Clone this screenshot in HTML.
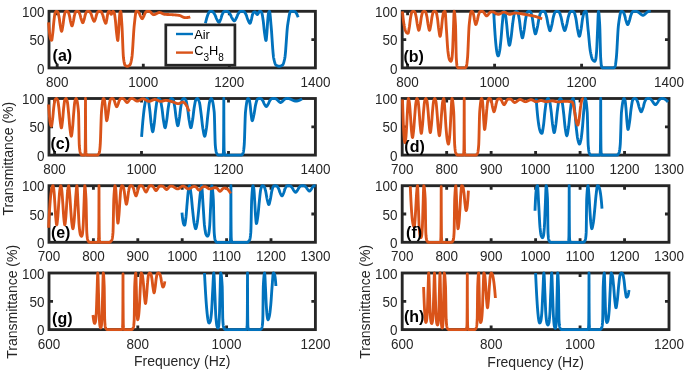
<!DOCTYPE html><html><head><meta charset="utf-8"><style>html,body{margin:0;padding:0;background:#fff}body{width:685px;height:372px;overflow:hidden;position:relative;font-family:"Liberation Sans",sans-serif}</style></head><body><svg width="685" height="372" viewBox="0 0 685 372" style="position:absolute;left:0;top:0;font-family:'Liberation Sans',sans-serif;will-change:transform;opacity:0.9999">
<rect width="685" height="372" fill="#fff"/>
<path d="M57.20 67.90 v-4.03 M57.20 11.30 v4.03" stroke="#262626" stroke-width="2.85" fill="none"/>
<text transform="translate(57.20 86.80) scale(0.930 1)" font-size="14.50" fill="#262626" text-anchor="middle">800</text>
<path d="M143.30 67.90 v-4.03 M143.30 11.30 v4.03" stroke="#262626" stroke-width="2.85" fill="none"/>
<text transform="translate(143.30 86.80) scale(0.930 1)" font-size="14.50" fill="#262626" text-anchor="middle">1000</text>
<path d="M229.30 67.90 v-4.03 M229.30 11.30 v4.03" stroke="#262626" stroke-width="2.85" fill="none"/>
<text transform="translate(229.30 86.80) scale(0.930 1)" font-size="14.50" fill="#262626" text-anchor="middle">1200</text>
<text transform="translate(315.40 86.80) scale(0.930 1)" font-size="14.50" fill="#262626" text-anchor="middle">1400</text>
<path d="M49.00 39.60 h4.03 M315.40 39.60 h-4.03" stroke="#262626" stroke-width="2.85" fill="none"/>
<text transform="translate(44.40 16.90) scale(0.930 1)" font-size="14.50" fill="#262626" text-anchor="end">100</text>
<text transform="translate(44.40 45.20) scale(0.930 1)" font-size="14.50" fill="#262626" text-anchor="end">50</text>
<text transform="translate(44.40 73.50) scale(0.930 1)" font-size="14.50" fill="#262626" text-anchor="end">0</text>
<rect x="49.00" y="11.30" width="266.40" height="56.60" fill="none" stroke="#262626" stroke-width="2.85"/>
<path d="M205.40 23.30 L205.52 22.77 L205.65 22.25 L205.77 21.74 L205.90 21.24 L206.02 20.75 L206.15 20.26 L206.27 19.78 L206.40 19.32 L206.52 18.86 L206.65 18.41 L206.77 17.98 L206.90 17.55 L207.02 17.14 L207.15 16.73 L207.27 16.34 L207.40 15.96 L207.52 15.60 L207.65 15.24 L207.77 14.90 L207.90 14.57 L208.02 14.26 L208.15 13.96 L208.27 13.67 L208.40 13.40 L208.52 13.15 L208.65 12.91 L208.77 12.68 L208.90 12.47 L209.02 12.28 L209.15 12.10 L209.27 11.94 L209.40 11.80 L209.52 11.67 L209.65 11.56 L209.77 11.47 L209.90 11.40 L210.02 11.35 L210.15 11.31 L210.27 11.30 L210.30 11.30 L210.40 11.30 L210.52 11.30 L210.65 11.31 L210.77 11.32 L210.90 11.33 L211.02 11.34 L211.15 11.35 L211.27 11.37 L211.40 11.39 L211.52 11.41 L211.64 11.43 L211.77 11.46 L211.89 11.48 L212.02 11.51 L212.14 11.54 L212.27 11.57 L212.39 11.60 L212.48 11.62 L212.52 11.63 L212.64 11.68 L212.77 11.75 L212.89 11.84 L213.02 11.95 L213.14 12.07 L213.27 12.21 L213.39 12.35 L213.52 12.51 L213.64 12.68 L213.77 12.86 L213.89 13.05 L214.02 13.24 L214.14 13.44 L214.27 13.64 L214.39 13.84 L214.52 14.04 L214.64 14.24 L214.65 14.25 L214.77 14.45 L214.89 14.68 L215.02 14.94 L215.14 15.22 L215.27 15.51 L215.39 15.82 L215.52 16.14 L215.64 16.46 L215.77 16.79 L215.89 17.12 L216.02 17.44 L216.14 17.76 L216.27 18.07 L216.39 18.37 L216.52 18.65 L216.64 18.92 L216.77 19.16 L216.82 19.26 L216.89 19.38 L217.02 19.61 L217.14 19.84 L217.27 20.07 L217.39 20.31 L217.52 20.55 L217.64 20.78 L217.77 21.00 L217.89 21.22 L218.01 21.42 L218.14 21.61 L218.26 21.78 L218.39 21.93 L218.51 22.06 L218.64 22.16 L218.76 22.24 L218.89 22.29 L219.00 22.30 L219.01 22.30 L219.14 22.26 L219.26 22.17 L219.39 22.03 L219.51 21.85 L219.64 21.64 L219.76 21.39 L219.89 21.11 L220.01 20.82 L220.14 20.52 L220.26 20.21 L220.39 19.89 L220.51 19.59 L220.64 19.29 L220.65 19.26 L220.76 18.99 L220.89 18.64 L221.01 18.27 L221.14 17.87 L221.26 17.45 L221.39 17.02 L221.51 16.59 L221.64 16.16 L221.76 15.74 L221.89 15.34 L222.01 14.97 L222.14 14.63 L222.26 14.33 L222.30 14.25 L222.39 14.07 L222.51 13.80 L222.64 13.54 L222.76 13.28 L222.89 13.03 L223.01 12.78 L223.14 12.55 L223.26 12.34 L223.39 12.15 L223.51 11.98 L223.64 11.84 L223.76 11.73 L223.89 11.65 L223.95 11.62 L224.01 11.60 L224.13 11.56 L224.26 11.52 L224.38 11.48 L224.51 11.45 L224.63 11.42 L224.76 11.39 L224.88 11.37 L225.01 11.35 L225.13 11.33 L225.26 11.32 L225.38 11.31 L225.51 11.30 L225.60 11.30 L225.63 11.30 L225.76 11.30 L225.88 11.31 L226.01 11.31 L226.13 11.32 L226.26 11.33 L226.38 11.34 L226.51 11.35 L226.63 11.37 L226.76 11.39 L226.88 11.41 L227.01 11.43 L227.13 11.45 L227.26 11.47 L227.38 11.49 L227.51 11.52 L227.63 11.55 L227.76 11.57 L227.78 11.58 L227.88 11.61 L228.01 11.66 L228.13 11.73 L228.26 11.82 L228.38 11.92 L228.51 12.03 L228.63 12.15 L228.76 12.29 L228.88 12.43 L229.01 12.59 L229.13 12.74 L229.26 12.91 L229.38 13.08 L229.51 13.25 L229.63 13.43 L229.76 13.60 L229.88 13.78 L229.95 13.87 L230.01 13.95 L230.13 14.15 L230.25 14.36 L230.38 14.60 L230.50 14.85 L230.63 15.11 L230.75 15.38 L230.88 15.66 L231.00 15.95 L231.13 16.24 L231.25 16.52 L231.38 16.80 L231.50 17.08 L231.63 17.34 L231.75 17.60 L231.88 17.83 L232.00 18.06 L232.12 18.25 L232.13 18.26 L232.25 18.45 L232.38 18.65 L232.50 18.85 L232.63 19.06 L232.75 19.27 L232.88 19.47 L233.00 19.67 L233.13 19.86 L233.25 20.05 L233.38 20.22 L233.50 20.37 L233.63 20.51 L233.75 20.64 L233.88 20.74 L234.00 20.82 L234.13 20.87 L234.25 20.90 L234.30 20.90 L234.38 20.89 L234.50 20.85 L234.63 20.78 L234.75 20.67 L234.88 20.54 L235.00 20.38 L235.13 20.20 L235.25 20.01 L235.38 19.80 L235.50 19.58 L235.63 19.35 L235.75 19.12 L235.88 18.88 L236.00 18.65 L236.13 18.42 L236.23 18.25 L236.25 18.21 L236.37 17.97 L236.50 17.71 L236.62 17.43 L236.75 17.14 L236.87 16.83 L237.00 16.51 L237.12 16.19 L237.25 15.87 L237.37 15.55 L237.50 15.23 L237.62 14.93 L237.75 14.64 L237.87 14.38 L238.00 14.13 L238.12 13.91 L238.15 13.87 L238.25 13.72 L238.37 13.52 L238.50 13.32 L238.62 13.13 L238.75 12.93 L238.87 12.75 L239.00 12.57 L239.12 12.40 L239.25 12.24 L239.37 12.09 L239.50 11.96 L239.62 11.84 L239.75 11.74 L239.87 11.66 L240.00 11.60 L240.07 11.58 L240.12 11.57 L240.25 11.54 L240.37 11.51 L240.50 11.48 L240.62 11.45 L240.75 11.43 L240.87 11.40 L241.00 11.38 L241.12 11.36 L241.25 11.35 L241.37 11.33 L241.50 11.32 L241.62 11.31 L241.75 11.31 L241.87 11.30 L242.00 11.30 L242.00 11.30 L242.12 11.30 L242.25 11.31 L242.37 11.31 L242.50 11.32 L242.62 11.34 L242.74 11.35 L242.87 11.37 L242.99 11.40 L243.12 11.42 L243.24 11.45 L243.37 11.47 L243.49 11.50 L243.62 11.54 L243.74 11.57 L243.87 11.61 L243.99 11.65 L244.00 11.65 L244.12 11.70 L244.24 11.77 L244.37 11.88 L244.49 12.00 L244.62 12.14 L244.74 12.31 L244.87 12.48 L244.99 12.68 L245.12 12.88 L245.24 13.10 L245.37 13.32 L245.49 13.55 L245.62 13.79 L245.74 14.03 L245.87 14.26 L245.99 14.50 L246.00 14.52 L246.12 14.75 L246.24 15.04 L246.37 15.35 L246.49 15.68 L246.62 16.04 L246.74 16.41 L246.87 16.79 L246.99 17.18 L247.12 17.57 L247.24 17.96 L247.37 18.34 L247.49 18.70 L247.62 19.05 L247.74 19.39 L247.87 19.69 L247.99 19.97 L248.00 19.99 L248.12 20.23 L248.24 20.50 L248.37 20.78 L248.49 21.06 L248.62 21.34 L248.74 21.62 L248.86 21.89 L248.99 22.14 L249.11 22.38 L249.24 22.60 L249.36 22.79 L249.49 22.96 L249.61 23.10 L249.74 23.21 L249.86 23.27 L249.99 23.30 L250.00 23.30 L250.11 23.25 L250.24 23.11 L250.36 22.88 L250.49 22.57 L250.61 22.21 L250.74 21.81 L250.86 21.39 L250.99 20.95 L251.11 20.52 L251.22 20.15 L251.24 20.11 L251.36 19.66 L251.49 19.15 L251.61 18.59 L251.74 17.99 L251.86 17.39 L251.99 16.79 L252.11 16.22 L252.24 15.70 L252.36 15.23 L252.45 14.96 L252.49 14.85 L252.61 14.48 L252.74 14.11 L252.86 13.75 L252.99 13.41 L253.11 13.10 L253.24 12.82 L253.36 12.58 L253.49 12.40 L253.61 12.27 L253.68 12.23 L253.74 12.20 L253.86 12.15 L253.99 12.09 L254.11 12.05 L254.24 12.01 L254.36 11.97 L254.49 11.94 L254.61 11.92 L254.74 11.91 L254.86 11.90 L254.90 11.90 L254.98 11.91 L255.11 11.96 L255.23 12.04 L255.36 12.15 L255.48 12.29 L255.61 12.45 L255.73 12.62 L255.86 12.81 L255.98 13.01 L256.11 13.21 L256.23 13.42 L256.36 13.61 L256.48 13.80 L256.61 13.98 L256.73 14.13 L256.86 14.27 L256.98 14.38 L257.11 14.45 L257.23 14.49 L257.30 14.50 L257.36 14.49 L257.48 14.42 L257.61 14.29 L257.73 14.11 L257.86 13.92 L257.98 13.72 L258.05 13.62 L258.11 13.53 L258.23 13.29 L258.36 13.03 L258.48 12.75 L258.61 12.49 L258.73 12.26 L258.80 12.16 L258.86 12.08 L258.98 11.91 L259.11 11.75 L259.23 11.61 L259.36 11.49 L259.48 11.42 L259.55 11.39 L259.61 11.38 L259.73 11.36 L259.86 11.34 L259.98 11.32 L260.11 11.31 L260.23 11.30 L260.30 11.30 L260.36 11.30 L260.48 11.33 L260.61 11.38 L260.73 11.45 L260.86 11.55 L260.98 11.66 L261.10 11.80 L261.23 11.95 L261.35 12.11 L261.48 12.29 L261.60 12.48 L261.73 12.67 L261.73 12.68 L261.85 12.95 L261.98 13.35 L262.10 13.85 L262.23 14.44 L262.35 15.11 L262.48 15.85 L262.60 16.63 L262.73 17.46 L262.85 18.31 L262.98 19.16 L263.10 20.02 L263.15 20.33 L263.23 20.89 L263.35 21.88 L263.48 22.98 L263.60 24.16 L263.73 25.40 L263.85 26.66 L263.98 27.92 L264.10 29.16 L264.23 30.34 L264.35 31.44 L264.48 32.44 L264.57 33.12 L264.60 33.30 L264.73 34.15 L264.85 35.03 L264.98 35.91 L265.10 36.78 L265.23 37.60 L265.35 38.36 L265.48 39.04 L265.60 39.62 L265.73 40.07 L265.85 40.37 L265.98 40.50 L266.00 40.50 L266.10 40.34 L266.23 39.74 L266.35 38.80 L266.48 37.59 L266.60 36.23 L266.73 34.80 L266.85 33.39 L266.88 33.12 L266.98 31.93 L267.10 30.16 L267.23 28.19 L267.35 26.14 L267.47 24.11 L267.60 22.24 L267.72 20.62 L267.75 20.33 L267.85 19.23 L267.97 17.83 L268.10 16.49 L268.22 15.24 L268.35 14.17 L268.47 13.32 L268.60 12.75 L268.62 12.67 L268.72 12.42 L268.85 12.12 L268.97 11.86 L269.10 11.64 L269.22 11.47 L269.35 11.35 L269.47 11.30 L269.50 11.30 L269.60 11.40 L269.72 11.82 L269.85 12.51 L269.97 13.43 L270.10 14.55 L270.22 15.83 L270.35 17.22 L270.47 18.69 L270.60 20.19 L270.72 21.69 L270.85 23.14 L270.97 24.51 L271.00 24.80 L271.10 25.83 L271.22 27.27 L271.35 28.82 L271.47 30.46 L271.60 32.18 L271.72 33.95 L271.85 35.78 L271.97 37.63 L272.10 39.50 L272.22 41.37 L272.35 43.23 L272.47 45.05 L272.60 46.83 L272.72 48.54 L272.85 50.18 L272.97 51.73 L273.10 53.17 L273.22 54.48 L273.35 55.65 L273.47 56.68 L273.59 57.53 L273.70 58.10 L273.72 58.19 L273.84 58.78 L273.97 59.36 L274.09 59.91 L274.22 60.44 L274.34 60.95 L274.47 61.44 L274.59 61.91 L274.72 62.35 L274.84 62.76 L274.97 63.15 L275.09 63.50 L275.22 63.83 L275.34 64.12 L275.47 64.39 L275.59 64.61 L275.72 64.80 L275.84 64.96 L275.97 65.08 L276.00 65.10 L276.09 65.16 L276.22 65.25 L276.34 65.33 L276.47 65.41 L276.59 65.48 L276.72 65.56 L276.84 65.62 L276.97 65.69 L277.09 65.75 L277.22 65.81 L277.34 65.87 L277.47 65.93 L277.59 65.98 L277.72 66.02 L277.84 66.07 L277.97 66.11 L278.09 66.14 L278.22 66.18 L278.34 66.20 L278.47 66.23 L278.59 66.25 L278.72 66.27 L278.84 66.28 L278.97 66.29 L279.09 66.30 L279.20 66.30 L279.22 66.30 L279.34 66.30 L279.47 66.29 L279.59 66.28 L279.71 66.27 L279.84 66.25 L279.96 66.23 L280.09 66.20 L280.21 66.18 L280.34 66.15 L280.46 66.11 L280.59 66.07 L280.71 66.03 L280.84 65.99 L280.96 65.94 L281.09 65.89 L281.21 65.83 L281.34 65.77 L281.46 65.71 L281.59 65.65 L281.71 65.58 L281.84 65.51 L281.96 65.44 L282.09 65.37 L282.21 65.29 L282.34 65.21 L282.46 65.13 L282.50 65.10 L282.59 65.03 L282.71 64.90 L282.84 64.72 L282.96 64.51 L283.09 64.27 L283.21 63.99 L283.34 63.67 L283.46 63.33 L283.59 62.96 L283.71 62.56 L283.84 62.13 L283.96 61.67 L284.09 61.20 L284.21 60.70 L284.34 60.18 L284.46 59.64 L284.59 59.09 L284.71 58.52 L284.80 58.10 L284.84 57.92 L284.96 57.18 L285.09 56.27 L285.21 55.19 L285.34 53.96 L285.46 52.61 L285.59 51.14 L285.71 49.57 L285.83 47.93 L285.96 46.22 L286.08 44.46 L286.21 42.67 L286.33 40.87 L286.46 39.07 L286.58 37.29 L286.71 35.54 L286.83 33.84 L286.96 32.21 L287.08 30.66 L287.21 29.21 L287.33 27.88 L287.46 26.68 L287.58 25.63 L287.70 24.80 L287.71 24.75 L287.83 23.93 L287.96 23.12 L288.08 22.31 L288.21 21.50 L288.33 20.70 L288.46 19.91 L288.58 19.13 L288.71 18.37 L288.83 17.64 L288.96 16.92 L289.08 16.24 L289.21 15.58 L289.33 14.96 L289.46 14.38 L289.58 13.83 L289.71 13.33 L289.83 12.88 L289.96 12.48 L290.08 12.13 L290.21 11.84 L290.33 11.60 L290.46 11.43 L290.58 11.33 L290.70 11.30 L290.71 11.30 L290.83 11.30 L290.96 11.30 L291.08 11.30 L291.21 11.30 L291.33 11.31 L291.46 11.31 L291.58 11.31 L291.71 11.32 L291.83 11.32 L291.96 11.33 L292.08 11.33 L292.20 11.34 L292.33 11.35 L292.45 11.36 L292.58 11.36 L292.70 11.37 L292.83 11.38 L292.95 11.39 L293.08 11.40 L293.20 11.41 L293.33 11.42 L293.45 11.44 L293.58 11.45 L293.70 11.46 L293.83 11.48 L293.95 11.49 L294.08 11.50 L294.20 11.52 L294.33 11.54 L294.45 11.55 L294.58 11.57 L294.70 11.59 L294.80 11.60 L294.83 11.60 L294.95 11.64 L295.08 11.69 L295.20 11.76 L295.33 11.86 L295.45 11.97 L295.58 12.09 L295.70 12.24 L295.83 12.40 L295.95 12.57 L296.08 12.76 L296.20 12.96 L296.33 13.17 L296.45 13.40 L296.58 13.64 L296.70 13.88 L296.83 14.14 L296.95 14.40 L297.08 14.67 L297.20 14.95 L297.33 15.23 L297.45 15.52 L297.58 15.81 L297.70 16.10 L297.83 16.40 L297.95 16.70 L298.08 17.00 L298.20 17.30" fill="none" stroke="#0072BD" stroke-width="2.85" stroke-linejoin="round" stroke-linecap="butt"/>
<path d="M48.60 22.30 L48.72 24.07 L48.85 25.73 L48.97 27.28 L49.10 28.73 L49.22 30.06 L49.35 31.30 L49.47 32.44 L49.60 33.48 L49.72 34.44 L49.85 35.31 L49.97 36.09 L50.10 36.80 L50.22 37.43 L50.35 37.98 L50.47 38.47 L50.60 38.89 L50.72 39.25 L50.85 39.55 L50.97 39.79 L51.10 39.98 L51.22 40.13 L51.35 40.23 L51.47 40.28 L51.60 40.30 L51.60 40.30 L51.72 40.17 L51.85 39.80 L51.97 39.22 L52.10 38.48 L52.22 37.61 L52.35 36.64 L52.47 35.61 L52.60 34.57 L52.72 33.54 L52.80 32.94 L52.85 32.54 L52.97 31.39 L53.10 30.09 L53.22 28.68 L53.35 27.20 L53.47 25.70 L53.60 24.23 L53.72 22.83 L53.85 21.54 L53.97 20.42 L54.00 20.21 L54.10 19.41 L54.22 18.41 L54.35 17.40 L54.47 16.44 L54.60 15.52 L54.72 14.69 L54.85 13.96 L54.97 13.35 L55.10 12.89 L55.20 12.63 L55.22 12.59 L55.35 12.36 L55.47 12.15 L55.60 11.95 L55.72 11.78 L55.85 11.63 L55.97 11.50 L56.10 11.40 L56.22 11.34 L56.35 11.30 L56.40 11.30 L56.47 11.30 L56.60 11.32 L56.72 11.34 L56.85 11.38 L56.97 11.43 L57.10 11.48 L57.22 11.55 L57.35 11.63 L57.47 11.71 L57.60 11.80 L57.70 11.88 L57.72 11.90 L57.85 12.07 L57.97 12.34 L58.10 12.70 L58.22 13.12 L58.35 13.61 L58.47 14.14 L58.60 14.72 L58.72 15.31 L58.85 15.92 L58.97 16.53 L59.00 16.66 L59.10 17.18 L59.22 17.94 L59.35 18.81 L59.47 19.75 L59.60 20.73 L59.72 21.73 L59.85 22.72 L59.97 23.67 L60.10 24.55 L60.22 25.35 L60.30 25.78 L60.35 26.04 L60.47 26.73 L60.60 27.45 L60.72 28.17 L60.85 28.86 L60.97 29.51 L61.10 30.09 L61.22 30.59 L61.35 30.97 L61.47 31.21 L61.60 31.30 L61.60 31.30 L61.72 31.21 L61.85 30.95 L61.97 30.55 L62.10 30.03 L62.22 29.41 L62.35 28.73 L62.47 28.00 L62.60 27.25 L62.72 26.51 L62.85 25.79 L62.85 25.78 L62.97 25.04 L63.10 24.17 L63.22 23.21 L63.35 22.20 L63.47 21.17 L63.60 20.13 L63.72 19.14 L63.85 18.21 L63.97 17.38 L64.10 16.67 L64.10 16.66 L64.22 16.04 L64.35 15.41 L64.47 14.78 L64.60 14.19 L64.72 13.63 L64.85 13.12 L64.97 12.68 L65.10 12.32 L65.22 12.05 L65.35 11.88 L65.35 11.88 L65.47 11.78 L65.60 11.69 L65.72 11.60 L65.85 11.53 L65.97 11.46 L66.10 11.41 L66.22 11.36 L66.35 11.33 L66.47 11.31 L66.60 11.30 L66.60 11.30 L66.72 11.30 L66.85 11.32 L66.97 11.34 L67.10 11.37 L67.22 11.40 L67.35 11.44 L67.47 11.49 L67.60 11.54 L67.72 11.60 L67.85 11.67 L67.95 11.72 L67.97 11.74 L68.10 11.85 L68.22 12.04 L68.35 12.28 L68.47 12.57 L68.60 12.91 L68.72 13.28 L68.85 13.67 L68.97 14.09 L69.10 14.52 L69.22 14.94 L69.30 15.21 L69.35 15.38 L69.47 15.88 L69.60 16.46 L69.72 17.09 L69.85 17.77 L69.97 18.47 L70.10 19.17 L70.22 19.85 L70.35 20.51 L70.47 21.12 L70.60 21.66 L70.65 21.87 L70.72 22.14 L70.85 22.63 L70.97 23.14 L71.10 23.64 L71.22 24.13 L71.35 24.59 L71.47 25.00 L71.60 25.35 L71.72 25.62 L71.85 25.81 L71.97 25.90 L72.00 25.90 L72.10 25.86 L72.22 25.70 L72.35 25.42 L72.47 25.06 L72.60 24.62 L72.72 24.13 L72.85 23.61 L72.97 23.06 L73.10 22.52 L73.22 21.99 L73.25 21.87 L73.35 21.46 L73.47 20.84 L73.60 20.15 L73.72 19.42 L73.85 18.67 L73.97 17.91 L74.10 17.18 L74.22 16.48 L74.35 15.86 L74.47 15.32 L74.50 15.21 L74.60 14.86 L74.72 14.40 L74.85 13.94 L74.97 13.50 L75.10 13.08 L75.22 12.70 L75.35 12.37 L75.47 12.09 L75.60 11.88 L75.72 11.74 L75.75 11.72 L75.85 11.67 L75.97 11.60 L76.10 11.54 L76.22 11.48 L76.35 11.43 L76.47 11.39 L76.60 11.35 L76.72 11.32 L76.85 11.31 L76.97 11.30 L77.00 11.30 L77.09 11.30 L77.22 11.31 L77.34 11.32 L77.47 11.34 L77.59 11.36 L77.72 11.39 L77.84 11.42 L77.97 11.46 L78.09 11.50 L78.22 11.54 L78.34 11.59 L78.45 11.63 L78.47 11.64 L78.59 11.72 L78.72 11.85 L78.84 12.02 L78.97 12.22 L79.09 12.46 L79.22 12.71 L79.34 12.99 L79.47 13.29 L79.59 13.59 L79.72 13.91 L79.84 14.22 L79.90 14.36 L79.97 14.54 L80.09 14.91 L80.22 15.33 L80.34 15.79 L80.47 16.28 L80.59 16.79 L80.72 17.30 L80.84 17.80 L80.97 18.29 L81.09 18.75 L81.22 19.17 L81.34 19.54 L81.35 19.55 L81.47 19.89 L81.59 20.25 L81.72 20.62 L81.84 20.98 L81.97 21.33 L82.09 21.67 L82.22 21.97 L82.34 22.23 L82.47 22.44 L82.59 22.60 L82.72 22.68 L82.80 22.70 L82.84 22.69 L82.97 22.61 L83.09 22.45 L83.22 22.21 L83.34 21.91 L83.47 21.56 L83.59 21.18 L83.72 20.78 L83.84 20.37 L83.97 19.96 L84.09 19.57 L84.10 19.55 L84.22 19.16 L84.34 18.69 L84.47 18.17 L84.59 17.62 L84.72 17.05 L84.84 16.49 L84.97 15.93 L85.09 15.41 L85.22 14.93 L85.34 14.52 L85.40 14.36 L85.47 14.17 L85.59 13.82 L85.72 13.47 L85.84 13.14 L85.97 12.82 L86.09 12.52 L86.22 12.25 L86.34 12.02 L86.47 11.84 L86.59 11.70 L86.70 11.63 L86.72 11.62 L86.84 11.57 L86.97 11.52 L87.09 11.47 L87.22 11.43 L87.34 11.39 L87.47 11.36 L87.59 11.34 L87.72 11.32 L87.84 11.31 L87.97 11.30 L88.00 11.30 L88.09 11.30 L88.22 11.31 L88.34 11.32 L88.47 11.33 L88.59 11.35 L88.72 11.37 L88.84 11.39 L88.97 11.42 L89.09 11.45 L89.22 11.49 L89.34 11.52 L89.47 11.56 L89.55 11.59 L89.59 11.61 L89.72 11.68 L89.84 11.79 L89.97 11.93 L90.09 12.09 L90.22 12.28 L90.34 12.49 L90.47 12.71 L90.59 12.95 L90.72 13.20 L90.84 13.45 L90.97 13.71 L91.09 13.96 L91.10 13.98 L91.22 14.24 L91.34 14.56 L91.47 14.91 L91.59 15.30 L91.72 15.70 L91.84 16.11 L91.97 16.53 L92.09 16.95 L92.22 17.35 L92.34 17.73 L92.47 18.09 L92.59 18.41 L92.65 18.54 L92.72 18.69 L92.84 18.98 L92.97 19.28 L93.09 19.59 L93.22 19.88 L93.34 20.17 L93.47 20.44 L93.59 20.68 L93.72 20.89 L93.84 21.07 L93.97 21.20 L94.09 21.28 L94.20 21.30 L94.22 21.30 L94.34 21.25 L94.47 21.11 L94.59 20.92 L94.72 20.67 L94.84 20.37 L94.97 20.04 L95.09 19.69 L95.22 19.33 L95.34 18.98 L95.47 18.63 L95.50 18.54 L95.59 18.28 L95.72 17.88 L95.84 17.43 L95.97 16.95 L96.09 16.46 L96.22 15.96 L96.34 15.47 L96.47 15.00 L96.59 14.57 L96.72 14.20 L96.80 13.98 L96.84 13.88 L96.97 13.57 L97.09 13.27 L97.22 12.97 L97.34 12.69 L97.47 12.42 L97.59 12.18 L97.72 11.97 L97.84 11.80 L97.97 11.67 L98.09 11.59 L98.10 11.59 L98.22 11.55 L98.34 11.50 L98.47 11.46 L98.59 11.42 L98.72 11.39 L98.84 11.36 L98.97 11.34 L99.09 11.32 L99.22 11.31 L99.34 11.30 L99.40 11.30 L99.47 11.30 L99.59 11.31 L99.72 11.32 L99.84 11.33 L99.97 11.35 L100.09 11.37 L100.22 11.40 L100.34 11.43 L100.47 11.47 L100.59 11.50 L100.72 11.54 L100.84 11.59 L100.97 11.63 L101.00 11.65 L101.09 11.69 L101.22 11.79 L101.34 11.93 L101.47 12.10 L101.59 12.30 L101.72 12.52 L101.84 12.77 L101.97 13.04 L102.09 13.32 L102.22 13.60 L102.34 13.90 L102.47 14.20 L102.59 14.49 L102.60 14.52 L102.72 14.81 L102.84 15.18 L102.97 15.59 L103.09 16.03 L103.22 16.49 L103.34 16.97 L103.47 17.46 L103.59 17.95 L103.72 18.42 L103.84 18.87 L103.97 19.30 L104.09 19.69 L104.20 19.99 L104.22 20.03 L104.34 20.36 L104.47 20.71 L104.59 21.06 L104.72 21.41 L104.84 21.75 L104.97 22.07 L105.09 22.37 L105.22 22.65 L105.34 22.88 L105.46 23.07 L105.59 23.21 L105.71 23.28 L105.80 23.30 L105.84 23.29 L105.96 23.12 L106.09 22.78 L106.21 22.31 L106.34 21.75 L106.46 21.14 L106.59 20.51 L106.70 19.99 L106.71 19.92 L106.84 19.25 L106.96 18.47 L107.09 17.62 L107.21 16.76 L107.34 15.93 L107.46 15.18 L107.59 14.56 L107.60 14.52 L107.71 14.03 L107.84 13.51 L107.96 13.01 L108.09 12.55 L108.21 12.16 L108.34 11.87 L108.46 11.68 L108.50 11.65 L108.59 11.59 L108.71 11.51 L108.84 11.45 L108.96 11.39 L109.09 11.35 L109.21 11.32 L109.34 11.30 L109.40 11.30 L109.46 11.31 L109.59 11.39 L109.71 11.54 L109.84 11.75 L109.96 12.00 L110.09 12.28 L110.21 12.59 L110.34 12.90 L110.46 13.21 L110.59 13.50 L110.71 13.76 L110.84 13.99 L110.96 14.16 L111.09 14.27 L111.20 14.30 L111.21 14.30 L111.34 14.25 L111.46 14.13 L111.59 13.94 L111.71 13.71 L111.84 13.43 L111.96 13.14 L112.09 12.83 L112.21 12.52 L112.34 12.22 L112.46 11.94 L112.59 11.70 L112.71 11.50 L112.84 11.37 L112.96 11.30 L113.00 11.30 L113.09 11.31 L113.21 11.35 L113.34 11.43 L113.46 11.54 L113.59 11.68 L113.71 11.84 L113.84 12.03 L113.96 12.24 L114.09 12.46 L114.20 12.67 L114.21 12.70 L114.34 13.05 L114.46 13.57 L114.59 14.23 L114.71 15.00 L114.84 15.87 L114.96 16.81 L115.09 17.80 L115.21 18.82 L115.34 19.84 L115.40 20.33 L115.46 20.86 L115.59 22.05 L115.71 23.39 L115.84 24.82 L115.96 26.31 L116.09 27.81 L116.21 29.28 L116.34 30.67 L116.46 31.93 L116.59 33.03 L116.60 33.12 L116.71 34.03 L116.84 35.07 L116.96 36.12 L117.09 37.13 L117.21 38.07 L117.34 38.91 L117.46 39.61 L117.59 40.13 L117.71 40.43 L117.80 40.50 L117.84 40.47 L117.96 39.92 L118.09 38.83 L118.21 37.36 L118.34 35.68 L118.46 33.95 L118.53 33.12 L118.59 32.24 L118.71 30.14 L118.84 27.75 L118.96 25.27 L119.09 22.90 L119.21 20.85 L119.25 20.33 L119.34 19.16 L119.46 17.48 L119.59 15.89 L119.71 14.50 L119.84 13.40 L119.96 12.71 L119.97 12.67 L120.09 12.33 L120.21 11.98 L120.34 11.70 L120.46 11.48 L120.59 11.34 L120.70 11.30 L120.71 11.30 L120.84 11.59 L120.96 12.31 L121.09 13.39 L121.21 14.77 L121.34 16.39 L121.46 18.18 L121.59 20.06 L121.71 21.99 L121.84 23.88 L121.90 24.80 L121.96 25.75 L122.09 28.01 L122.21 30.65 L122.34 33.56 L122.46 36.67 L122.59 39.89 L122.71 43.12 L122.84 46.28 L122.96 49.27 L123.09 52.00 L123.21 54.39 L123.34 56.35 L123.46 57.78 L123.50 58.10 L123.59 58.75 L123.71 59.64 L123.84 60.48 L123.96 61.26 L124.09 61.98 L124.21 62.64 L124.34 63.24 L124.46 63.76 L124.59 64.21 L124.71 64.58 L124.84 64.86 L124.96 65.06 L125.00 65.10 L125.09 65.18 L125.21 65.30 L125.34 65.41 L125.46 65.52 L125.59 65.62 L125.71 65.71 L125.84 65.80 L125.96 65.88 L126.09 65.95 L126.21 66.02 L126.34 66.08 L126.46 66.13 L126.59 66.18 L126.71 66.22 L126.84 66.25 L126.96 66.27 L127.09 66.29 L127.21 66.30 L127.30 66.30 L127.34 66.30 L127.46 66.29 L127.59 66.28 L127.71 66.26 L127.84 66.24 L127.96 66.20 L128.09 66.17 L128.21 66.12 L128.34 66.07 L128.46 66.01 L128.59 65.95 L128.71 65.89 L128.84 65.81 L128.96 65.74 L129.09 65.65 L129.21 65.57 L129.34 65.48 L129.46 65.38 L129.59 65.28 L129.71 65.18 L129.80 65.10 L129.84 65.07 L129.96 64.92 L130.09 64.72 L130.21 64.47 L130.34 64.18 L130.46 63.85 L130.59 63.47 L130.71 63.06 L130.84 62.61 L130.96 62.12 L131.09 61.60 L131.21 61.05 L131.34 60.47 L131.46 59.87 L131.59 59.23 L131.71 58.58 L131.80 58.10 L131.84 57.90 L131.96 57.03 L132.09 55.94 L132.21 54.65 L132.34 53.18 L132.46 51.56 L132.59 49.80 L132.71 47.94 L132.84 46.00 L132.96 43.99 L133.09 41.94 L133.21 39.88 L133.34 37.83 L133.46 35.81 L133.58 33.85 L133.71 31.96 L133.83 30.17 L133.96 28.51 L134.08 27.00 L134.21 25.65 L134.30 24.80 L134.33 24.49 L134.46 23.36 L134.58 22.20 L134.71 21.04 L134.83 19.88 L134.96 18.74 L135.08 17.63 L135.21 16.57 L135.33 15.57 L135.46 14.63 L135.58 13.79 L135.71 13.05 L135.83 12.42 L135.96 11.91 L136.08 11.55 L136.21 11.35 L136.30 11.30 L136.33 11.30 L136.46 11.30 L136.58 11.31 L136.71 11.32 L136.83 11.33 L136.96 11.35 L137.08 11.37 L137.21 11.39 L137.33 11.41 L137.46 11.44 L137.58 11.47 L137.71 11.50 L137.78 11.51 L137.83 11.53 L137.96 11.60 L138.08 11.68 L138.21 11.80 L138.33 11.93 L138.46 12.09 L138.58 12.25 L138.71 12.44 L138.83 12.63 L138.96 12.82 L139.08 13.02 L139.21 13.22 L139.25 13.28 L139.33 13.42 L139.46 13.67 L139.58 13.94 L139.71 14.23 L139.83 14.55 L139.96 14.87 L140.08 15.19 L140.21 15.52 L140.33 15.83 L140.46 16.12 L140.58 16.39 L140.71 16.63 L140.72 16.66 L140.83 16.85 L140.96 17.08 L141.08 17.32 L141.21 17.55 L141.33 17.78 L141.46 17.99 L141.58 18.19 L141.71 18.36 L141.83 18.50 L141.96 18.61 L142.08 18.68 L142.20 18.70 L142.21 18.70 L142.33 18.67 L142.46 18.59 L142.58 18.46 L142.71 18.30 L142.83 18.11 L142.96 17.89 L143.08 17.66 L143.21 17.42 L143.33 17.17 L143.46 16.92 L143.58 16.69 L143.60 16.66 L143.71 16.45 L143.83 16.17 L143.96 15.86 L144.08 15.53 L144.21 15.19 L144.33 14.85 L144.46 14.51 L144.58 14.19 L144.71 13.88 L144.83 13.60 L144.96 13.36 L145.00 13.28 L145.08 13.14 L145.21 12.94 L145.33 12.73 L145.46 12.52 L145.58 12.33 L145.71 12.15 L145.83 11.98 L145.96 11.83 L146.08 11.71 L146.21 11.61 L146.33 11.54 L146.40 11.51 L146.46 11.50 L146.58 11.47 L146.71 11.44 L146.83 11.41 L146.96 11.38 L147.08 11.36 L147.21 11.34 L147.33 11.33 L147.46 11.31 L147.58 11.31 L147.71 11.30 L147.80 11.30 L147.83 11.30 L147.96 11.30 L148.08 11.30 L148.21 11.31 L148.33 11.32 L148.46 11.32 L148.58 11.33 L148.71 11.34 L148.83 11.35 L148.96 11.37 L149.08 11.38 L149.21 11.39 L149.25 11.40 L149.33 11.41 L149.46 11.44 L149.58 11.49 L149.71 11.54 L149.83 11.61 L149.96 11.68 L150.08 11.76 L150.21 11.85 L150.33 11.94 L150.46 12.03 L150.58 12.12 L150.70 12.21 L150.71 12.22 L150.83 12.32 L150.96 12.44 L151.08 12.57 L151.21 12.71 L151.33 12.86 L151.46 13.01 L151.58 13.16 L151.71 13.31 L151.83 13.45 L151.96 13.59 L152.08 13.70 L152.15 13.76 L152.21 13.81 L152.33 13.91 L152.46 14.02 L152.58 14.13 L152.71 14.24 L152.83 14.34 L152.96 14.44 L153.08 14.52 L153.21 14.59 L153.33 14.65 L153.46 14.68 L153.58 14.70 L153.60 14.70 L153.71 14.70 L153.83 14.69 L153.96 14.68 L154.08 14.66 L154.21 14.64 L154.33 14.61 L154.46 14.57 L154.58 14.54 L154.71 14.50 L154.83 14.45 L154.96 14.40 L155.08 14.35 L155.21 14.30 L155.33 14.24 L155.46 14.18 L155.58 14.12 L155.71 14.06 L155.83 13.99 L155.96 13.93 L156.08 13.86 L156.21 13.79 L156.33 13.72 L156.46 13.65 L156.58 13.58 L156.71 13.51 L156.83 13.44 L156.96 13.37 L157.08 13.31 L157.21 13.24 L157.33 13.17 L157.46 13.11 L157.58 13.05 L157.71 12.99 L157.83 12.93 L157.96 12.87 L158.08 12.82 L158.21 12.77 L158.33 12.73 L158.46 12.68 L158.58 12.64 L158.71 12.61 L158.83 12.58 L158.96 12.55 L159.08 12.53 L159.21 12.52 L159.33 12.51 L159.46 12.50 L159.50 12.50 L159.58 12.50 L159.71 12.51 L159.83 12.52 L159.96 12.54 L160.08 12.56 L160.21 12.59 L160.33 12.62 L160.46 12.65 L160.58 12.69 L160.71 12.73 L160.83 12.78 L160.96 12.83 L161.08 12.88 L161.21 12.93 L161.33 12.99 L161.46 13.05 L161.58 13.10 L161.71 13.17 L161.83 13.23 L161.95 13.29 L162.08 13.35 L162.20 13.42 L162.33 13.48 L162.45 13.54 L162.58 13.60 L162.70 13.67 L162.83 13.73 L162.95 13.78 L163.08 13.84 L163.20 13.90 L163.33 13.95 L163.45 14.00 L163.58 14.05 L163.70 14.09 L163.83 14.13 L163.95 14.17 L164.08 14.21 L164.20 14.24 L164.33 14.26 L164.45 14.28 L164.58 14.30 L164.60 14.30 L164.70 14.31 L164.83 14.32 L164.95 14.33 L165.08 14.34 L165.20 14.35 L165.33 14.36 L165.45 14.37 L165.58 14.38 L165.70 14.39 L165.83 14.40 L165.95 14.41 L166.08 14.42 L166.20 14.43 L166.33 14.43 L166.45 14.44 L166.58 14.45 L166.70 14.45 L166.83 14.46 L166.95 14.47 L167.08 14.47 L167.20 14.48 L167.33 14.49 L167.45 14.49 L167.58 14.50 L167.70 14.50 L167.83 14.51 L167.95 14.51 L168.08 14.52 L168.20 14.52 L168.33 14.53 L168.45 14.53 L168.58 14.54 L168.70 14.54 L168.83 14.55 L168.95 14.55 L169.08 14.56 L169.20 14.56 L169.33 14.57 L169.45 14.57 L169.58 14.58 L169.70 14.58 L169.83 14.59 L169.95 14.59 L170.08 14.60 L170.20 14.60 L170.33 14.61 L170.45 14.61 L170.58 14.62 L170.70 14.62 L170.83 14.63 L170.95 14.64 L171.08 14.64 L171.20 14.65 L171.33 14.66 L171.45 14.66 L171.58 14.67 L171.70 14.68 L171.83 14.69 L171.95 14.70 L172.00 14.70 L172.08 14.71 L172.20 14.71 L172.33 14.72 L172.45 14.73 L172.58 14.74 L172.70 14.75 L172.83 14.76 L172.95 14.77 L173.08 14.77 L173.20 14.78 L173.33 14.79 L173.45 14.80 L173.58 14.81 L173.70 14.82 L173.83 14.83 L173.95 14.84 L174.08 14.85 L174.20 14.86 L174.33 14.87 L174.45 14.88 L174.58 14.89 L174.70 14.90 L174.83 14.91 L174.95 14.92 L175.08 14.93 L175.20 14.94 L175.33 14.95 L175.45 14.96 L175.58 14.97 L175.70 14.98 L175.83 14.99 L175.95 15.00 L176.08 15.01 L176.20 15.03 L176.33 15.04 L176.45 15.05 L176.58 15.06 L176.70 15.08 L176.83 15.09 L176.95 15.10 L177.08 15.12 L177.20 15.13 L177.33 15.15 L177.45 15.16 L177.58 15.18 L177.70 15.19 L177.83 15.21 L177.95 15.22 L178.08 15.24 L178.20 15.25 L178.33 15.27 L178.45 15.29 L178.58 15.31 L178.70 15.32 L178.83 15.34 L178.95 15.36 L179.08 15.38 L179.20 15.40 L179.20 15.40 L179.33 15.42 L179.45 15.45 L179.58 15.48 L179.70 15.51 L179.83 15.55 L179.95 15.59 L180.08 15.64 L180.20 15.68 L180.33 15.73 L180.45 15.78 L180.58 15.84 L180.70 15.90 L180.83 15.96 L180.95 16.02 L181.08 16.08 L181.20 16.14 L181.33 16.21 L181.45 16.27 L181.58 16.34 L181.70 16.40 L181.83 16.47 L181.95 16.54 L182.08 16.60 L182.20 16.67 L182.33 16.73 L182.45 16.80 L182.58 16.86 L182.70 16.92 L182.83 16.99 L182.95 17.04 L183.08 17.10 L183.20 17.16 L183.33 17.21 L183.45 17.26 L183.58 17.31 L183.70 17.35 L183.83 17.40 L183.95 17.43 L184.08 17.47 L184.20 17.50 L184.33 17.53 L184.45 17.55 L184.58 17.57 L184.70 17.59 L184.83 17.59 L184.95 17.60 L185.00 17.60 L185.08 17.60 L185.20 17.60 L185.33 17.60 L185.45 17.60 L185.58 17.60 L185.70 17.60 L185.83 17.59 L185.95 17.59 L186.08 17.59 L186.20 17.59 L186.33 17.58 L186.45 17.58 L186.58 17.57 L186.70 17.57 L186.83 17.56 L186.95 17.55 L187.08 17.54 L187.20 17.53 L187.33 17.52 L187.45 17.51 L187.58 17.50 L187.70 17.48 L187.83 17.47 L187.95 17.45 L188.08 17.44 L188.20 17.42 L188.33 17.40 L188.45 17.38 L188.58 17.35 L188.70 17.33 L188.83 17.30 L188.95 17.27 L189.08 17.24 L189.20 17.21 L189.33 17.18 L189.45 17.15 L189.58 17.11 L189.70 17.07 L189.83 17.03 L189.95 16.99 L190.08 16.95 L190.20 16.90" fill="none" stroke="#D95319" stroke-width="2.85" stroke-linejoin="round" stroke-linecap="butt"/>
<text x="52.60" y="60.60" font-size="16.00" font-weight="bold" fill="#000">(a)</text>
<path d="M407.60 67.90 v-4.03 M407.60 11.30 v4.03" stroke="#262626" stroke-width="2.85" fill="none"/>
<text transform="translate(407.60 86.80) scale(0.930 1)" font-size="14.50" fill="#262626" text-anchor="middle">800</text>
<path d="M494.60 67.90 v-4.03 M494.60 11.30 v4.03" stroke="#262626" stroke-width="2.85" fill="none"/>
<text transform="translate(494.60 86.80) scale(0.930 1)" font-size="14.50" fill="#262626" text-anchor="middle">1000</text>
<path d="M581.60 67.90 v-4.03 M581.60 11.30 v4.03" stroke="#262626" stroke-width="2.85" fill="none"/>
<text transform="translate(581.60 86.80) scale(0.930 1)" font-size="14.50" fill="#262626" text-anchor="middle">1200</text>
<text transform="translate(669.00 86.80) scale(0.930 1)" font-size="14.50" fill="#262626" text-anchor="middle">1400</text>
<path d="M402.20 39.60 h4.03 M669.00 39.60 h-4.03" stroke="#262626" stroke-width="2.85" fill="none"/>
<text transform="translate(397.60 16.90) scale(0.930 1)" font-size="14.50" fill="#262626" text-anchor="end">100</text>
<text transform="translate(397.60 45.20) scale(0.930 1)" font-size="14.50" fill="#262626" text-anchor="end">50</text>
<text transform="translate(397.60 73.50) scale(0.930 1)" font-size="14.50" fill="#262626" text-anchor="end">0</text>
<rect x="402.20" y="11.30" width="266.80" height="56.60" fill="none" stroke="#262626" stroke-width="2.85"/>
<path d="M493.70 11.30 L493.82 13.77 L493.95 16.17 L494.07 18.49 L494.20 20.75 L494.32 22.93 L494.45 25.04 L494.57 27.08 L494.70 29.05 L494.82 30.95 L494.95 32.77 L495.07 34.53 L495.20 36.22 L495.32 37.83 L495.45 39.38 L495.57 40.86 L495.70 42.26 L495.82 43.60 L495.95 44.86 L496.07 46.06 L496.20 47.19 L496.32 48.25 L496.45 49.24 L496.57 50.16 L496.70 51.01 L496.82 51.79 L496.95 52.50 L497.07 53.15 L497.20 53.73 L497.32 54.23 L497.45 54.68 L497.57 55.05 L497.70 55.35 L497.82 55.59 L497.95 55.76 L498.07 55.86 L498.20 55.90 L498.20 55.90 L498.32 55.85 L498.45 55.68 L498.57 55.43 L498.70 55.08 L498.82 54.67 L498.95 54.19 L499.07 53.67 L499.20 53.10 L499.32 52.51 L499.45 51.91 L499.57 51.30 L499.60 51.15 L499.70 50.66 L499.82 49.90 L499.95 49.03 L500.07 48.07 L500.19 47.03 L500.32 45.93 L500.44 44.76 L500.57 43.56 L500.69 42.33 L500.82 41.08 L500.94 39.84 L501.00 39.28 L501.07 38.57 L501.19 37.20 L501.32 35.73 L501.44 34.18 L501.57 32.57 L501.69 30.95 L501.82 29.33 L501.94 27.73 L502.07 26.19 L502.19 24.73 L502.32 23.38 L502.40 22.56 L502.44 22.14 L502.57 20.86 L502.69 19.53 L502.82 18.17 L502.94 16.84 L503.07 15.57 L503.19 14.39 L503.32 13.34 L503.44 12.48 L503.57 11.82 L503.69 11.42 L503.80 11.30 L503.82 11.30 L503.94 11.33 L504.07 11.41 L504.19 11.54 L504.32 11.70 L504.44 11.91 L504.57 12.14 L504.69 12.40 L504.82 12.69 L504.94 13.00 L505.07 13.32 L505.19 13.66 L505.20 13.68 L505.32 14.07 L505.44 14.63 L505.57 15.32 L505.69 16.13 L505.82 17.03 L505.94 18.00 L506.07 19.03 L506.19 20.09 L506.31 21.18 L506.44 22.26 L506.56 23.33 L506.60 23.63 L506.69 24.41 L506.81 25.60 L506.94 26.90 L507.06 28.26 L507.19 29.66 L507.31 31.07 L507.44 32.46 L507.56 33.80 L507.69 35.08 L507.81 36.24 L507.94 37.28 L508.00 37.73 L508.06 38.19 L508.19 39.10 L508.31 40.03 L508.44 40.95 L508.56 41.84 L508.69 42.67 L508.81 43.43 L508.94 44.09 L509.06 44.63 L509.19 45.02 L509.31 45.25 L509.40 45.30 L509.44 45.29 L509.56 45.18 L509.69 44.94 L509.81 44.58 L509.94 44.12 L510.06 43.57 L510.19 42.95 L510.31 42.27 L510.44 41.54 L510.56 40.77 L510.69 39.99 L510.81 39.20 L510.94 38.42 L511.05 37.73 L511.06 37.67 L511.19 36.85 L511.31 35.93 L511.44 34.92 L511.56 33.83 L511.69 32.69 L511.81 31.52 L511.94 30.33 L512.06 29.13 L512.19 27.95 L512.31 26.80 L512.44 25.71 L512.56 24.68 L512.68 23.73 L512.70 23.63 L512.81 22.84 L512.93 21.93 L513.06 21.00 L513.18 20.08 L513.31 19.18 L513.43 18.30 L513.56 17.45 L513.68 16.65 L513.81 15.92 L513.93 15.25 L514.06 14.66 L514.18 14.17 L514.31 13.79 L514.35 13.68 L514.43 13.49 L514.56 13.21 L514.68 12.94 L514.81 12.68 L514.93 12.43 L515.06 12.21 L515.18 12.00 L515.31 11.81 L515.43 11.65 L515.56 11.52 L515.68 11.42 L515.81 11.34 L515.93 11.31 L516.00 11.30 L516.06 11.30 L516.18 11.31 L516.31 11.34 L516.43 11.38 L516.56 11.43 L516.68 11.49 L516.81 11.56 L516.93 11.64 L517.06 11.73 L517.18 11.83 L517.31 11.94 L517.43 12.05 L517.56 12.17 L517.60 12.22 L517.68 12.32 L517.81 12.55 L517.93 12.86 L518.06 13.25 L518.18 13.70 L518.31 14.21 L518.43 14.77 L518.56 15.37 L518.68 16.00 L518.81 16.65 L518.93 17.32 L519.05 17.99 L519.18 18.65 L519.20 18.76 L519.30 19.36 L519.43 20.16 L519.55 21.06 L519.68 22.03 L519.80 23.04 L519.93 24.09 L520.05 25.15 L520.18 26.21 L520.30 27.24 L520.43 28.23 L520.55 29.16 L520.68 30.01 L520.80 30.75 L520.80 30.77 L520.93 31.49 L521.05 32.23 L521.18 32.99 L521.30 33.75 L521.43 34.48 L521.55 35.19 L521.68 35.84 L521.80 36.44 L521.93 36.95 L522.05 37.36 L522.18 37.67 L522.30 37.85 L522.40 37.90 L522.43 37.90 L522.55 37.80 L522.68 37.57 L522.80 37.24 L522.93 36.80 L523.05 36.28 L523.18 35.69 L523.30 35.04 L523.43 34.35 L523.55 33.63 L523.68 32.90 L523.80 32.16 L523.93 31.44 L524.05 30.75 L524.05 30.74 L524.18 30.01 L524.30 29.19 L524.43 28.29 L524.55 27.33 L524.68 26.33 L524.80 25.31 L524.93 24.28 L525.05 23.26 L525.17 22.26 L525.30 21.31 L525.42 20.42 L525.55 19.61 L525.67 18.89 L525.70 18.76 L525.80 18.25 L525.92 17.60 L526.05 16.95 L526.17 16.31 L526.30 15.69 L526.42 15.09 L526.55 14.53 L526.67 14.00 L526.80 13.53 L526.92 13.11 L527.05 12.76 L527.17 12.48 L527.30 12.27 L527.35 12.22 L527.42 12.15 L527.55 12.03 L527.67 11.92 L527.80 11.82 L527.92 11.72 L528.05 11.64 L528.17 11.56 L528.30 11.49 L528.42 11.43 L528.55 11.38 L528.67 11.34 L528.80 11.32 L528.92 11.30 L529.00 11.30 L529.05 11.30 L529.17 11.31 L529.30 11.33 L529.42 11.35 L529.55 11.39 L529.67 11.43 L529.80 11.48 L529.92 11.54 L530.05 11.60 L530.17 11.67 L530.30 11.75 L530.42 11.83 L530.55 11.92 L530.60 11.96 L530.67 12.02 L530.80 12.19 L530.92 12.44 L531.05 12.75 L531.17 13.12 L531.30 13.53 L531.42 13.99 L531.54 14.49 L531.67 15.01 L531.79 15.55 L531.92 16.10 L532.04 16.66 L532.17 17.22 L532.20 17.36 L532.29 17.80 L532.42 18.48 L532.54 19.24 L532.67 20.06 L532.79 20.93 L532.92 21.83 L533.04 22.74 L533.17 23.66 L533.29 24.55 L533.42 25.42 L533.54 26.23 L533.67 26.97 L533.79 27.63 L533.80 27.66 L533.92 28.25 L534.04 28.90 L534.17 29.56 L534.29 30.22 L534.42 30.86 L534.54 31.48 L534.67 32.06 L534.79 32.58 L534.92 33.03 L535.04 33.41 L535.17 33.68 L535.29 33.85 L535.40 33.90 L535.42 33.90 L535.54 33.84 L535.67 33.70 L535.79 33.48 L535.92 33.19 L536.04 32.83 L536.17 32.43 L536.29 31.98 L536.42 31.49 L536.54 30.97 L536.67 30.43 L536.79 29.88 L536.92 29.33 L537.04 28.77 L537.17 28.23 L537.29 27.70 L537.30 27.66 L537.42 27.16 L537.54 26.56 L537.66 25.90 L537.79 25.21 L537.91 24.48 L538.04 23.72 L538.16 22.95 L538.29 22.18 L538.41 21.41 L538.54 20.66 L538.66 19.94 L538.79 19.25 L538.91 18.61 L539.04 18.02 L539.16 17.50 L539.20 17.36 L539.29 17.02 L539.41 16.55 L539.54 16.08 L539.66 15.61 L539.79 15.16 L539.91 14.71 L540.04 14.28 L540.16 13.88 L540.29 13.49 L540.41 13.14 L540.54 12.83 L540.66 12.55 L540.79 12.32 L540.91 12.13 L541.04 12.00 L541.10 11.96 L541.16 11.92 L541.29 11.84 L541.41 11.77 L541.54 11.71 L541.66 11.65 L541.79 11.59 L541.91 11.53 L542.04 11.49 L542.16 11.44 L542.29 11.40 L542.41 11.37 L542.54 11.35 L542.66 11.32 L542.79 11.31 L542.91 11.30 L543.00 11.30 L543.04 11.30 L543.16 11.31 L543.29 11.32 L543.41 11.34 L543.54 11.36 L543.66 11.39 L543.79 11.43 L543.91 11.47 L544.03 11.51 L544.16 11.57 L544.28 11.62 L544.41 11.68 L544.53 11.74 L544.66 11.81 L544.75 11.86 L544.78 11.88 L544.91 12.00 L545.03 12.17 L545.16 12.39 L545.28 12.65 L545.41 12.95 L545.53 13.28 L545.66 13.65 L545.78 14.03 L545.91 14.44 L546.03 14.87 L546.16 15.30 L546.28 15.74 L546.41 16.18 L546.50 16.50 L546.53 16.62 L546.66 17.11 L546.78 17.66 L546.91 18.27 L547.03 18.92 L547.16 19.61 L547.28 20.32 L547.41 21.03 L547.53 21.75 L547.66 22.46 L547.78 23.15 L547.91 23.80 L548.03 24.41 L548.16 24.97 L548.25 25.35 L548.28 25.47 L548.41 25.96 L548.53 26.47 L548.66 26.99 L548.78 27.51 L548.91 28.02 L549.03 28.51 L549.16 28.97 L549.28 29.39 L549.41 29.77 L549.53 30.10 L549.66 30.37 L549.78 30.56 L549.91 30.67 L550.00 30.70 L550.03 30.70 L550.16 30.63 L550.28 30.48 L550.40 30.25 L550.53 29.95 L550.65 29.60 L550.78 29.19 L550.90 28.75 L551.03 28.27 L551.15 27.77 L551.28 27.26 L551.40 26.74 L551.53 26.22 L551.65 25.72 L551.75 25.35 L551.78 25.23 L551.90 24.71 L552.03 24.12 L552.15 23.49 L552.28 22.82 L552.40 22.12 L552.53 21.41 L552.65 20.69 L552.78 19.97 L552.90 19.28 L553.03 18.60 L553.15 17.97 L553.28 17.39 L553.40 16.86 L553.50 16.50 L553.53 16.40 L553.65 15.97 L553.78 15.53 L553.90 15.09 L554.03 14.66 L554.15 14.24 L554.28 13.84 L554.40 13.47 L554.53 13.12 L554.65 12.80 L554.78 12.52 L554.90 12.28 L555.03 12.08 L555.15 11.94 L555.25 11.86 L555.28 11.85 L555.40 11.78 L555.53 11.71 L555.65 11.65 L555.78 11.59 L555.90 11.54 L556.03 11.49 L556.15 11.45 L556.28 11.41 L556.40 11.38 L556.52 11.35 L556.65 11.33 L556.77 11.31 L556.90 11.30 L557.00 11.30 L557.02 11.30 L557.15 11.30 L557.27 11.31 L557.40 11.33 L557.52 11.35 L557.65 11.37 L557.77 11.40 L557.90 11.44 L558.02 11.47 L558.15 11.52 L558.27 11.56 L558.40 11.61 L558.52 11.66 L558.65 11.72 L558.77 11.78 L558.90 11.84 L558.92 11.86 L559.02 11.92 L559.15 12.05 L559.27 12.21 L559.40 12.42 L559.52 12.66 L559.65 12.93 L559.77 13.23 L559.90 13.55 L560.02 13.89 L560.15 14.25 L560.27 14.63 L560.40 15.02 L560.52 15.41 L560.65 15.80 L560.77 16.20 L560.85 16.45 L560.90 16.60 L561.02 17.04 L561.15 17.54 L561.27 18.08 L561.40 18.66 L561.52 19.26 L561.65 19.89 L561.77 20.53 L561.90 21.18 L562.02 21.83 L562.15 22.46 L562.27 23.07 L562.40 23.66 L562.52 24.21 L562.65 24.72 L562.77 25.18 L562.78 25.20 L562.89 25.62 L563.02 26.08 L563.14 26.54 L563.27 27.01 L563.39 27.47 L563.52 27.93 L563.64 28.36 L563.77 28.78 L563.89 29.16 L564.02 29.51 L564.14 29.82 L564.27 30.08 L564.39 30.28 L564.52 30.42 L564.64 30.49 L564.70 30.50 L564.77 30.49 L564.89 30.41 L565.02 30.25 L565.14 30.03 L565.27 29.76 L565.39 29.43 L565.52 29.06 L565.64 28.66 L565.77 28.22 L565.89 27.77 L566.02 27.30 L566.14 26.82 L566.27 26.34 L566.39 25.87 L566.52 25.41 L566.58 25.20 L566.64 24.96 L566.77 24.46 L566.89 23.91 L567.02 23.32 L567.14 22.70 L567.27 22.05 L567.39 21.40 L567.52 20.73 L567.64 20.07 L567.77 19.42 L567.89 18.79 L568.02 18.19 L568.14 17.62 L568.27 17.11 L568.39 16.64 L568.45 16.45 L568.52 16.23 L568.64 15.83 L568.77 15.42 L568.89 15.02 L569.02 14.62 L569.14 14.24 L569.26 13.87 L569.39 13.52 L569.51 13.19 L569.64 12.88 L569.76 12.61 L569.89 12.37 L570.01 12.17 L570.14 12.01 L570.26 11.90 L570.33 11.86 L570.39 11.82 L570.51 11.76 L570.64 11.70 L570.76 11.64 L570.89 11.59 L571.01 11.54 L571.14 11.50 L571.26 11.45 L571.39 11.42 L571.51 11.38 L571.64 11.36 L571.76 11.34 L571.89 11.32 L572.01 11.31 L572.14 11.30 L572.20 11.30 L572.26 11.30 L572.39 11.31 L572.51 11.33 L572.64 11.35 L572.76 11.38 L572.89 11.42 L573.01 11.47 L573.14 11.52 L573.26 11.57 L573.39 11.64 L573.51 11.71 L573.64 11.78 L573.76 11.86 L573.89 11.94 L574.00 12.03 L574.01 12.03 L574.14 12.16 L574.26 12.36 L574.39 12.62 L574.51 12.93 L574.64 13.29 L574.76 13.70 L574.89 14.14 L575.01 14.61 L575.14 15.12 L575.26 15.64 L575.38 16.18 L575.51 16.72 L575.63 17.27 L575.76 17.82 L575.80 18.00 L575.88 18.39 L576.01 19.04 L576.13 19.76 L576.26 20.54 L576.38 21.37 L576.51 22.24 L576.63 23.13 L576.76 24.03 L576.88 24.93 L577.01 25.81 L577.13 26.67 L577.26 27.48 L577.38 28.24 L577.51 28.94 L577.60 29.40 L577.63 29.56 L577.76 30.18 L577.88 30.82 L578.01 31.47 L578.13 32.12 L578.26 32.76 L578.38 33.37 L578.51 33.96 L578.63 34.50 L578.76 34.99 L578.88 35.42 L579.01 35.78 L579.13 36.05 L579.26 36.23 L579.38 36.30 L579.40 36.30 L579.51 36.25 L579.63 36.08 L579.76 35.79 L579.88 35.40 L580.01 34.92 L580.13 34.38 L580.26 33.77 L580.38 33.12 L580.51 32.43 L580.63 31.73 L580.76 31.02 L580.88 30.31 L581.01 29.63 L581.05 29.40 L581.13 28.96 L581.26 28.20 L581.38 27.36 L581.51 26.47 L581.63 25.52 L581.75 24.55 L581.88 23.57 L582.00 22.59 L582.13 21.63 L582.25 20.72 L582.38 19.85 L582.50 19.06 L582.63 18.35 L582.70 18.00 L582.75 17.74 L582.88 17.14 L583.00 16.54 L583.13 15.95 L583.25 15.37 L583.38 14.81 L583.50 14.28 L583.63 13.79 L583.75 13.34 L583.88 12.94 L584.00 12.60 L584.13 12.33 L584.25 12.13 L584.35 12.03 L584.38 12.00 L584.50 11.91 L584.63 11.82 L584.75 11.74 L584.88 11.66 L585.00 11.59 L585.13 11.52 L585.25 11.47 L585.38 11.42 L585.50 11.38 L585.63 11.34 L585.75 11.32 L585.88 11.30 L586.00 11.30 L586.00 11.30 L586.13 11.42 L586.25 11.77 L586.38 12.32 L586.50 13.05 L586.63 13.94 L586.75 14.97 L586.88 16.13 L587.00 17.39 L587.13 18.72 L587.25 20.12 L587.38 21.55 L587.50 23.00 L587.63 24.46 L587.75 25.88 L587.88 27.27 L588.00 28.59 L588.12 29.83 L588.17 30.30 L588.25 31.00 L588.37 32.22 L588.50 33.49 L588.62 34.81 L588.75 36.16 L588.87 37.54 L589.00 38.92 L589.12 40.30 L589.25 41.67 L589.37 43.01 L589.50 44.31 L589.62 45.56 L589.75 46.76 L589.87 47.88 L590.00 48.92 L590.12 49.87 L590.25 50.70 L590.35 51.30 L590.37 51.43 L590.50 52.10 L590.62 52.75 L590.75 53.39 L590.87 54.02 L591.00 54.62 L591.12 55.20 L591.25 55.75 L591.37 56.28 L591.50 56.78 L591.62 57.25 L591.75 57.69 L591.87 58.09 L592.00 58.45 L592.12 58.78 L592.25 59.07 L592.37 59.31 L592.50 59.51 L592.53 59.55 L592.62 59.68 L592.75 59.84 L592.87 59.99 L593.00 60.14 L593.12 60.29 L593.25 60.43 L593.37 60.56 L593.50 60.68 L593.62 60.79 L593.75 60.90 L593.87 60.99 L594.00 61.07 L594.12 61.14 L594.24 61.20 L594.37 61.25 L594.49 61.28 L594.62 61.30 L594.70 61.30 L594.74 61.29 L594.87 61.23 L594.99 61.09 L595.12 60.89 L595.24 60.64 L595.37 60.34 L595.49 60.01 L595.62 59.64 L595.65 59.55 L595.74 59.20 L595.87 58.53 L595.99 57.66 L596.12 56.60 L596.24 55.40 L596.37 54.06 L596.49 52.61 L596.60 51.30 L596.62 51.07 L596.74 49.11 L596.87 46.65 L596.99 43.81 L597.12 40.75 L597.24 37.59 L597.37 34.48 L597.49 31.55 L597.55 30.30 L597.62 28.81 L597.74 25.71 L597.87 22.41 L597.99 19.14 L598.12 16.14 L598.24 13.68 L598.37 11.98 L598.49 11.30 L598.50 11.30 L598.62 11.48 L598.74 12.06 L598.87 12.98 L598.99 14.21 L599.12 15.69 L599.24 17.40 L599.37 19.27 L599.49 21.28 L599.62 23.36 L599.70 24.80 L599.74 25.57 L599.87 28.86 L599.99 33.20 L600.12 38.19 L600.24 43.41 L600.37 48.47 L600.49 52.96 L600.61 56.47 L600.70 58.10 L600.74 58.69 L600.86 60.46 L600.99 62.10 L601.11 63.57 L601.24 64.81 L601.36 65.80 L601.49 66.48 L601.60 66.80 L601.61 66.82 L601.74 67.00 L601.86 67.17 L601.99 67.32 L602.11 67.45 L602.24 67.57 L602.36 67.67 L602.49 67.75 L602.61 67.81 L602.74 67.86 L602.86 67.89 L602.99 67.90 L603.00 67.90 L603.11 67.90 L603.24 67.90 L603.36 67.90 L603.49 67.90 L603.61 67.90 L603.74 67.90 L603.86 67.90 L603.99 67.90 L604.11 67.90 L604.24 67.90 L604.36 67.90 L604.49 67.90 L604.61 67.90 L604.74 67.90 L604.86 67.90 L604.99 67.90 L605.11 67.90 L605.24 67.90 L605.36 67.90 L605.49 67.90 L605.61 67.90 L605.74 67.90 L605.86 67.90 L605.99 67.90 L606.11 67.90 L606.24 67.90 L606.36 67.90 L606.49 67.90 L606.61 67.90 L606.74 67.90 L606.86 67.90 L606.98 67.90 L607.11 67.90 L607.23 67.90 L607.36 67.90 L607.48 67.90 L607.61 67.90 L607.73 67.90 L607.86 67.90 L607.98 67.90 L608.11 67.90 L608.23 67.90 L608.36 67.90 L608.48 67.90 L608.61 67.90 L608.73 67.90 L608.86 67.90 L608.98 67.90 L609.11 67.90 L609.23 67.90 L609.36 67.90 L609.48 67.90 L609.61 67.90 L609.73 67.90 L609.86 67.90 L609.98 67.90 L610.11 67.90 L610.23 67.90 L610.36 67.90 L610.48 67.90 L610.61 67.90 L610.73 67.90 L610.86 67.90 L610.98 67.90 L611.11 67.90 L611.23 67.90 L611.36 67.90 L611.48 67.90 L611.61 67.90 L611.73 67.90 L611.86 67.90 L611.98 67.90 L612.11 67.90 L612.23 67.90 L612.36 67.90 L612.48 67.90 L612.61 67.90 L612.73 67.90 L612.86 67.90 L612.98 67.90 L613.10 67.90 L613.23 67.90 L613.35 67.90 L613.48 67.90 L613.50 67.90 L613.60 67.89 L613.73 67.87 L613.85 67.83 L613.98 67.78 L614.10 67.70 L614.23 67.62 L614.35 67.52 L614.48 67.41 L614.60 67.28 L614.73 67.14 L614.85 66.99 L614.98 66.83 L615.00 66.80 L615.10 66.59 L615.23 66.18 L615.35 65.60 L615.48 64.88 L615.60 64.03 L615.73 63.09 L615.85 62.07 L615.98 61.00 L616.10 59.88 L616.23 58.75 L616.30 58.10 L616.35 57.61 L616.48 56.24 L616.60 54.64 L616.73 52.83 L616.85 50.86 L616.98 48.75 L617.10 46.53 L617.23 44.25 L617.35 41.93 L617.48 39.62 L617.60 37.33 L617.73 35.10 L617.85 32.98 L617.98 30.98 L618.10 29.15 L618.23 27.52 L618.35 26.12 L618.48 24.99 L618.50 24.80 L618.60 24.05 L618.73 23.13 L618.85 22.22 L618.98 21.32 L619.10 20.44 L619.23 19.58 L619.35 18.74 L619.47 17.94 L619.60 17.16 L619.72 16.42 L619.85 15.71 L619.97 15.04 L620.10 14.42 L620.22 13.85 L620.35 13.32 L620.47 12.85 L620.60 12.43 L620.72 12.08 L620.85 11.78 L620.97 11.56 L621.10 11.40 L621.22 11.31 L621.30 11.30 L621.35 11.30 L621.47 11.31 L621.60 11.32 L621.72 11.33 L621.85 11.35 L621.97 11.38 L622.10 11.41 L622.22 11.44 L622.35 11.48 L622.47 11.52 L622.60 11.56 L622.72 11.61 L622.85 11.66 L622.90 11.69 L622.97 11.72 L623.10 11.83 L623.22 11.97 L623.35 12.16 L623.47 12.37 L623.60 12.62 L623.72 12.89 L623.85 13.18 L623.97 13.48 L624.10 13.80 L624.22 14.13 L624.35 14.46 L624.47 14.79 L624.50 14.86 L624.60 15.13 L624.72 15.53 L624.85 15.98 L624.97 16.46 L625.10 16.97 L625.22 17.50 L625.35 18.04 L625.47 18.58 L625.59 19.11 L625.72 19.61 L625.84 20.09 L625.97 20.53 L626.09 20.91 L626.10 20.93 L626.22 21.28 L626.34 21.66 L626.47 22.05 L626.59 22.44 L626.72 22.82 L626.84 23.18 L626.97 23.52 L627.09 23.83 L627.22 24.09 L627.34 24.31 L627.47 24.47 L627.59 24.57 L627.70 24.60 L627.72 24.60 L627.84 24.55 L627.97 24.44 L628.09 24.27 L628.22 24.05 L628.34 23.79 L628.47 23.48 L628.59 23.15 L628.72 22.80 L628.84 22.43 L628.97 22.06 L629.09 21.68 L629.22 21.31 L629.34 20.95 L629.35 20.93 L629.47 20.58 L629.59 20.16 L629.72 19.71 L629.84 19.22 L629.97 18.72 L630.09 18.20 L630.22 17.67 L630.34 17.16 L630.47 16.65 L630.59 16.17 L630.72 15.72 L630.84 15.31 L630.97 14.95 L631.00 14.86 L631.09 14.63 L631.22 14.31 L631.34 14.00 L631.47 13.68 L631.59 13.38 L631.72 13.08 L631.84 12.81 L631.96 12.55 L632.09 12.32 L632.21 12.12 L632.34 11.95 L632.46 11.81 L632.59 11.72 L632.65 11.69 L632.71 11.66 L632.84 11.61 L632.96 11.56 L633.09 11.52 L633.21 11.48 L633.34 11.44 L633.46 11.41 L633.59 11.38 L633.71 11.36 L633.84 11.33 L633.96 11.32 L634.09 11.31 L634.21 11.30 L634.30 11.30 L634.34 11.30 L634.46 11.30 L634.59 11.30 L634.71 11.30 L634.84 11.31 L634.96 11.31 L635.09 11.32 L635.21 11.32 L635.34 11.33 L635.46 11.34 L635.59 11.34 L635.71 11.35 L635.84 11.36 L635.96 11.37 L636.09 11.38 L636.21 11.39 L636.34 11.40 L636.46 11.41 L636.47 11.42 L636.59 11.43 L636.71 11.45 L636.84 11.48 L636.96 11.52 L637.09 11.56 L637.21 11.61 L637.34 11.66 L637.46 11.71 L637.59 11.77 L637.71 11.84 L637.84 11.90 L637.96 11.97 L638.09 12.04 L638.21 12.12 L638.33 12.19 L638.46 12.26 L638.58 12.33 L638.65 12.37 L638.71 12.41 L638.83 12.49 L638.96 12.58 L639.08 12.68 L639.21 12.78 L639.33 12.89 L639.46 13.01 L639.58 13.12 L639.71 13.24 L639.83 13.36 L639.96 13.48 L640.08 13.60 L640.21 13.71 L640.33 13.82 L640.46 13.93 L640.58 14.03 L640.71 14.12 L640.83 14.20 L640.83 14.20 L640.96 14.28 L641.08 14.37 L641.21 14.45 L641.33 14.54 L641.46 14.62 L641.58 14.71 L641.71 14.79 L641.83 14.87 L641.96 14.95 L642.08 15.02 L642.21 15.08 L642.33 15.14 L642.46 15.19 L642.58 15.23 L642.71 15.27 L642.83 15.29 L642.96 15.30 L643.00 15.30 L643.08 15.30 L643.21 15.28 L643.33 15.25 L643.46 15.20 L643.58 15.15 L643.71 15.08 L643.83 15.01 L643.96 14.92 L644.08 14.84 L644.21 14.75 L644.33 14.65 L644.45 14.55 L644.58 14.46 L644.70 14.36 L644.83 14.27 L644.92 14.20 L644.95 14.17 L645.08 14.08 L645.20 13.97 L645.33 13.85 L645.45 13.73 L645.58 13.60 L645.70 13.47 L645.83 13.33 L645.95 13.20 L646.08 13.06 L646.20 12.93 L646.33 12.81 L646.45 12.69 L646.58 12.58 L646.70 12.48 L646.83 12.39 L646.85 12.37 L646.95 12.30 L647.08 12.22 L647.20 12.14 L647.33 12.06 L647.45 11.98 L647.58 11.90 L647.70 11.83 L647.83 11.75 L647.95 11.69 L648.08 11.63 L648.20 11.57 L648.33 11.52 L648.45 11.48 L648.58 11.45 L648.70 11.43 L648.78 11.42 L648.83 11.41 L648.95 11.40 L649.08 11.39 L649.20 11.37 L649.33 11.36 L649.45 11.35 L649.58 11.34 L649.70 11.33 L649.83 11.33 L649.95 11.32 L650.08 11.31 L650.20 11.31 L650.33 11.31 L650.45 11.30 L650.58 11.30 L650.70 11.30" fill="none" stroke="#0072BD" stroke-width="2.85" stroke-linejoin="round" stroke-linecap="butt"/>
<path d="M402.40 11.30 L402.52 12.62 L402.65 13.89 L402.77 15.11 L402.90 16.28 L403.02 17.39 L403.15 18.46 L403.27 19.48 L403.40 20.45 L403.52 21.37 L403.65 22.25 L403.77 23.09 L403.90 23.88 L404.02 24.63 L404.15 25.34 L404.27 26.01 L404.40 26.65 L404.52 27.24 L404.65 27.80 L404.77 28.33 L404.90 28.82 L405.02 29.28 L405.15 29.70 L405.27 30.10 L405.40 30.47 L405.52 30.80 L405.65 31.11 L405.77 31.40 L405.90 31.66 L406.02 31.89 L406.15 32.11 L406.27 32.30 L406.40 32.47 L406.52 32.62 L406.65 32.75 L406.77 32.86 L406.90 32.96 L407.02 33.05 L407.15 33.12 L407.27 33.17 L407.40 33.22 L407.52 33.25 L407.65 33.27 L407.77 33.29 L407.90 33.30 L408.00 33.30 L408.02 33.30 L408.15 33.17 L408.27 32.89 L408.40 32.46 L408.52 31.92 L408.65 31.29 L408.77 30.59 L408.90 29.84 L409.02 29.06 L409.15 28.29 L409.27 27.53 L409.32 27.23 L409.40 26.79 L409.52 25.94 L409.65 24.99 L409.77 23.97 L409.90 22.91 L410.02 21.83 L410.15 20.77 L410.27 19.74 L410.40 18.79 L410.52 17.94 L410.65 17.21 L410.65 17.20 L410.77 16.56 L410.90 15.90 L411.02 15.25 L411.15 14.62 L411.27 14.03 L411.40 13.49 L411.52 13.00 L411.65 12.59 L411.77 12.26 L411.90 12.03 L411.98 11.94 L412.02 11.90 L412.15 11.80 L412.27 11.70 L412.40 11.62 L412.52 11.54 L412.65 11.47 L412.77 11.41 L412.90 11.37 L413.02 11.33 L413.15 11.31 L413.27 11.30 L413.30 11.30 L413.40 11.30 L413.52 11.32 L413.65 11.34 L413.77 11.37 L413.90 11.42 L414.02 11.47 L414.15 11.53 L414.27 11.59 L414.40 11.67 L414.52 11.74 L414.65 11.83 L414.68 11.85 L414.77 11.95 L414.90 12.15 L415.02 12.42 L415.15 12.77 L415.27 13.17 L415.40 13.62 L415.52 14.11 L415.65 14.63 L415.77 15.17 L415.90 15.71 L416.02 16.26 L416.05 16.39 L416.15 16.84 L416.27 17.52 L416.39 18.29 L416.52 19.12 L416.64 19.99 L416.77 20.88 L416.89 21.78 L417.02 22.65 L417.14 23.48 L417.27 24.24 L417.39 24.91 L417.43 25.06 L417.52 25.52 L417.64 26.15 L417.77 26.80 L417.89 27.44 L418.02 28.06 L418.14 28.64 L418.27 29.16 L418.39 29.60 L418.52 29.95 L418.64 30.19 L418.77 30.30 L418.80 30.30 L418.89 30.26 L419.02 30.07 L419.14 29.77 L419.27 29.36 L419.39 28.86 L419.52 28.29 L419.64 27.67 L419.77 27.02 L419.89 26.37 L420.02 25.71 L420.14 25.09 L420.15 25.06 L420.27 24.43 L420.39 23.68 L420.52 22.85 L420.64 21.97 L420.77 21.07 L420.89 20.15 L421.02 19.26 L421.14 18.40 L421.27 17.61 L421.39 16.91 L421.50 16.39 L421.52 16.31 L421.64 15.75 L421.77 15.20 L421.89 14.65 L422.02 14.12 L422.14 13.62 L422.27 13.16 L422.39 12.75 L422.52 12.41 L422.64 12.13 L422.77 11.93 L422.85 11.85 L422.89 11.82 L423.02 11.73 L423.14 11.65 L423.27 11.58 L423.39 11.51 L423.52 11.46 L423.64 11.41 L423.77 11.36 L423.89 11.33 L424.02 11.31 L424.14 11.30 L424.20 11.30 L424.27 11.30 L424.39 11.31 L424.52 11.34 L424.64 11.37 L424.77 11.41 L424.89 11.47 L425.02 11.53 L425.14 11.60 L425.27 11.67 L425.39 11.76 L425.52 11.84 L425.52 11.85 L425.64 11.98 L425.77 12.21 L425.89 12.51 L426.02 12.89 L426.14 13.33 L426.27 13.81 L426.39 14.33 L426.52 14.88 L426.64 15.44 L426.77 16.01 L426.85 16.39 L426.89 16.58 L427.02 17.25 L427.14 18.01 L427.27 18.86 L427.39 19.75 L427.52 20.68 L427.64 21.61 L427.77 22.52 L427.89 23.38 L428.02 24.18 L428.14 24.88 L428.18 25.06 L428.27 25.51 L428.39 26.17 L428.52 26.84 L428.64 27.51 L428.77 28.15 L428.89 28.74 L429.02 29.26 L429.14 29.70 L429.27 30.03 L429.39 30.24 L429.50 30.30 L429.52 30.30 L429.64 30.20 L429.77 29.95 L429.89 29.58 L430.02 29.10 L430.14 28.54 L430.27 27.92 L430.39 27.26 L430.51 26.58 L430.64 25.89 L430.76 25.23 L430.80 25.06 L430.89 24.57 L431.01 23.81 L431.14 22.96 L431.26 22.05 L431.39 21.11 L431.51 20.16 L431.64 19.23 L431.76 18.35 L431.89 17.53 L432.01 16.82 L432.10 16.39 L432.14 16.21 L432.26 15.63 L432.39 15.05 L432.51 14.49 L432.64 13.95 L432.76 13.44 L432.89 12.99 L433.01 12.59 L433.14 12.26 L433.26 12.01 L433.39 11.86 L433.40 11.85 L433.51 11.77 L433.64 11.68 L433.76 11.60 L433.89 11.53 L434.01 11.47 L434.14 11.42 L434.26 11.37 L434.39 11.34 L434.51 11.31 L434.64 11.30 L434.70 11.30 L434.76 11.30 L434.89 11.32 L435.01 11.35 L435.14 11.39 L435.26 11.44 L435.39 11.51 L435.51 11.59 L435.64 11.67 L435.76 11.77 L435.89 11.88 L436.01 11.99 L436.05 12.03 L436.14 12.14 L436.26 12.40 L436.39 12.77 L436.51 13.24 L436.64 13.78 L436.76 14.38 L436.89 15.04 L437.01 15.74 L437.14 16.46 L437.26 17.19 L437.39 17.93 L437.40 18.00 L437.51 18.72 L437.64 19.65 L437.76 20.70 L437.89 21.82 L438.01 23.00 L438.14 24.20 L438.26 25.40 L438.39 26.55 L438.51 27.64 L438.64 28.62 L438.75 29.40 L438.76 29.48 L438.89 30.30 L439.01 31.16 L439.14 32.03 L439.26 32.88 L439.39 33.69 L439.51 34.43 L439.64 35.08 L439.76 35.62 L439.89 36.02 L440.01 36.25 L440.10 36.30 L440.14 36.29 L440.26 36.10 L440.39 35.70 L440.51 35.13 L440.64 34.42 L440.76 33.59 L440.89 32.69 L441.01 31.74 L441.14 30.79 L441.26 29.86 L441.33 29.40 L441.39 28.95 L441.51 27.91 L441.64 26.73 L441.76 25.47 L441.89 24.15 L442.01 22.83 L442.14 21.54 L442.26 20.32 L442.39 19.21 L442.51 18.26 L442.55 18.00 L442.64 17.45 L442.76 16.64 L442.89 15.84 L443.01 15.07 L443.14 14.34 L443.26 13.68 L443.39 13.10 L443.51 12.63 L443.64 12.27 L443.76 12.04 L443.77 12.03 L443.89 11.91 L444.01 11.79 L444.14 11.68 L444.26 11.59 L444.38 11.50 L444.51 11.43 L444.63 11.37 L444.76 11.33 L444.88 11.31 L445.00 11.30 L445.01 11.30 L445.13 11.60 L445.26 12.35 L445.38 13.50 L445.51 14.98 L445.63 16.72 L445.76 18.66 L445.88 20.73 L446.01 22.87 L446.13 25.00 L446.26 27.07 L446.38 29.01 L446.48 30.30 L446.51 30.77 L446.63 32.57 L446.76 34.49 L446.88 36.48 L447.01 38.51 L447.13 40.55 L447.26 42.55 L447.38 44.48 L447.51 46.30 L447.63 47.97 L447.76 49.46 L447.88 50.73 L447.95 51.30 L448.01 51.77 L448.13 52.74 L448.26 53.68 L448.38 54.58 L448.51 55.43 L448.63 56.22 L448.76 56.95 L448.88 57.62 L449.01 58.21 L449.13 58.71 L449.26 59.13 L449.38 59.46 L449.42 59.55 L449.51 59.71 L449.63 59.95 L449.76 60.17 L449.88 60.38 L450.01 60.57 L450.13 60.75 L450.26 60.90 L450.38 61.04 L450.51 61.14 L450.63 61.23 L450.76 61.28 L450.88 61.30 L450.90 61.30 L451.01 61.26 L451.13 61.13 L451.26 60.91 L451.38 60.61 L451.51 60.26 L451.63 59.87 L451.72 59.55 L451.76 59.43 L451.88 58.75 L452.01 57.80 L452.13 56.60 L452.26 55.20 L452.38 53.62 L452.51 51.91 L452.55 51.30 L452.63 49.94 L452.76 47.27 L452.88 44.06 L453.01 40.54 L453.13 36.90 L453.26 33.36 L453.38 30.30 L453.38 30.14 L453.51 26.75 L453.63 22.98 L453.76 19.20 L453.88 15.78 L454.01 13.10 L454.13 11.55 L454.20 11.30 L454.26 11.33 L454.38 11.64 L454.51 12.23 L454.63 13.10 L454.76 14.22 L454.88 15.57 L455.01 17.12 L455.13 18.85 L455.26 20.74 L455.38 22.77 L455.50 24.80 L455.51 24.91 L455.63 28.50 L455.76 34.02 L455.88 40.57 L456.01 47.23 L456.13 53.08 L456.26 57.22 L456.30 58.10 L456.38 59.35 L456.51 61.14 L456.63 62.74 L456.76 64.11 L456.88 65.23 L457.01 66.08 L457.13 66.63 L457.20 66.80 L457.26 66.89 L457.38 67.08 L457.51 67.25 L457.63 67.40 L457.76 67.53 L457.88 67.64 L458.01 67.73 L458.13 67.81 L458.26 67.86 L458.38 67.89 L458.50 67.90 L458.50 67.90 L458.63 67.90 L458.75 67.90 L458.88 67.90 L459.00 67.90 L459.13 67.90 L459.25 67.90 L459.38 67.90 L459.50 67.90 L459.63 67.90 L459.75 67.90 L459.88 67.90 L460.00 67.90 L460.13 67.90 L460.25 67.90 L460.38 67.90 L460.50 67.90 L460.63 67.90 L460.75 67.90 L460.88 67.90 L461.00 67.90 L461.13 67.90 L461.25 67.90 L461.38 67.90 L461.50 67.90 L461.63 67.90 L461.75 67.90 L461.88 67.90 L462.00 67.90 L462.13 67.90 L462.25 67.90 L462.38 67.90 L462.50 67.90 L462.63 67.90 L462.75 67.90 L462.88 67.90 L463.00 67.90 L463.13 67.90 L463.25 67.90 L463.38 67.90 L463.50 67.90 L463.63 67.90 L463.75 67.90 L463.88 67.90 L464.00 67.90 L464.13 67.90 L464.25 67.90 L464.38 67.90 L464.50 67.90 L464.63 67.90 L464.75 67.90 L464.80 67.90 L464.88 67.90 L465.00 67.88 L465.13 67.84 L465.25 67.79 L465.38 67.72 L465.50 67.64 L465.63 67.55 L465.75 67.44 L465.88 67.31 L466.00 67.18 L466.13 67.03 L466.25 66.86 L466.30 66.80 L466.38 66.65 L466.50 66.24 L466.63 65.64 L466.75 64.88 L466.88 63.97 L467.00 62.94 L467.13 61.82 L467.25 60.62 L467.38 59.36 L467.50 58.10 L467.50 58.08 L467.63 56.54 L467.75 54.55 L467.88 52.19 L468.00 49.54 L468.13 46.68 L468.25 43.69 L468.38 40.65 L468.50 37.62 L468.63 34.70 L468.75 31.96 L468.88 29.48 L469.00 27.33 L469.13 25.60 L469.20 24.80 L469.25 24.31 L469.38 23.13 L469.50 21.97 L469.63 20.83 L469.75 19.73 L469.88 18.66 L470.00 17.64 L470.13 16.67 L470.25 15.76 L470.38 14.92 L470.50 14.15 L470.63 13.45 L470.75 12.84 L470.88 12.33 L471.00 11.91 L471.13 11.59 L471.25 11.39 L471.38 11.30 L471.40 11.30 L471.50 11.30 L471.63 11.32 L471.75 11.34 L471.88 11.38 L472.00 11.43 L472.13 11.48 L472.25 11.54 L472.37 11.61 L472.50 11.68 L472.50 11.68 L472.62 11.81 L472.75 12.02 L472.87 12.32 L473.00 12.67 L473.12 13.08 L473.25 13.52 L473.37 13.98 L473.50 14.46 L473.60 14.84 L473.62 14.93 L473.75 15.49 L473.87 16.14 L474.00 16.87 L474.12 17.64 L474.25 18.42 L474.37 19.18 L474.50 19.89 L474.62 20.52 L474.70 20.86 L474.75 21.06 L474.87 21.61 L475.00 22.17 L475.12 22.72 L475.25 23.24 L475.37 23.70 L475.50 24.08 L475.62 24.35 L475.75 24.49 L475.80 24.50 L475.87 24.48 L476.00 24.37 L476.12 24.18 L476.25 23.92 L476.37 23.59 L476.50 23.21 L476.62 22.80 L476.75 22.36 L476.87 21.91 L477.00 21.46 L477.12 21.03 L477.18 20.86 L477.25 20.60 L477.37 20.11 L477.50 19.57 L477.62 18.98 L477.75 18.37 L477.87 17.74 L478.00 17.13 L478.12 16.53 L478.25 15.96 L478.37 15.45 L478.50 15.00 L478.55 14.84 L478.62 14.62 L478.75 14.24 L478.87 13.86 L479.00 13.49 L479.12 13.13 L479.25 12.80 L479.37 12.50 L479.50 12.23 L479.62 12.01 L479.75 11.83 L479.87 11.71 L479.93 11.68 L480.00 11.65 L480.12 11.59 L480.25 11.54 L480.37 11.49 L480.50 11.44 L480.62 11.40 L480.75 11.37 L480.87 11.34 L481.00 11.32 L481.12 11.31 L481.25 11.30 L481.30 11.30 L481.37 11.30 L481.50 11.30 L481.62 11.31 L481.75 11.32 L481.87 11.33 L482.00 11.34 L482.12 11.36 L482.25 11.37 L482.37 11.39 L482.50 11.41 L482.62 11.43 L482.62 11.43 L482.75 11.47 L482.87 11.52 L483.00 11.60 L483.12 11.69 L483.25 11.79 L483.37 11.91 L483.50 12.04 L483.62 12.17 L483.75 12.31 L483.87 12.45 L483.95 12.53 L484.00 12.58 L484.12 12.75 L484.25 12.93 L484.37 13.14 L484.50 13.35 L484.62 13.58 L484.75 13.80 L484.87 14.02 L485.00 14.23 L485.12 14.42 L485.25 14.59 L485.28 14.63 L485.37 14.75 L485.50 14.91 L485.62 15.07 L485.75 15.23 L485.87 15.38 L486.00 15.53 L486.12 15.65 L486.24 15.76 L486.37 15.84 L486.49 15.89 L486.60 15.90 L486.62 15.90 L486.74 15.88 L486.87 15.83 L486.99 15.77 L487.12 15.68 L487.24 15.57 L487.37 15.46 L487.49 15.33 L487.62 15.20 L487.74 15.06 L487.87 14.93 L487.99 14.80 L488.03 14.77 L488.12 14.67 L488.24 14.52 L488.37 14.35 L488.49 14.18 L488.62 13.99 L488.74 13.81 L488.87 13.62 L488.99 13.44 L489.12 13.27 L489.24 13.12 L489.37 12.98 L489.45 12.90 L489.49 12.86 L489.62 12.75 L489.74 12.63 L489.87 12.52 L489.99 12.41 L490.12 12.31 L490.24 12.21 L490.37 12.13 L490.49 12.05 L490.62 11.99 L490.74 11.95 L490.87 11.92 L490.88 11.92 L490.99 11.90 L491.12 11.88 L491.24 11.87 L491.37 11.85 L491.49 11.84 L491.62 11.83 L491.74 11.82 L491.87 11.81 L491.99 11.81 L492.12 11.80 L492.24 11.80 L492.30 11.80 L492.37 11.80 L492.49 11.81 L492.62 11.82 L492.74 11.84 L492.87 11.86 L492.99 11.89 L493.12 11.92 L493.24 11.96 L493.37 12.00 L493.49 12.05 L493.62 12.10 L493.74 12.15 L493.87 12.21 L493.99 12.27 L494.12 12.33 L494.24 12.40 L494.37 12.47 L494.49 12.54 L494.62 12.61 L494.74 12.68 L494.87 12.76 L494.99 12.83 L495.12 12.91 L495.24 12.98 L495.37 13.06 L495.49 13.14 L495.62 13.21 L495.74 13.29 L495.87 13.36 L495.99 13.44 L496.12 13.51 L496.24 13.58 L496.37 13.65 L496.49 13.72 L496.62 13.78 L496.74 13.85 L496.87 13.91 L496.99 13.96 L497.12 14.01 L497.24 14.06 L497.37 14.11 L497.49 14.15 L497.62 14.19 L497.74 14.22 L497.87 14.25 L497.99 14.27 L498.12 14.28 L498.24 14.29 L498.37 14.30 L498.40 14.30 L498.49 14.30 L498.62 14.29 L498.74 14.28 L498.87 14.26 L498.99 14.23 L499.12 14.20 L499.24 14.16 L499.37 14.12 L499.49 14.07 L499.62 14.03 L499.74 13.97 L499.87 13.91 L499.99 13.85 L500.12 13.79 L500.24 13.73 L500.36 13.66 L500.49 13.59 L500.61 13.52 L500.74 13.44 L500.86 13.37 L500.99 13.30 L501.11 13.22 L501.24 13.15 L501.36 13.07 L501.49 13.00 L501.61 12.92 L501.74 12.85 L501.86 12.78 L501.99 12.71 L502.11 12.65 L502.24 12.58 L502.36 12.52 L502.49 12.46 L502.61 12.40 L502.74 12.35 L502.86 12.30 L502.99 12.26 L503.11 12.22 L503.24 12.19 L503.36 12.16 L503.49 12.14 L503.61 12.12 L503.74 12.11 L503.86 12.10 L503.90 12.10 L503.99 12.10 L504.11 12.11 L504.24 12.12 L504.36 12.14 L504.49 12.16 L504.61 12.19 L504.74 12.22 L504.86 12.26 L504.99 12.30 L505.11 12.34 L505.24 12.39 L505.36 12.44 L505.49 12.49 L505.61 12.55 L505.74 12.61 L505.86 12.67 L505.99 12.73 L506.11 12.80 L506.24 12.86 L506.36 12.93 L506.49 13.00 L506.61 13.07 L506.74 13.14 L506.86 13.21 L506.99 13.28 L507.11 13.35 L507.24 13.42 L507.36 13.48 L507.49 13.55 L507.61 13.62 L507.74 13.68 L507.86 13.74 L507.99 13.80 L508.11 13.86 L508.24 13.92 L508.36 13.97 L508.49 14.02 L508.61 14.07 L508.74 14.11 L508.86 14.15 L508.99 14.19 L509.11 14.22 L509.24 14.24 L509.36 14.27 L509.49 14.28 L509.61 14.29 L509.74 14.30 L509.80 14.30 L509.86 14.30 L509.99 14.29 L510.11 14.29 L510.24 14.27 L510.36 14.25 L510.49 14.23 L510.61 14.21 L510.74 14.18 L510.86 14.15 L510.99 14.12 L511.11 14.08 L511.24 14.04 L511.36 14.00 L511.49 13.96 L511.61 13.91 L511.74 13.87 L511.86 13.82 L511.99 13.77 L512.11 13.72 L512.24 13.68 L512.36 13.63 L512.49 13.58 L512.61 13.53 L512.74 13.48 L512.86 13.44 L512.99 13.39 L513.11 13.35 L513.24 13.30 L513.36 13.26 L513.49 13.22 L513.61 13.19 L513.74 13.15 L513.86 13.12 L513.99 13.09 L514.11 13.07 L514.23 13.05 L514.36 13.03 L514.48 13.01 L514.61 13.01 L514.73 13.00 L514.80 13.00 L514.86 13.00 L514.98 13.00 L515.11 13.00 L515.23 13.00 L515.36 13.01 L515.48 13.01 L515.61 13.02 L515.73 13.02 L515.86 13.03 L515.98 13.04 L516.11 13.04 L516.23 13.05 L516.36 13.06 L516.48 13.07 L516.61 13.08 L516.73 13.09 L516.86 13.10 L516.98 13.11 L517.11 13.13 L517.23 13.14 L517.36 13.15 L517.48 13.17 L517.61 13.18 L517.73 13.20 L517.86 13.21 L517.98 13.23 L518.11 13.25 L518.23 13.26 L518.36 13.28 L518.48 13.30 L518.61 13.32 L518.73 13.33 L518.86 13.35 L518.98 13.37 L519.11 13.39 L519.23 13.41 L519.36 13.43 L519.48 13.45 L519.61 13.48 L519.73 13.50 L519.86 13.52 L519.98 13.54 L520.11 13.56 L520.23 13.58 L520.36 13.61 L520.48 13.63 L520.61 13.65 L520.73 13.67 L520.86 13.70 L520.98 13.72 L521.11 13.74 L521.23 13.77 L521.36 13.79 L521.48 13.81 L521.61 13.84 L521.73 13.86 L521.86 13.89 L521.98 13.91 L522.11 13.93 L522.23 13.96 L522.36 13.98 L522.48 14.00 L522.61 14.03 L522.73 14.05 L522.86 14.07 L522.98 14.10 L523.11 14.12 L523.23 14.14 L523.36 14.17 L523.48 14.19 L523.61 14.21 L523.73 14.23 L523.86 14.26 L523.98 14.28 L524.11 14.30 L524.23 14.32 L524.36 14.34 L524.48 14.36 L524.61 14.38 L524.70 14.40 L524.73 14.41 L524.86 14.43 L524.98 14.45 L525.11 14.47 L525.23 14.49 L525.36 14.51 L525.48 14.53 L525.61 14.55 L525.73 14.57 L525.86 14.59 L525.98 14.61 L526.11 14.63 L526.23 14.65 L526.36 14.67 L526.48 14.69 L526.61 14.71 L526.73 14.73 L526.86 14.75 L526.98 14.77 L527.11 14.79 L527.23 14.81 L527.36 14.83 L527.48 14.85 L527.61 14.88 L527.73 14.90 L527.86 14.92 L527.98 14.94 L528.11 14.96 L528.23 14.98 L528.35 15.00 L528.48 15.02 L528.60 15.05 L528.73 15.07 L528.85 15.09 L528.98 15.11 L529.10 15.13 L529.23 15.16 L529.35 15.18 L529.48 15.20 L529.60 15.22 L529.73 15.25 L529.85 15.27 L529.98 15.29 L530.10 15.31 L530.23 15.34 L530.35 15.36 L530.48 15.38 L530.60 15.41 L530.73 15.43 L530.85 15.46 L530.98 15.48 L531.10 15.50 L531.23 15.53 L531.35 15.55 L531.48 15.58 L531.60 15.60 L531.73 15.63 L531.85 15.66 L531.98 15.68 L532.10 15.71 L532.23 15.73 L532.35 15.76 L532.48 15.79 L532.60 15.81 L532.73 15.84 L532.85 15.87 L532.98 15.89 L533.10 15.92 L533.23 15.95 L533.35 15.98 L533.48 16.01 L533.60 16.04 L533.73 16.07 L533.85 16.09 L533.98 16.12 L534.10 16.15 L534.23 16.18 L534.35 16.21 L534.48 16.24 L534.60 16.28 L534.70 16.30 L534.73 16.31 L534.85 16.34 L534.98 16.37 L535.10 16.40 L535.23 16.44 L535.35 16.47 L535.48 16.51 L535.60 16.54 L535.73 16.58 L535.85 16.61 L535.98 16.65 L536.10 16.68 L536.23 16.72 L536.35 16.76 L536.48 16.80 L536.60 16.84 L536.73 16.88 L536.85 16.92 L536.98 16.96 L537.10 17.00 L537.23 17.04 L537.35 17.08 L537.48 17.12 L537.60 17.16 L537.73 17.21 L537.85 17.25 L537.98 17.29 L538.10 17.34 L538.23 17.38 L538.35 17.43 L538.48 17.47 L538.60 17.52 L538.73 17.56 L538.85 17.61 L538.98 17.65 L539.10 17.70 L539.23 17.75 L539.35 17.79 L539.48 17.84 L539.60 17.89 L539.73 17.94 L539.85 17.99 L539.98 18.04 L540.10 18.08 L540.23 18.13 L540.35 18.18 L540.48 18.23 L540.60 18.28 L540.73 18.33 L540.85 18.38 L540.98 18.43 L541.10 18.49 L541.23 18.54 L541.35 18.59 L541.48 18.64 L541.60 18.69 L541.73 18.74 L541.85 18.80 L541.98 18.85 L542.10 18.90" fill="none" stroke="#D95319" stroke-width="2.85" stroke-linejoin="round" stroke-linecap="butt"/>
<text x="403.50" y="61.70" font-size="16.00" font-weight="bold" fill="#000">(b)</text>
<path d="M54.60 155.10 v-4.03 M54.60 98.50 v4.03" stroke="#262626" stroke-width="2.85" fill="none"/>
<text transform="translate(54.60 174.00) scale(0.930 1)" font-size="14.50" fill="#262626" text-anchor="middle">800</text>
<path d="M141.50 155.10 v-4.03 M141.50 98.50 v4.03" stroke="#262626" stroke-width="2.85" fill="none"/>
<text transform="translate(141.50 174.00) scale(0.930 1)" font-size="14.50" fill="#262626" text-anchor="middle">1000</text>
<path d="M228.50 155.10 v-4.03 M228.50 98.50 v4.03" stroke="#262626" stroke-width="2.85" fill="none"/>
<text transform="translate(228.50 174.00) scale(0.930 1)" font-size="14.50" fill="#262626" text-anchor="middle">1200</text>
<text transform="translate(315.40 174.00) scale(0.930 1)" font-size="14.50" fill="#262626" text-anchor="middle">1400</text>
<path d="M49.00 126.80 h4.03 M315.40 126.80 h-4.03" stroke="#262626" stroke-width="2.85" fill="none"/>
<text transform="translate(44.40 104.10) scale(0.930 1)" font-size="14.50" fill="#262626" text-anchor="end">100</text>
<text transform="translate(44.40 132.40) scale(0.930 1)" font-size="14.50" fill="#262626" text-anchor="end">50</text>
<text transform="translate(44.40 160.70) scale(0.930 1)" font-size="14.50" fill="#262626" text-anchor="end">0</text>
<rect x="49.00" y="98.50" width="266.40" height="56.60" fill="none" stroke="#262626" stroke-width="2.85"/>
<path d="M141.60 136.90 L141.72 135.15 L141.85 133.45 L141.97 131.78 L142.10 130.15 L142.22 128.56 L142.35 127.01 L142.47 125.50 L142.60 124.02 L142.72 122.59 L142.85 121.20 L142.97 119.84 L143.10 118.53 L143.22 117.26 L143.35 116.03 L143.47 114.83 L143.60 113.68 L143.72 112.57 L143.85 111.50 L143.97 110.47 L144.10 109.48 L144.22 108.54 L144.35 107.63 L144.47 106.77 L144.60 105.95 L144.72 105.17 L144.85 104.43 L144.97 103.74 L145.10 103.09 L145.22 102.48 L145.35 101.91 L145.47 101.39 L145.60 100.91 L145.72 100.47 L145.85 100.08 L145.97 99.73 L146.10 99.42 L146.22 99.16 L146.35 98.94 L146.47 98.76 L146.60 98.63 L146.72 98.55 L146.85 98.50 L146.90 98.50 L146.97 98.51 L147.10 98.55 L147.22 98.64 L147.35 98.76 L147.47 98.92 L147.60 99.11 L147.72 99.32 L147.85 99.56 L147.97 99.82 L148.10 100.09 L148.22 100.39 L148.35 100.69 L148.35 100.70 L148.47 101.07 L148.60 101.58 L148.72 102.21 L148.85 102.94 L148.97 103.76 L149.10 104.65 L149.22 105.60 L149.35 106.58 L149.47 107.59 L149.60 108.61 L149.72 109.61 L149.80 110.24 L149.84 110.60 L149.97 111.68 L150.09 112.87 L150.22 114.13 L150.34 115.45 L150.47 116.79 L150.59 118.13 L150.72 119.44 L150.84 120.70 L150.97 121.89 L151.09 122.97 L151.22 123.93 L151.25 124.14 L151.34 124.79 L151.47 125.67 L151.59 126.57 L151.72 127.45 L151.84 128.30 L151.97 129.11 L152.09 129.84 L152.22 130.47 L152.34 131.00 L152.47 131.39 L152.59 131.63 L152.70 131.70 L152.72 131.70 L152.84 131.58 L152.97 131.31 L153.09 130.89 L153.22 130.34 L153.34 129.70 L153.47 128.96 L153.59 128.16 L153.72 127.32 L153.84 126.45 L153.97 125.57 L154.09 124.70 L154.17 124.14 L154.22 123.86 L154.34 122.91 L154.47 121.83 L154.59 120.66 L154.72 119.42 L154.84 118.13 L154.97 116.81 L155.09 115.49 L155.22 114.20 L155.34 112.95 L155.47 111.78 L155.59 110.71 L155.65 110.24 L155.72 109.73 L155.84 108.74 L155.97 107.75 L156.09 106.75 L156.22 105.78 L156.34 104.84 L156.47 103.95 L156.59 103.13 L156.72 102.38 L156.84 101.74 L156.97 101.20 L157.09 100.79 L157.12 100.70 L157.22 100.48 L157.34 100.19 L157.47 99.91 L157.59 99.65 L157.71 99.41 L157.84 99.19 L157.96 98.99 L158.09 98.83 L158.21 98.69 L158.34 98.59 L158.46 98.52 L158.59 98.50 L158.60 98.50 L158.71 98.51 L158.84 98.54 L158.96 98.59 L159.09 98.65 L159.21 98.73 L159.34 98.83 L159.46 98.94 L159.59 99.07 L159.71 99.21 L159.84 99.35 L159.96 99.51 L160.09 99.68 L160.21 99.86 L160.22 99.87 L160.34 100.08 L160.46 100.39 L160.59 100.79 L160.71 101.27 L160.84 101.81 L160.96 102.41 L161.09 103.06 L161.21 103.75 L161.34 104.47 L161.46 105.21 L161.59 105.96 L161.71 106.71 L161.84 107.46 L161.85 107.53 L161.96 108.24 L162.09 109.12 L162.21 110.08 L162.34 111.11 L162.46 112.18 L162.59 113.28 L162.71 114.39 L162.84 115.50 L162.96 116.57 L163.09 117.60 L163.21 118.57 L163.34 119.46 L163.46 120.24 L163.47 120.32 L163.59 120.98 L163.71 121.74 L163.84 122.51 L163.96 123.28 L164.09 124.04 L164.21 124.76 L164.34 125.44 L164.46 126.05 L164.59 126.59 L164.71 127.04 L164.84 127.38 L164.96 127.61 L165.09 127.70 L165.10 127.70 L165.21 127.64 L165.34 127.44 L165.46 127.11 L165.59 126.68 L165.71 126.14 L165.83 125.53 L165.96 124.85 L166.08 124.12 L166.21 123.36 L166.33 122.57 L166.46 121.79 L166.58 121.01 L166.70 120.32 L166.71 120.27 L166.83 119.47 L166.96 118.57 L167.08 117.59 L167.21 116.54 L167.33 115.45 L167.46 114.33 L167.58 113.20 L167.71 112.08 L167.83 111.00 L167.96 109.96 L168.08 108.99 L168.21 108.11 L168.30 107.53 L168.33 107.33 L168.46 106.57 L168.58 105.81 L168.71 105.05 L168.83 104.30 L168.96 103.58 L169.08 102.89 L169.21 102.24 L169.33 101.64 L169.46 101.11 L169.58 100.65 L169.71 100.27 L169.83 99.99 L169.90 99.87 L169.96 99.79 L170.08 99.61 L170.21 99.45 L170.33 99.29 L170.46 99.14 L170.58 99.01 L170.71 98.89 L170.83 98.78 L170.96 98.69 L171.08 98.61 L171.21 98.56 L171.33 98.52 L171.46 98.50 L171.50 98.50 L171.58 98.50 L171.71 98.52 L171.83 98.55 L171.96 98.60 L172.08 98.66 L172.21 98.73 L172.33 98.82 L172.46 98.91 L172.58 99.02 L172.71 99.13 L172.83 99.25 L172.96 99.38 L173.07 99.52 L173.08 99.52 L173.21 99.72 L173.33 100.00 L173.46 100.37 L173.58 100.82 L173.70 101.32 L173.83 101.89 L173.95 102.50 L174.08 103.15 L174.20 103.82 L174.33 104.51 L174.45 105.22 L174.58 105.92 L174.65 106.31 L174.70 106.62 L174.83 107.42 L174.95 108.32 L175.08 109.30 L175.20 110.33 L175.33 111.41 L175.45 112.50 L175.58 113.59 L175.70 114.67 L175.83 115.70 L175.95 116.67 L176.08 117.57 L176.20 118.36 L176.23 118.49 L176.33 119.10 L176.45 119.86 L176.58 120.64 L176.70 121.41 L176.83 122.17 L176.95 122.90 L177.08 123.57 L177.20 124.18 L177.33 124.71 L177.45 125.15 L177.58 125.46 L177.70 125.65 L177.80 125.70 L177.83 125.70 L177.95 125.58 L178.08 125.33 L178.20 124.95 L178.33 124.46 L178.45 123.87 L178.58 123.22 L178.70 122.50 L178.83 121.74 L178.95 120.96 L179.08 120.17 L179.20 119.38 L179.33 118.63 L179.35 118.49 L179.45 117.86 L179.58 116.98 L179.70 116.01 L179.83 114.98 L179.95 113.90 L180.08 112.79 L180.20 111.68 L180.33 110.58 L180.45 109.52 L180.58 108.51 L180.70 107.59 L180.83 106.75 L180.90 106.31 L180.95 106.03 L181.08 105.31 L181.20 104.60 L181.33 103.89 L181.45 103.21 L181.58 102.55 L181.70 101.92 L181.82 101.35 L181.95 100.83 L182.07 100.38 L182.20 100.00 L182.32 99.71 L182.45 99.52 L182.45 99.52 L182.57 99.38 L182.70 99.24 L182.82 99.12 L182.95 99.01 L183.07 98.90 L183.20 98.81 L183.32 98.72 L183.45 98.65 L183.57 98.59 L183.70 98.55 L183.82 98.52 L183.95 98.50 L184.00 98.50 L184.07 98.50 L184.20 98.52 L184.32 98.56 L184.45 98.61 L184.57 98.68 L184.70 98.77 L184.82 98.86 L184.95 98.97 L185.07 99.09 L185.20 99.22 L185.32 99.36 L185.45 99.51 L185.57 99.67 L185.70 99.83 L185.72 99.87 L185.82 100.03 L185.95 100.31 L186.07 100.67 L186.20 101.09 L186.32 101.58 L186.45 102.13 L186.57 102.72 L186.70 103.35 L186.82 104.01 L186.95 104.69 L187.07 105.40 L187.20 106.10 L187.32 106.81 L187.45 107.51 L187.45 107.53 L187.57 108.25 L187.70 109.08 L187.82 109.98 L187.95 110.95 L188.07 111.95 L188.20 112.98 L188.32 114.03 L188.45 115.07 L188.57 116.09 L188.70 117.09 L188.82 118.03 L188.95 118.92 L189.07 119.72 L189.18 120.32 L189.20 120.43 L189.32 121.13 L189.45 121.85 L189.57 122.58 L189.70 123.31 L189.82 124.02 L189.94 124.70 L190.07 125.34 L190.19 125.93 L190.32 126.46 L190.44 126.91 L190.57 127.27 L190.69 127.53 L190.82 127.67 L190.90 127.70 L190.94 127.69 L191.07 127.57 L191.19 127.32 L191.32 126.96 L191.44 126.51 L191.57 125.96 L191.69 125.34 L191.82 124.67 L191.94 123.96 L192.07 123.21 L192.19 122.45 L192.32 121.69 L192.44 120.94 L192.55 120.32 L192.57 120.22 L192.69 119.44 L192.82 118.57 L192.94 117.61 L193.07 116.60 L193.19 115.54 L193.32 114.46 L193.44 113.36 L193.57 112.28 L193.69 111.22 L193.82 110.20 L193.94 109.24 L194.07 108.36 L194.19 107.58 L194.20 107.53 L194.32 106.85 L194.44 106.11 L194.57 105.37 L194.69 104.63 L194.82 103.92 L194.94 103.23 L195.07 102.58 L195.19 101.98 L195.32 101.42 L195.44 100.93 L195.57 100.51 L195.69 100.17 L195.82 99.92 L195.85 99.87 L195.94 99.74 L196.07 99.58 L196.19 99.42 L196.32 99.27 L196.44 99.13 L196.57 99.00 L196.69 98.88 L196.82 98.78 L196.94 98.69 L197.07 98.62 L197.19 98.56 L197.32 98.52 L197.44 98.50 L197.50 98.50 L197.57 98.51 L197.69 98.55 L197.81 98.64 L197.94 98.76 L198.06 98.92 L198.19 99.12 L198.31 99.34 L198.44 99.59 L198.56 99.87 L198.69 100.16 L198.81 100.48 L198.94 100.80 L199.06 101.15 L199.19 101.50 L199.30 101.81 L199.31 101.86 L199.44 102.28 L199.56 102.82 L199.69 103.44 L199.81 104.15 L199.94 104.93 L200.06 105.78 L200.19 106.67 L200.31 107.60 L200.44 108.57 L200.56 109.55 L200.69 110.53 L200.81 111.52 L200.94 112.49 L201.06 113.44 L201.10 113.71 L201.19 114.38 L201.31 115.39 L201.44 116.45 L201.56 117.56 L201.69 118.70 L201.81 119.86 L201.94 121.02 L202.06 122.18 L202.19 123.31 L202.31 124.41 L202.44 125.45 L202.56 126.44 L202.69 127.35 L202.81 128.17 L202.90 128.68 L202.94 128.89 L203.06 129.60 L203.19 130.32 L203.31 131.04 L203.44 131.76 L203.56 132.45 L203.69 133.12 L203.81 133.75 L203.94 134.33 L204.06 134.84 L204.19 135.29 L204.31 135.66 L204.44 135.95 L204.56 136.13 L204.69 136.20 L204.70 136.20 L204.81 136.15 L204.94 135.96 L205.06 135.65 L205.19 135.24 L205.31 134.74 L205.44 134.15 L205.56 133.50 L205.69 132.80 L205.81 132.05 L205.93 131.28 L206.06 130.49 L206.18 129.71 L206.31 128.93 L206.35 128.68 L206.43 128.14 L206.56 127.24 L206.68 126.23 L206.81 125.14 L206.93 123.98 L207.06 122.76 L207.18 121.51 L207.31 120.25 L207.43 118.98 L207.56 117.73 L207.68 116.52 L207.81 115.35 L207.93 114.26 L208.00 113.71 L208.06 113.24 L208.18 112.20 L208.31 111.13 L208.43 110.05 L208.56 108.98 L208.68 107.92 L208.81 106.89 L208.93 105.91 L209.06 104.98 L209.18 104.13 L209.31 103.36 L209.43 102.69 L209.56 102.14 L209.65 101.81 L209.68 101.71 L209.81 101.33 L209.93 100.95 L210.06 100.58 L210.18 100.24 L210.31 99.91 L210.43 99.61 L210.56 99.33 L210.68 99.09 L210.81 98.89 L210.93 98.72 L211.06 98.60 L211.18 98.52 L211.30 98.50 L211.31 98.50 L211.43 98.53 L211.56 98.61 L211.68 98.74 L211.81 98.93 L211.93 99.16 L212.06 99.44 L212.18 99.78 L212.31 100.16 L212.43 100.60 L212.56 101.08 L212.68 101.62 L212.81 102.20 L212.93 102.83 L213.06 103.51 L213.18 104.23 L213.31 105.01 L213.43 105.83 L213.56 106.69 L213.68 107.61 L213.80 108.57 L213.93 109.57 L214.05 110.62 L214.18 111.72 L214.20 111.90 L214.30 113.42 L214.43 116.51 L214.55 120.63 L214.68 125.40 L214.80 130.41 L214.93 135.29 L215.05 139.65 L215.18 143.10 L215.30 145.20 L215.30 145.25 L215.43 146.60 L215.55 147.81 L215.68 148.89 L215.80 149.83 L215.93 150.64 L216.05 151.33 L216.18 151.88 L216.30 152.30 L216.30 152.31 L216.43 152.66 L216.55 152.98 L216.68 153.27 L216.80 153.53 L216.93 153.76 L217.05 153.96 L217.18 154.14 L217.30 154.30 L217.43 154.43 L217.50 154.50 L217.55 154.55 L217.68 154.66 L217.80 154.76 L217.93 154.86 L218.05 154.95 L218.18 155.02 L218.30 155.07 L218.43 155.10 L218.50 155.10 L218.55 155.10 L218.68 155.10 L218.80 155.10 L218.93 155.10 L219.05 155.10 L219.18 155.10 L219.30 155.10 L219.43 155.10 L219.55 155.10 L219.68 155.10 L219.80 155.10 L219.93 155.10 L220.05 155.10 L220.18 155.10 L220.30 155.10 L220.43 155.10 L220.55 155.10 L220.68 155.10 L220.80 155.10 L220.93 155.10 L221.05 155.10 L221.18 155.10 L221.30 155.10 L221.43 155.10 L221.55 155.10 L221.68 155.10 L221.80 155.10 L221.92 155.10 L222.05 155.10 L222.17 155.10 L222.30 155.10 L222.42 155.10 L222.50 155.10 L222.55 155.09 L222.67 155.03 L222.80 154.88 L222.92 154.67 L223.05 154.38 L223.15 154.10 L223.17 154.01 L223.30 153.08 L223.42 151.19 L223.50 149.50 L223.55 147.13 L223.67 132.66 L223.70 128.50 L223.80 98.51 L223.80 98.50 L223.90 128.50 L223.92 132.28 L224.05 146.95 L224.10 149.50 L224.17 151.14 L224.30 153.05 L224.42 154.00 L224.45 154.10 L224.55 154.37 L224.67 154.66 L224.80 154.88 L224.92 155.02 L225.05 155.09 L225.10 155.10 L225.17 155.10 L225.30 155.10 L225.42 155.10 L225.55 155.10 L225.67 155.10 L225.80 155.10 L225.92 155.10 L226.05 155.10 L226.17 155.10 L226.30 155.10 L226.42 155.10 L226.55 155.10 L226.67 155.10 L226.80 155.10 L226.92 155.10 L227.05 155.10 L227.17 155.10 L227.30 155.10 L227.42 155.10 L227.55 155.10 L227.67 155.10 L227.80 155.10 L227.92 155.10 L228.05 155.10 L228.17 155.10 L228.30 155.10 L228.42 155.10 L228.55 155.10 L228.67 155.10 L228.80 155.10 L228.92 155.10 L229.05 155.10 L229.17 155.10 L229.30 155.10 L229.42 155.10 L229.55 155.10 L229.67 155.10 L229.80 155.10 L229.92 155.10 L230.04 155.10 L230.17 155.10 L230.29 155.10 L230.42 155.10 L230.54 155.10 L230.67 155.10 L230.79 155.10 L230.92 155.10 L231.04 155.10 L231.17 155.10 L231.29 155.10 L231.42 155.10 L231.54 155.10 L231.67 155.10 L231.79 155.10 L231.92 155.10 L232.04 155.10 L232.17 155.10 L232.29 155.10 L232.42 155.10 L232.54 155.10 L232.67 155.10 L232.79 155.10 L232.92 155.10 L233.04 155.10 L233.17 155.10 L233.29 155.10 L233.42 155.10 L233.54 155.10 L233.67 155.10 L233.79 155.10 L233.92 155.10 L234.04 155.10 L234.17 155.10 L234.29 155.10 L234.42 155.10 L234.54 155.10 L234.67 155.10 L234.79 155.10 L234.92 155.10 L235.04 155.10 L235.17 155.10 L235.29 155.10 L235.42 155.10 L235.54 155.10 L235.67 155.10 L235.79 155.10 L235.92 155.10 L236.04 155.10 L236.17 155.10 L236.29 155.10 L236.42 155.10 L236.54 155.10 L236.67 155.10 L236.79 155.10 L236.92 155.10 L237.04 155.10 L237.17 155.10 L237.29 155.10 L237.42 155.10 L237.54 155.10 L237.67 155.10 L237.79 155.10 L237.91 155.10 L238.04 155.10 L238.16 155.10 L238.29 155.10 L238.41 155.10 L238.54 155.10 L238.66 155.10 L238.79 155.10 L238.91 155.10 L239.04 155.10 L239.16 155.10 L239.29 155.10 L239.41 155.10 L239.54 155.10 L239.66 155.10 L239.79 155.10 L239.91 155.10 L240.04 155.10 L240.16 155.10 L240.29 155.10 L240.41 155.10 L240.54 155.10 L240.66 155.10 L240.79 155.10 L240.91 155.10 L241.04 155.10 L241.16 155.10 L241.29 155.10 L241.30 155.10 L241.41 155.09 L241.54 155.06 L241.66 155.00 L241.79 154.93 L241.91 154.84 L242.04 154.74 L242.16 154.63 L242.29 154.51 L242.30 154.50 L242.41 154.38 L242.54 154.21 L242.66 154.00 L242.79 153.75 L242.91 153.46 L243.04 153.13 L243.16 152.76 L243.29 152.35 L243.30 152.30 L243.41 151.84 L243.54 151.18 L243.66 150.35 L243.79 149.38 L243.91 148.26 L244.04 147.02 L244.16 145.65 L244.20 145.20 L244.29 143.96 L244.41 141.40 L244.54 138.13 L244.66 134.38 L244.79 130.33 L244.91 126.20 L245.04 122.20 L245.16 118.53 L245.29 115.40 L245.41 113.03 L245.50 111.90 L245.54 111.57 L245.66 110.41 L245.79 109.29 L245.91 108.21 L246.03 107.18 L246.16 106.19 L246.28 105.25 L246.41 104.36 L246.53 103.53 L246.66 102.75 L246.78 102.03 L246.91 101.37 L247.03 100.77 L247.16 100.24 L247.28 99.77 L247.41 99.38 L247.53 99.05 L247.66 98.80 L247.78 98.62 L247.91 98.52 L248.00 98.50 L248.03 98.50 L248.16 98.52 L248.28 98.55 L248.41 98.61 L248.53 98.68 L248.66 98.77 L248.78 98.88 L248.91 99.00 L249.03 99.13 L249.05 99.14 L249.16 99.33 L249.28 99.70 L249.41 100.21 L249.53 100.84 L249.66 101.55 L249.78 102.34 L249.91 103.16 L250.03 104.00 L250.10 104.45 L250.16 104.86 L250.28 105.89 L250.41 107.10 L250.53 108.41 L250.66 109.78 L250.78 111.14 L250.91 112.44 L251.03 113.62 L251.15 114.57 L251.16 114.62 L251.28 115.57 L251.41 116.56 L251.53 117.54 L251.66 118.46 L251.78 119.28 L251.91 119.96 L252.03 120.44 L252.16 120.68 L252.20 120.70 L252.28 120.68 L252.41 120.56 L252.53 120.35 L252.66 120.05 L252.78 119.69 L252.91 119.26 L253.03 118.77 L253.16 118.25 L253.28 117.69 L253.41 117.11 L253.53 116.52 L253.66 115.93 L253.78 115.34 L253.90 114.77 L253.95 114.57 L254.03 114.21 L254.15 113.58 L254.28 112.88 L254.40 112.14 L254.53 111.36 L254.65 110.55 L254.78 109.73 L254.90 108.91 L255.03 108.09 L255.15 107.31 L255.28 106.56 L255.40 105.85 L255.53 105.21 L255.65 104.64 L255.70 104.45 L255.78 104.13 L255.90 103.63 L256.03 103.13 L256.15 102.63 L256.28 102.15 L256.40 101.68 L256.53 101.23 L256.65 100.81 L256.78 100.42 L256.90 100.08 L257.03 99.77 L257.15 99.52 L257.28 99.32 L257.40 99.18 L257.45 99.14 L257.53 99.09 L257.65 99.02 L257.78 98.94 L257.90 98.87 L258.03 98.81 L258.15 98.75 L258.28 98.70 L258.40 98.65 L258.53 98.61 L258.65 98.57 L258.78 98.54 L258.90 98.52 L259.03 98.51 L259.15 98.50 L259.20 98.50 L259.28 98.50 L259.40 98.50 L259.53 98.51 L259.65 98.52 L259.78 98.53 L259.90 98.54 L260.03 98.56 L260.15 98.57 L260.28 98.59 L260.40 98.61 L260.53 98.64 L260.65 98.66 L260.78 98.69 L260.90 98.71 L260.98 98.73 L261.03 98.75 L261.15 98.80 L261.28 98.87 L261.40 98.96 L261.53 99.06 L261.65 99.19 L261.78 99.32 L261.90 99.47 L262.02 99.63 L262.15 99.80 L262.27 99.97 L262.40 100.14 L262.52 100.32 L262.65 100.50 L262.75 100.64 L262.77 100.68 L262.90 100.88 L263.02 101.10 L263.15 101.35 L263.27 101.61 L263.40 101.89 L263.52 102.17 L263.65 102.46 L263.77 102.76 L263.90 103.05 L264.02 103.33 L264.15 103.60 L264.27 103.85 L264.40 104.08 L264.52 104.29 L264.52 104.29 L264.65 104.49 L264.77 104.69 L264.90 104.90 L265.02 105.12 L265.15 105.32 L265.27 105.53 L265.40 105.72 L265.52 105.90 L265.65 106.06 L265.77 106.20 L265.90 106.32 L266.02 106.41 L266.15 106.47 L266.27 106.50 L266.30 106.50 L266.40 106.49 L266.52 106.44 L266.65 106.36 L266.77 106.26 L266.90 106.13 L267.02 105.97 L267.15 105.80 L267.27 105.61 L267.40 105.41 L267.52 105.21 L267.65 105.00 L267.77 104.79 L267.90 104.58 L268.02 104.38 L268.07 104.29 L268.15 104.18 L268.27 103.96 L268.40 103.71 L268.52 103.45 L268.65 103.17 L268.77 102.89 L268.90 102.59 L269.02 102.30 L269.15 102.01 L269.27 101.73 L269.40 101.46 L269.52 101.21 L269.65 100.97 L269.77 100.76 L269.85 100.64 L269.90 100.58 L270.02 100.40 L270.14 100.22 L270.27 100.05 L270.39 99.87 L270.52 99.70 L270.64 99.54 L270.77 99.39 L270.89 99.25 L271.02 99.12 L271.14 99.00 L271.27 98.90 L271.39 98.82 L271.52 98.77 L271.62 98.73 L271.64 98.73 L271.77 98.70 L271.89 98.67 L272.02 98.65 L272.14 98.62 L272.27 98.60 L272.39 98.58 L272.52 98.56 L272.64 98.55 L272.77 98.53 L272.89 98.52 L273.02 98.51 L273.14 98.51 L273.27 98.50 L273.39 98.50 L273.40 98.50 L273.52 98.50 L273.64 98.50 L273.77 98.51 L273.89 98.51 L274.02 98.52 L274.14 98.52 L274.27 98.53 L274.39 98.54 L274.52 98.55 L274.64 98.56 L274.77 98.57 L274.89 98.58 L275.02 98.60 L275.14 98.61 L275.20 98.62 L275.27 98.63 L275.39 98.65 L275.52 98.69 L275.64 98.73 L275.77 98.79 L275.89 98.85 L276.02 98.91 L276.14 98.99 L276.27 99.07 L276.39 99.15 L276.52 99.23 L276.64 99.32 L276.77 99.41 L276.89 99.50 L277.00 99.57 L277.02 99.58 L277.14 99.68 L277.27 99.79 L277.39 99.91 L277.52 100.04 L277.64 100.17 L277.77 100.31 L277.89 100.46 L278.01 100.60 L278.14 100.74 L278.26 100.88 L278.39 101.02 L278.51 101.15 L278.64 101.26 L278.76 101.37 L278.80 101.40 L278.89 101.47 L279.01 101.57 L279.14 101.67 L279.26 101.77 L279.39 101.88 L279.51 101.98 L279.64 102.07 L279.76 102.17 L279.89 102.25 L280.01 102.32 L280.14 102.39 L280.26 102.44 L280.39 102.47 L280.51 102.50 L280.60 102.50 L280.64 102.50 L280.76 102.48 L280.89 102.45 L281.01 102.41 L281.14 102.35 L281.26 102.28 L281.39 102.20 L281.51 102.11 L281.64 102.02 L281.76 101.92 L281.89 101.81 L282.01 101.71 L282.14 101.61 L282.26 101.50 L282.39 101.41 L282.40 101.40 L282.51 101.30 L282.64 101.19 L282.76 101.07 L282.89 100.94 L283.01 100.80 L283.14 100.66 L283.26 100.51 L283.39 100.37 L283.51 100.23 L283.64 100.09 L283.76 99.96 L283.89 99.83 L284.01 99.72 L284.14 99.62 L284.20 99.57 L284.26 99.53 L284.39 99.44 L284.51 99.35 L284.64 99.27 L284.76 99.18 L284.89 99.10 L285.01 99.02 L285.14 98.94 L285.26 98.87 L285.39 98.81 L285.51 98.75 L285.64 98.70 L285.76 98.66 L285.89 98.63 L286.00 98.62 L286.01 98.61 L286.13 98.60 L286.26 98.59 L286.38 98.58 L286.51 98.56 L286.63 98.55 L286.76 98.54 L286.88 98.53 L287.01 98.53 L287.13 98.52 L287.26 98.51 L287.38 98.51 L287.51 98.50 L287.63 98.50 L287.76 98.50 L287.80 98.50 L287.88 98.50 L288.01 98.51 L288.13 98.51 L288.26 98.52 L288.38 98.54 L288.51 98.56 L288.63 98.58 L288.76 98.60 L288.88 98.63 L289.01 98.66 L289.13 98.69 L289.26 98.72 L289.38 98.76 L289.51 98.80 L289.63 98.84 L289.76 98.88 L289.88 98.93 L290.01 98.97 L290.13 99.02 L290.26 99.07 L290.38 99.12 L290.51 99.18 L290.63 99.23 L290.76 99.29 L290.88 99.34 L291.01 99.40 L291.13 99.46 L291.26 99.52 L291.38 99.58 L291.51 99.64 L291.63 99.69 L291.76 99.75 L291.88 99.82 L292.01 99.88 L292.13 99.94 L292.26 99.99 L292.38 100.05 L292.51 100.11 L292.63 100.17 L292.76 100.23 L292.88 100.29 L293.01 100.34 L293.13 100.40 L293.26 100.45 L293.38 100.50 L293.51 100.55 L293.63 100.60 L293.76 100.65 L293.88 100.70 L294.00 100.74 L294.13 100.78 L294.25 100.82 L294.38 100.86 L294.50 100.90 L294.63 100.93 L294.75 100.96 L294.88 100.99 L295.00 101.01 L295.13 101.03 L295.25 101.05 L295.38 101.07 L295.50 101.08 L295.63 101.09 L295.75 101.10 L295.88 101.10 L295.90 101.10 L296.00 101.10 L296.13 101.10 L296.25 101.09 L296.38 101.08 L296.50 101.07 L296.63 101.06 L296.75 101.05 L296.88 101.03 L297.00 101.01 L297.13 100.99 L297.25 100.97 L297.38 100.94 L297.50 100.92 L297.63 100.89 L297.75 100.86 L297.88 100.82 L298.00 100.79 L298.13 100.75 L298.25 100.71 L298.38 100.67 L298.50 100.63 L298.63 100.59 L298.75 100.54 L298.88 100.49 L299.00 100.45 L299.13 100.39 L299.25 100.34 L299.38 100.29 L299.50 100.23 L299.63 100.17 L299.75 100.11 L299.88 100.05 L300.00 99.99 L300.13 99.93 L300.25 99.86 L300.38 99.79 L300.50 99.73 L300.63 99.66 L300.75 99.58 L300.88 99.51 L301.00 99.44 L301.13 99.36 L301.25 99.29 L301.38 99.21 L301.50 99.13 L301.63 99.05 L301.75 98.97 L301.88 98.88 L302.00 98.80" fill="none" stroke="#0072BD" stroke-width="2.85" stroke-linejoin="round" stroke-linecap="butt"/>
<path d="M48.60 104.50 L48.72 106.60 L48.85 108.57 L48.97 110.42 L49.10 112.15 L49.22 113.77 L49.35 115.28 L49.47 116.67 L49.60 117.96 L49.72 119.14 L49.85 120.22 L49.97 121.21 L50.10 122.09 L50.22 122.88 L50.35 123.58 L50.47 124.19 L50.60 124.72 L50.72 125.16 L50.85 125.51 L50.97 125.80 L51.10 126.00 L51.22 126.13 L51.35 126.19 L51.40 126.20 L51.47 126.15 L51.60 125.89 L51.72 125.41 L51.85 124.76 L51.97 123.98 L52.10 123.08 L52.22 122.12 L52.35 121.11 L52.47 120.11 L52.60 119.14 L52.62 118.94 L52.72 118.14 L52.85 116.98 L52.97 115.69 L53.10 114.32 L53.22 112.90 L53.35 111.48 L53.47 110.10 L53.60 108.80 L53.72 107.63 L53.85 106.61 L53.85 106.61 L53.97 105.69 L54.10 104.77 L54.22 103.85 L54.35 102.98 L54.47 102.15 L54.60 101.40 L54.72 100.75 L54.85 100.21 L54.97 99.81 L55.07 99.60 L55.10 99.56 L55.22 99.38 L55.35 99.20 L55.47 99.05 L55.60 98.90 L55.72 98.78 L55.85 98.68 L55.97 98.59 L56.10 98.54 L56.22 98.51 L56.30 98.50 L56.35 98.50 L56.47 98.53 L56.60 98.60 L56.72 98.69 L56.85 98.81 L56.97 98.95 L57.10 99.12 L57.22 99.30 L57.35 99.51 L57.47 99.72 L57.57 99.91 L57.60 99.96 L57.72 100.30 L57.85 100.79 L57.97 101.41 L58.10 102.13 L58.22 102.95 L58.35 103.83 L58.47 104.76 L58.60 105.72 L58.72 106.69 L58.85 107.65 L58.85 107.66 L58.97 108.68 L59.10 109.86 L59.22 111.16 L59.35 112.54 L59.47 113.96 L59.60 115.37 L59.72 116.75 L59.85 118.06 L59.97 119.26 L60.10 120.31 L60.12 120.51 L60.22 121.25 L60.35 122.23 L60.47 123.21 L60.60 124.18 L60.72 125.10 L60.85 125.94 L60.97 126.67 L61.10 127.25 L61.22 127.67 L61.35 127.88 L61.40 127.90 L61.47 127.85 L61.60 127.55 L61.72 127.01 L61.85 126.28 L61.97 125.40 L62.10 124.40 L62.22 123.33 L62.35 122.24 L62.47 121.16 L62.55 120.51 L62.60 120.10 L62.72 118.90 L62.85 117.52 L62.97 116.03 L63.10 114.47 L63.22 112.89 L63.35 111.36 L63.47 109.91 L63.60 108.60 L63.70 107.66 L63.72 107.47 L63.85 106.40 L63.97 105.33 L64.10 104.28 L64.22 103.28 L64.35 102.35 L64.47 101.52 L64.60 100.82 L64.72 100.28 L64.85 99.92 L64.85 99.91 L64.97 99.66 L65.10 99.43 L65.22 99.21 L65.35 99.01 L65.47 98.85 L65.60 98.71 L65.72 98.60 L65.85 98.53 L65.97 98.50 L66.00 98.50 L66.10 98.52 L66.22 98.63 L66.35 98.80 L66.47 99.04 L66.60 99.33 L66.72 99.68 L66.85 100.07 L66.97 100.49 L67.10 100.94 L67.22 101.41 L67.33 101.81 L67.35 101.90 L67.47 102.53 L67.60 103.34 L67.72 104.30 L67.85 105.40 L67.97 106.60 L68.10 107.87 L68.22 109.19 L68.35 110.53 L68.47 111.87 L68.60 113.17 L68.65 113.71 L68.72 114.45 L68.85 115.84 L68.97 117.33 L69.10 118.88 L69.22 120.45 L69.35 122.03 L69.47 123.56 L69.60 125.03 L69.72 126.39 L69.85 127.61 L69.97 128.65 L69.97 128.68 L70.10 129.62 L70.22 130.60 L70.35 131.57 L70.47 132.52 L70.60 133.41 L70.72 134.22 L70.85 134.93 L70.97 135.50 L71.10 135.92 L71.22 136.16 L71.30 136.20 L71.35 136.18 L71.47 135.95 L71.60 135.48 L71.72 134.82 L71.85 134.00 L71.97 133.05 L72.10 132.01 L72.22 130.92 L72.35 129.81 L72.47 128.72 L72.47 128.68 L72.60 127.54 L72.72 126.14 L72.85 124.58 L72.97 122.89 L73.10 121.13 L73.22 119.35 L73.35 117.59 L73.47 115.91 L73.60 114.35 L73.65 113.71 L73.72 112.90 L73.85 111.42 L73.97 109.91 L74.10 108.40 L74.22 106.95 L74.35 105.58 L74.47 104.33 L74.60 103.25 L74.72 102.37 L74.83 101.81 L74.85 101.73 L74.97 101.18 L75.10 100.66 L75.22 100.17 L75.35 99.73 L75.47 99.34 L75.60 99.01 L75.72 98.75 L75.85 98.58 L75.97 98.50 L76.00 98.50 L76.10 98.52 L76.22 98.60 L76.35 98.75 L76.47 98.96 L76.60 99.23 L76.72 99.58 L76.84 99.99 L76.97 100.46 L77.09 101.01 L77.22 101.62 L77.34 102.30 L77.47 103.05 L77.59 103.87 L77.72 104.76 L77.84 105.72 L77.97 106.74 L78.09 107.84 L78.22 109.01 L78.34 110.26 L78.47 111.57 L78.50 111.90 L78.59 113.86 L78.72 118.73 L78.84 125.20 L78.97 132.20 L79.09 138.64 L79.22 143.46 L79.30 145.20 L79.34 145.78 L79.47 147.27 L79.59 148.55 L79.72 149.63 L79.84 150.54 L79.97 151.29 L80.09 151.89 L80.20 152.30 L80.22 152.37 L80.34 152.77 L80.47 153.14 L80.59 153.47 L80.72 153.76 L80.84 154.01 L80.97 154.22 L81.09 154.39 L81.20 154.50 L81.22 154.52 L81.34 154.63 L81.47 154.74 L81.59 154.84 L81.72 154.93 L81.84 155.00 L81.97 155.06 L82.09 155.09 L82.20 155.10 L82.22 155.10 L82.34 155.10 L82.47 155.10 L82.59 155.10 L82.72 155.10 L82.84 155.10 L82.97 155.10 L83.09 155.10 L83.22 155.10 L83.34 155.10 L83.47 155.10 L83.59 155.10 L83.72 155.10 L83.84 155.10 L83.97 155.10 L84.09 155.10 L84.20 155.10 L84.22 155.10 L84.34 155.05 L84.47 154.92 L84.59 154.73 L84.72 154.46 L84.84 154.12 L84.85 154.10 L84.97 153.39 L85.09 151.75 L85.20 149.50 L85.22 148.87 L85.34 137.08 L85.40 128.50 L85.47 104.46 L85.50 98.50 L85.59 127.18 L85.60 128.50 L85.72 144.39 L85.80 149.50 L85.84 150.52 L85.97 152.68 L86.09 153.85 L86.15 154.10 L86.22 154.29 L86.34 154.60 L86.47 154.83 L86.59 154.99 L86.72 155.08 L86.80 155.10 L86.84 155.10 L86.97 155.10 L87.09 155.10 L87.22 155.10 L87.34 155.10 L87.47 155.10 L87.59 155.10 L87.72 155.10 L87.84 155.10 L87.97 155.10 L88.09 155.10 L88.22 155.10 L88.34 155.10 L88.47 155.10 L88.59 155.10 L88.72 155.10 L88.84 155.10 L88.97 155.10 L89.09 155.10 L89.22 155.10 L89.34 155.10 L89.47 155.10 L89.59 155.10 L89.72 155.10 L89.84 155.10 L89.97 155.10 L90.09 155.10 L90.22 155.10 L90.34 155.10 L90.47 155.10 L90.59 155.10 L90.72 155.10 L90.84 155.10 L90.97 155.10 L91.09 155.10 L91.22 155.10 L91.34 155.10 L91.47 155.10 L91.59 155.10 L91.72 155.10 L91.84 155.10 L91.97 155.10 L92.09 155.10 L92.22 155.10 L92.34 155.10 L92.47 155.10 L92.59 155.10 L92.72 155.10 L92.84 155.10 L92.97 155.10 L93.09 155.10 L93.22 155.10 L93.34 155.10 L93.47 155.10 L93.59 155.10 L93.72 155.10 L93.84 155.10 L93.97 155.10 L94.09 155.10 L94.22 155.10 L94.34 155.10 L94.47 155.10 L94.59 155.10 L94.72 155.10 L94.84 155.10 L94.97 155.10 L95.09 155.10 L95.22 155.10 L95.34 155.10 L95.47 155.10 L95.59 155.10 L95.72 155.10 L95.84 155.10 L95.97 155.10 L96.09 155.10 L96.22 155.10 L96.34 155.10 L96.47 155.10 L96.59 155.10 L96.72 155.10 L96.84 155.10 L96.97 155.10 L97.09 155.10 L97.20 155.10 L97.22 155.10 L97.34 155.08 L97.47 155.04 L97.59 154.98 L97.72 154.90 L97.84 154.81 L97.97 154.71 L98.09 154.60 L98.20 154.50 L98.22 154.49 L98.34 154.36 L98.47 154.23 L98.59 154.07 L98.72 153.88 L98.84 153.67 L98.97 153.43 L99.09 153.15 L99.22 152.84 L99.34 152.48 L99.40 152.30 L99.47 152.05 L99.59 151.37 L99.72 150.44 L99.84 149.31 L99.97 148.00 L100.09 146.55 L100.20 145.20 L100.22 144.99 L100.34 142.85 L100.47 139.95 L100.59 136.50 L100.72 132.67 L100.84 128.65 L100.97 124.64 L101.09 120.81 L101.22 117.36 L101.34 114.47 L101.47 112.33 L101.50 111.90 L101.59 110.87 L101.72 109.48 L101.84 108.13 L101.97 106.84 L102.09 105.61 L102.22 104.44 L102.34 103.36 L102.47 102.36 L102.59 101.46 L102.72 100.66 L102.84 99.97 L102.97 99.40 L103.09 98.97 L103.22 98.67 L103.34 98.52 L103.40 98.50 L103.47 98.50 L103.59 98.54 L103.72 98.61 L103.84 98.70 L103.97 98.82 L104.09 98.97 L104.22 99.13 L104.23 99.14 L104.34 99.43 L104.47 99.98 L104.59 100.74 L104.72 101.65 L104.84 102.66 L104.96 103.73 L105.05 104.45 L105.09 104.81 L105.21 106.15 L105.34 107.74 L105.46 109.46 L105.59 111.20 L105.71 112.83 L105.84 114.23 L105.88 114.57 L105.96 115.43 L106.09 116.69 L106.21 117.92 L106.34 119.04 L106.46 119.93 L106.59 120.52 L106.70 120.70 L106.71 120.70 L106.84 120.58 L106.96 120.29 L107.09 119.86 L107.21 119.30 L107.34 118.65 L107.46 117.92 L107.59 117.15 L107.71 116.35 L107.84 115.55 L107.96 114.78 L108.00 114.57 L108.09 114.01 L108.21 113.12 L108.34 112.13 L108.46 111.07 L108.59 109.97 L108.71 108.86 L108.84 107.77 L108.96 106.74 L109.09 105.79 L109.21 104.95 L109.30 104.45 L109.34 104.24 L109.46 103.56 L109.59 102.89 L109.71 102.23 L109.84 101.60 L109.96 101.01 L110.09 100.47 L110.21 100.01 L110.34 99.62 L110.46 99.33 L110.59 99.15 L110.60 99.14 L110.71 99.05 L110.84 98.95 L110.96 98.85 L111.09 98.77 L111.21 98.70 L111.34 98.63 L111.46 98.58 L111.59 98.54 L111.71 98.52 L111.84 98.50 L111.90 98.50 L111.96 98.50 L112.09 98.51 L112.21 98.52 L112.34 98.54 L112.46 98.56 L112.59 98.59 L112.71 98.62 L112.84 98.65 L112.96 98.69 L113.09 98.73 L113.10 98.74 L113.21 98.80 L113.34 98.91 L113.46 99.07 L113.59 99.26 L113.71 99.47 L113.84 99.71 L113.96 99.97 L114.09 100.24 L114.21 100.51 L114.30 100.70 L114.34 100.78 L114.46 101.10 L114.59 101.47 L114.71 101.88 L114.84 102.32 L114.96 102.76 L115.09 103.20 L115.21 103.62 L115.34 104.01 L115.46 104.35 L115.50 104.44 L115.59 104.65 L115.71 104.96 L115.84 105.28 L115.96 105.60 L116.09 105.89 L116.21 106.16 L116.34 106.39 L116.46 106.56 L116.59 106.67 L116.70 106.70 L116.71 106.70 L116.84 106.66 L116.96 106.55 L117.09 106.38 L117.21 106.17 L117.34 105.92 L117.46 105.64 L117.59 105.35 L117.71 105.05 L117.84 104.75 L117.96 104.46 L117.97 104.44 L118.09 104.17 L118.21 103.82 L118.34 103.44 L118.46 103.04 L118.59 102.62 L118.71 102.20 L118.84 101.80 L118.96 101.42 L119.09 101.07 L119.21 100.78 L119.25 100.70 L119.34 100.52 L119.46 100.26 L119.59 100.01 L119.71 99.77 L119.84 99.54 L119.96 99.32 L120.09 99.14 L120.21 98.98 L120.34 98.85 L120.46 98.76 L120.53 98.74 L120.59 98.72 L120.71 98.68 L120.84 98.64 L120.96 98.61 L121.09 98.58 L121.21 98.56 L121.34 98.54 L121.46 98.52 L121.59 98.51 L121.71 98.50 L121.80 98.50 L121.84 98.50 L121.96 98.50 L122.09 98.51 L122.21 98.51 L122.34 98.52 L122.46 98.53 L122.59 98.54 L122.71 98.56 L122.84 98.57 L122.96 98.59 L123.09 98.61 L123.12 98.62 L123.21 98.63 L123.34 98.68 L123.46 98.74 L123.59 98.81 L123.71 98.90 L123.84 99.00 L123.96 99.11 L124.09 99.23 L124.21 99.34 L124.34 99.46 L124.45 99.57 L124.46 99.58 L124.59 99.72 L124.71 99.87 L124.84 100.05 L124.96 100.23 L125.09 100.43 L125.21 100.62 L125.34 100.82 L125.46 101.00 L125.59 101.17 L125.71 101.33 L125.77 101.40 L125.84 101.46 L125.96 101.60 L126.09 101.74 L126.21 101.88 L126.34 102.02 L126.46 102.14 L126.59 102.26 L126.71 102.35 L126.84 102.43 L126.96 102.48 L127.09 102.50 L127.10 102.50 L127.21 102.49 L127.34 102.44 L127.46 102.36 L127.59 102.26 L127.71 102.15 L127.84 102.01 L127.96 101.87 L128.09 101.73 L128.21 101.58 L128.34 101.44 L128.38 101.40 L128.46 101.30 L128.59 101.13 L128.71 100.95 L128.84 100.76 L128.96 100.55 L129.09 100.35 L129.21 100.15 L129.34 99.96 L129.46 99.79 L129.59 99.64 L129.65 99.57 L129.71 99.51 L129.84 99.39 L129.96 99.26 L130.09 99.14 L130.21 99.03 L130.34 98.92 L130.46 98.83 L130.59 98.75 L130.71 98.68 L130.84 98.64 L130.92 98.62 L130.96 98.61 L131.09 98.59 L131.21 98.57 L131.34 98.56 L131.46 98.54 L131.59 98.53 L131.71 98.52 L131.84 98.51 L131.96 98.50 L132.09 98.50 L132.20 98.50 L132.21 98.50 L132.34 98.51 L132.46 98.52 L132.59 98.54 L132.71 98.58 L132.84 98.62 L132.96 98.66 L133.08 98.72 L133.21 98.78 L133.33 98.84 L133.46 98.91 L133.58 98.99 L133.71 99.07 L133.83 99.15 L133.96 99.24 L134.08 99.33 L134.21 99.42 L134.33 99.52 L134.46 99.61 L134.58 99.71 L134.71 99.81 L134.83 99.90 L134.96 100.00 L135.08 100.10 L135.21 100.19 L135.33 100.28 L135.46 100.37 L135.58 100.46 L135.71 100.54 L135.83 100.62 L135.96 100.70 L136.08 100.77 L136.21 100.83 L136.33 100.89 L136.46 100.95 L136.58 100.99 L136.71 101.03 L136.83 101.06 L136.96 101.08 L137.08 101.10 L137.20 101.10 L137.21 101.10 L137.33 101.10 L137.46 101.09 L137.58 101.07 L137.71 101.05 L137.83 101.02 L137.96 100.99 L138.08 100.96 L138.21 100.92 L138.33 100.87 L138.46 100.82 L138.58 100.77 L138.71 100.71 L138.83 100.66 L138.96 100.59 L139.08 100.53 L139.21 100.46 L139.33 100.40 L139.46 100.33 L139.58 100.25 L139.71 100.18 L139.83 100.11 L139.96 100.03 L140.08 99.96 L140.21 99.89 L140.33 99.81 L140.46 99.74 L140.58 99.66 L140.71 99.59 L140.83 99.52 L140.96 99.45 L141.08 99.39 L141.21 99.32 L141.33 99.26 L141.46 99.20 L141.58 99.14 L141.71 99.09 L141.83 99.04 L141.96 99.00 L142.08 98.95 L142.21 98.92 L142.33 98.88 L142.46 98.86 L142.58 98.83 L142.71 98.82 L142.83 98.81 L142.96 98.80 L143.00 98.80 L143.08 98.80 L143.21 98.81 L143.33 98.82 L143.46 98.84 L143.58 98.87 L143.71 98.90 L143.83 98.94 L143.96 98.98 L144.08 99.02 L144.21 99.07 L144.33 99.13 L144.46 99.19 L144.58 99.25 L144.71 99.31 L144.83 99.38 L144.96 99.45 L145.08 99.52 L145.21 99.60 L145.33 99.67 L145.46 99.75 L145.58 99.83 L145.71 99.91 L145.83 99.99 L145.96 100.07 L146.08 100.15 L146.21 100.23 L146.33 100.32 L146.46 100.40 L146.58 100.47 L146.71 100.55 L146.83 100.63 L146.96 100.70 L147.08 100.77 L147.21 100.84 L147.33 100.91 L147.46 100.97 L147.58 101.03 L147.71 101.09 L147.83 101.14 L147.96 101.19 L148.08 101.24 L148.21 101.28 L148.33 101.31 L148.46 101.34 L148.58 101.36 L148.71 101.38 L148.83 101.39 L148.96 101.40 L149.00 101.40 L149.08 101.40 L149.21 101.39 L149.33 101.38 L149.46 101.37 L149.58 101.35 L149.71 101.32 L149.83 101.30 L149.96 101.27 L150.08 101.23 L150.21 101.19 L150.33 101.15 L150.46 101.11 L150.58 101.06 L150.71 101.01 L150.83 100.96 L150.96 100.91 L151.08 100.86 L151.21 100.80 L151.33 100.74 L151.46 100.69 L151.58 100.63 L151.71 100.57 L151.83 100.51 L151.96 100.45 L152.08 100.39 L152.21 100.33 L152.33 100.27 L152.46 100.21 L152.58 100.15 L152.71 100.09 L152.83 100.04 L152.96 99.98 L153.08 99.93 L153.21 99.88 L153.33 99.83 L153.46 99.79 L153.58 99.74 L153.71 99.70 L153.83 99.66 L153.96 99.63 L154.08 99.60 L154.21 99.57 L154.33 99.55 L154.46 99.53 L154.58 99.52 L154.71 99.51 L154.83 99.50 L154.90 99.50 L154.96 99.50 L155.08 99.51 L155.21 99.51 L155.33 99.53 L155.46 99.55 L155.58 99.57 L155.71 99.59 L155.83 99.62 L155.96 99.66 L156.08 99.69 L156.21 99.73 L156.33 99.77 L156.46 99.82 L156.58 99.86 L156.71 99.91 L156.83 99.96 L156.96 100.02 L157.08 100.07 L157.21 100.13 L157.33 100.18 L157.46 100.24 L157.58 100.30 L157.71 100.36 L157.83 100.42 L157.96 100.48 L158.08 100.54 L158.21 100.59 L158.33 100.65 L158.46 100.71 L158.58 100.77 L158.71 100.82 L158.83 100.88 L158.96 100.93 L159.08 100.98 L159.21 101.03 L159.33 101.08 L159.46 101.12 L159.58 101.16 L159.71 101.20 L159.83 101.24 L159.96 101.27 L160.08 101.30 L160.21 101.33 L160.33 101.35 L160.46 101.37 L160.58 101.38 L160.71 101.39 L160.83 101.40 L160.90 101.40 L160.96 101.40 L161.08 101.40 L161.20 101.39 L161.33 101.38 L161.45 101.36 L161.58 101.35 L161.70 101.33 L161.83 101.31 L161.95 101.28 L162.08 101.25 L162.20 101.23 L162.33 101.19 L162.45 101.16 L162.58 101.13 L162.70 101.09 L162.83 101.06 L162.95 101.02 L163.08 100.98 L163.20 100.94 L163.33 100.91 L163.45 100.87 L163.58 100.83 L163.70 100.79 L163.83 100.76 L163.95 100.72 L164.08 100.68 L164.20 100.65 L164.33 100.62 L164.45 100.58 L164.58 100.56 L164.70 100.53 L164.83 100.50 L164.95 100.48 L165.08 100.46 L165.20 100.44 L165.33 100.43 L165.45 100.41 L165.58 100.41 L165.70 100.40 L165.80 100.40 L165.83 100.40 L165.95 100.40 L166.08 100.40 L166.20 100.41 L166.33 100.41 L166.45 100.42 L166.58 100.43 L166.70 100.44 L166.83 100.45 L166.95 100.47 L167.08 100.48 L167.20 100.50 L167.33 100.52 L167.45 100.53 L167.58 100.55 L167.70 100.57 L167.83 100.60 L167.95 100.62 L168.08 100.64 L168.20 100.67 L168.33 100.69 L168.45 100.72 L168.58 100.75 L168.70 100.78 L168.83 100.81 L168.95 100.84 L169.08 100.87 L169.20 100.90 L169.33 100.93 L169.45 100.96 L169.58 100.99 L169.70 101.03 L169.83 101.06 L169.95 101.10 L170.08 101.13 L170.20 101.17 L170.33 101.20 L170.45 101.24 L170.58 101.27 L170.70 101.31 L170.83 101.34 L170.95 101.38 L171.08 101.42 L171.20 101.45 L171.33 101.49 L171.45 101.53 L171.58 101.56 L171.70 101.60 L171.83 101.63 L171.95 101.67 L172.08 101.70 L172.20 101.74 L172.33 101.77 L172.45 101.81 L172.58 101.84 L172.70 101.87 L172.80 101.90 L172.83 101.91 L172.95 101.94 L173.08 101.98 L173.20 102.02 L173.33 102.06 L173.45 102.10 L173.58 102.15 L173.70 102.19 L173.83 102.24 L173.95 102.29 L174.08 102.34 L174.20 102.39 L174.33 102.45 L174.45 102.50 L174.58 102.56 L174.70 102.61 L174.83 102.66 L174.95 102.72 L175.08 102.77 L175.20 102.83 L175.33 102.88 L175.45 102.94 L175.58 102.99 L175.70 103.04 L175.83 103.10 L175.95 103.15 L176.08 103.20 L176.20 103.24 L176.33 103.29 L176.45 103.33 L176.58 103.38 L176.70 103.42 L176.83 103.46 L176.95 103.49 L177.08 103.53 L177.20 103.56 L177.33 103.59 L177.45 103.61 L177.58 103.64 L177.70 103.66 L177.83 103.67 L177.95 103.68 L178.08 103.69 L178.20 103.70 L178.30 103.70 L178.33 103.70 L178.45 103.69 L178.58 103.68 L178.70 103.66 L178.83 103.64 L178.95 103.61 L179.08 103.57 L179.20 103.53 L179.33 103.48 L179.45 103.43 L179.58 103.37 L179.70 103.32 L179.83 103.26 L179.95 103.19 L180.08 103.13 L180.20 103.06 L180.33 102.99 L180.45 102.93 L180.58 102.86 L180.70 102.79 L180.83 102.72 L180.95 102.66 L181.08 102.59 L181.20 102.53 L181.33 102.47 L181.45 102.41 L181.58 102.36 L181.70 102.31 L181.83 102.26 L181.95 102.22 L182.08 102.19 L182.20 102.16 L182.33 102.13 L182.45 102.11 L182.58 102.10 L182.70 102.10 L182.70 102.10 L182.83 102.10 L182.95 102.12 L183.08 102.14 L183.20 102.17 L183.33 102.21 L183.45 102.25 L183.58 102.31 L183.70 102.37 L183.83 102.44 L183.95 102.51 L184.08 102.60 L184.20 102.69 L184.33 102.79 L184.45 102.90 L184.58 103.01 L184.70 103.13 L184.83 103.26 L184.95 103.40 L185.08 103.54 L185.20 103.69 L185.33 103.85 L185.45 104.01 L185.58 104.18 L185.70 104.35 L185.83 104.53 L185.95 104.72 L186.08 104.91 L186.20 105.11 L186.33 105.32 L186.45 105.53 L186.58 105.74 L186.70 105.96 L186.83 106.19 L186.95 106.42 L187.08 106.66 L187.20 106.90 L187.33 107.15 L187.45 107.40 L187.58 107.66 L187.70 107.92 L187.83 108.19 L187.95 108.46 L188.08 108.74 L188.20 109.02 L188.33 109.30 L188.45 109.59 L188.58 109.88 L188.70 110.18 L188.83 110.48 L188.95 110.78 L189.08 111.09 L189.20 111.40" fill="none" stroke="#D95319" stroke-width="2.85" stroke-linejoin="round" stroke-linecap="butt"/>
<text x="50.50" y="149.10" font-size="16.00" font-weight="bold" fill="#000">(c)</text>
<text transform="translate(402.20 174.00) scale(0.930 1)" font-size="14.50" fill="#262626" text-anchor="middle">700</text>
<path d="M446.67 155.10 v-4.03 M446.67 98.50 v4.03" stroke="#262626" stroke-width="2.85" fill="none"/>
<text transform="translate(446.67 174.00) scale(0.930 1)" font-size="14.50" fill="#262626" text-anchor="middle">800</text>
<path d="M491.14 155.10 v-4.03 M491.14 98.50 v4.03" stroke="#262626" stroke-width="2.85" fill="none"/>
<text transform="translate(491.14 174.00) scale(0.930 1)" font-size="14.50" fill="#262626" text-anchor="middle">900</text>
<path d="M535.61 155.10 v-4.03 M535.61 98.50 v4.03" stroke="#262626" stroke-width="2.85" fill="none"/>
<text transform="translate(535.61 174.00) scale(0.930 1)" font-size="14.50" fill="#262626" text-anchor="middle">1000</text>
<path d="M580.08 155.10 v-4.03 M580.08 98.50 v4.03" stroke="#262626" stroke-width="2.85" fill="none"/>
<text transform="translate(580.08 174.00) scale(0.930 1)" font-size="14.50" fill="#262626" text-anchor="middle">1100</text>
<path d="M624.55 155.10 v-4.03 M624.55 98.50 v4.03" stroke="#262626" stroke-width="2.85" fill="none"/>
<text transform="translate(624.55 174.00) scale(0.930 1)" font-size="14.50" fill="#262626" text-anchor="middle">1200</text>
<text transform="translate(669.02 174.00) scale(0.930 1)" font-size="14.50" fill="#262626" text-anchor="middle">1300</text>
<path d="M402.20 126.80 h4.03 M669.00 126.80 h-4.03" stroke="#262626" stroke-width="2.85" fill="none"/>
<text transform="translate(397.60 104.10) scale(0.930 1)" font-size="14.50" fill="#262626" text-anchor="end">100</text>
<text transform="translate(397.60 132.40) scale(0.930 1)" font-size="14.50" fill="#262626" text-anchor="end">50</text>
<text transform="translate(397.60 160.70) scale(0.930 1)" font-size="14.50" fill="#262626" text-anchor="end">0</text>
<rect x="402.20" y="98.50" width="266.80" height="56.60" fill="none" stroke="#262626" stroke-width="2.85"/>
<path d="M536.20 98.50 L536.32 100.33 L536.45 102.09 L536.57 103.80 L536.70 105.44 L536.82 107.03 L536.95 108.56 L537.07 110.03 L537.20 111.45 L537.32 112.81 L537.45 114.12 L537.57 115.38 L537.70 116.58 L537.82 117.73 L537.95 118.84 L538.07 119.89 L538.20 120.90 L538.32 121.86 L538.45 122.77 L538.57 123.64 L538.70 124.46 L538.82 125.24 L538.95 125.98 L539.07 126.67 L539.20 127.33 L539.32 127.94 L539.45 128.52 L539.57 129.06 L539.70 129.56 L539.82 130.03 L539.95 130.46 L540.07 130.86 L540.20 131.22 L540.32 131.56 L540.45 131.86 L540.57 132.13 L540.70 132.37 L540.82 132.59 L540.95 132.77 L541.07 132.93 L541.20 133.07 L541.32 133.18 L541.45 133.27 L541.57 133.33 L541.70 133.37 L541.82 133.40 L541.90 133.40 L541.95 133.39 L542.07 133.25 L542.20 132.95 L542.32 132.53 L542.45 132.00 L542.57 131.36 L542.70 130.65 L542.82 129.88 L542.95 129.06 L543.07 128.22 L543.20 127.36 L543.32 126.52 L543.42 125.83 L543.45 125.69 L543.57 124.79 L543.70 123.76 L543.82 122.63 L543.95 121.42 L544.07 120.15 L544.20 118.85 L544.32 117.54 L544.45 116.23 L544.57 114.96 L544.70 113.73 L544.82 112.59 L544.95 111.54 L544.95 111.50 L545.07 110.54 L545.19 109.51 L545.32 108.47 L545.44 107.44 L545.57 106.42 L545.69 105.45 L545.82 104.52 L545.94 103.66 L546.07 102.88 L546.19 102.20 L546.32 101.63 L546.44 101.19 L546.48 101.10 L546.57 100.84 L546.69 100.51 L546.82 100.20 L546.94 99.90 L547.07 99.62 L547.19 99.36 L547.32 99.13 L547.44 98.93 L547.57 98.77 L547.69 98.64 L547.82 98.55 L547.94 98.50 L548.00 98.50 L548.07 98.51 L548.19 98.55 L548.32 98.63 L548.44 98.75 L548.57 98.90 L548.69 99.08 L548.82 99.29 L548.94 99.53 L549.07 99.78 L549.19 100.05 L549.32 100.34 L549.44 100.64 L549.55 100.91 L549.57 100.95 L549.69 101.35 L549.82 101.87 L549.94 102.49 L550.07 103.21 L550.19 104.01 L550.32 104.87 L550.44 105.78 L550.57 106.73 L550.69 107.71 L550.82 108.70 L550.94 109.68 L551.07 110.65 L551.10 110.90 L551.19 111.62 L551.32 112.69 L551.44 113.85 L551.57 115.07 L551.69 116.32 L551.82 117.60 L551.94 118.87 L552.07 120.12 L552.19 121.32 L552.32 122.46 L552.44 123.52 L552.57 124.46 L552.65 125.03 L552.69 125.29 L552.82 126.11 L552.94 126.95 L553.07 127.79 L553.19 128.61 L553.32 129.40 L553.44 130.13 L553.57 130.81 L553.69 131.40 L553.81 131.89 L553.94 132.26 L554.06 132.51 L554.19 132.60 L554.20 132.60 L554.31 132.53 L554.44 132.32 L554.56 131.98 L554.69 131.52 L554.81 130.96 L554.94 130.32 L555.06 129.60 L555.19 128.84 L555.31 128.04 L555.44 127.22 L555.56 126.39 L555.69 125.58 L555.78 125.03 L555.81 124.78 L555.94 123.90 L556.06 122.90 L556.19 121.81 L556.31 120.65 L556.44 119.43 L556.56 118.19 L556.69 116.93 L556.81 115.68 L556.94 114.47 L557.06 113.29 L557.19 112.19 L557.31 111.18 L557.35 110.90 L557.44 110.24 L557.56 109.28 L557.69 108.31 L557.81 107.34 L557.94 106.39 L558.06 105.46 L558.19 104.58 L558.31 103.75 L558.44 102.99 L558.56 102.30 L558.69 101.72 L558.81 101.24 L558.92 100.91 L558.94 100.88 L559.06 100.57 L559.19 100.28 L559.31 100.00 L559.44 99.74 L559.56 99.49 L559.69 99.26 L559.81 99.06 L559.94 98.88 L560.06 98.74 L560.19 98.63 L560.31 98.55 L560.44 98.51 L560.50 98.50 L560.56 98.51 L560.69 98.56 L560.81 98.67 L560.94 98.82 L561.06 99.02 L561.19 99.25 L561.31 99.52 L561.44 99.82 L561.56 100.15 L561.69 100.49 L561.81 100.86 L561.94 101.24 L562.06 101.63 L562.08 101.68 L562.19 102.09 L562.31 102.67 L562.44 103.38 L562.56 104.19 L562.68 105.09 L562.81 106.06 L562.93 107.09 L563.06 108.16 L563.18 109.26 L563.31 110.36 L563.43 111.46 L563.56 112.54 L563.65 113.31 L563.68 113.59 L563.81 114.70 L563.93 115.90 L564.06 117.15 L564.18 118.45 L564.31 119.76 L564.43 121.08 L564.56 122.38 L564.68 123.64 L564.81 124.84 L564.93 125.96 L565.06 126.99 L565.18 127.89 L565.22 128.17 L565.31 128.70 L565.43 129.52 L565.56 130.35 L565.68 131.17 L565.81 131.97 L565.93 132.73 L566.06 133.43 L566.18 134.07 L566.31 134.62 L566.43 135.08 L566.56 135.42 L566.68 135.63 L566.80 135.70 L566.81 135.70 L566.93 135.62 L567.06 135.39 L567.18 135.05 L567.31 134.59 L567.43 134.04 L567.56 133.41 L567.68 132.72 L567.81 131.97 L567.93 131.19 L568.06 130.38 L568.18 129.57 L568.31 128.76 L568.40 128.17 L568.43 127.96 L568.56 127.08 L568.68 126.09 L568.81 124.99 L568.93 123.82 L569.06 122.58 L569.18 121.31 L569.31 120.02 L569.43 118.72 L569.56 117.44 L569.68 116.19 L569.81 115.00 L569.93 113.89 L570.00 113.31 L570.06 112.85 L570.18 111.79 L570.31 110.71 L570.43 109.62 L570.56 108.54 L570.68 107.47 L570.81 106.44 L570.93 105.46 L571.06 104.55 L571.18 103.71 L571.31 102.97 L571.43 102.34 L571.55 101.83 L571.60 101.68 L571.68 101.43 L571.80 101.05 L571.93 100.68 L572.05 100.33 L572.18 100.00 L572.30 99.69 L572.43 99.40 L572.55 99.15 L572.68 98.93 L572.80 98.76 L572.93 98.62 L573.05 98.54 L573.18 98.50 L573.20 98.50 L573.30 98.60 L573.43 98.96 L573.55 99.55 L573.68 100.35 L573.80 101.31 L573.93 102.42 L574.05 103.63 L574.18 104.92 L574.30 106.25 L574.43 107.60 L574.55 108.92 L574.68 110.20 L574.78 111.13 L574.80 111.39 L574.93 112.64 L575.05 113.98 L575.18 115.39 L575.30 116.86 L575.43 118.36 L575.55 119.88 L575.68 121.39 L575.80 122.88 L575.93 124.32 L576.05 125.70 L576.18 127.00 L576.30 128.19 L576.35 128.62 L576.43 129.29 L576.55 130.37 L576.68 131.45 L576.80 132.50 L576.93 133.53 L577.05 134.53 L577.18 135.48 L577.30 136.39 L577.43 137.23 L577.55 138.01 L577.68 138.72 L577.80 139.34 L577.92 139.87 L577.93 139.88 L578.05 140.37 L578.18 140.85 L578.30 141.33 L578.43 141.79 L578.55 142.23 L578.68 142.64 L578.80 143.01 L578.93 143.34 L579.05 143.62 L579.18 143.84 L579.30 144.00 L579.43 144.09 L579.50 144.10 L579.55 144.09 L579.68 144.01 L579.80 143.83 L579.93 143.58 L580.05 143.26 L580.17 142.88 L580.30 142.45 L580.42 141.98 L580.55 141.48 L580.67 140.95 L580.80 140.41 L580.92 139.87 L580.92 139.87 L581.05 139.28 L581.17 138.57 L581.30 137.77 L581.42 136.88 L581.55 135.91 L581.67 134.88 L581.80 133.79 L581.92 132.66 L582.05 131.50 L582.17 130.31 L582.30 129.11 L582.35 128.62 L582.42 127.88 L582.55 126.53 L582.67 125.05 L582.80 123.48 L582.92 121.85 L583.05 120.19 L583.17 118.51 L583.30 116.85 L583.42 115.23 L583.55 113.68 L583.67 112.23 L583.78 111.13 L583.80 110.89 L583.92 109.53 L584.05 108.08 L584.17 106.60 L584.30 105.12 L584.42 103.69 L584.55 102.35 L584.67 101.15 L584.80 100.12 L584.92 99.30 L585.05 98.75 L585.17 98.51 L585.20 98.50 L585.30 98.54 L585.42 98.69 L585.55 98.97 L585.67 99.36 L585.80 99.86 L585.92 100.47 L586.05 101.18 L586.17 101.99 L586.30 102.90 L586.42 103.89 L586.55 104.97 L586.67 106.14 L586.80 107.38 L586.92 108.70 L587.05 110.09 L587.17 111.55 L587.20 111.90 L587.30 113.60 L587.42 117.19 L587.55 121.89 L587.67 127.20 L587.80 132.63 L587.92 137.70 L588.05 141.91 L588.17 144.77 L588.20 145.20 L588.30 146.35 L588.42 147.71 L588.55 148.90 L588.67 149.93 L588.80 150.81 L588.92 151.52 L589.04 152.09 L589.10 152.30 L589.17 152.54 L589.29 152.93 L589.42 153.28 L589.54 153.59 L589.67 153.86 L589.79 154.10 L589.92 154.29 L590.04 154.44 L590.10 154.50 L590.17 154.56 L590.29 154.68 L590.42 154.78 L590.54 154.88 L590.67 154.96 L590.79 155.03 L590.92 155.07 L591.04 155.10 L591.10 155.10 L591.17 155.10 L591.29 155.10 L591.42 155.10 L591.54 155.10 L591.67 155.10 L591.79 155.10 L591.92 155.10 L592.04 155.10 L592.17 155.10 L592.29 155.10 L592.42 155.10 L592.54 155.10 L592.67 155.10 L592.79 155.10 L592.92 155.10 L593.04 155.10 L593.17 155.10 L593.29 155.10 L593.42 155.10 L593.54 155.10 L593.67 155.10 L593.79 155.10 L593.92 155.10 L594.04 155.10 L594.17 155.10 L594.29 155.10 L594.42 155.10 L594.54 155.10 L594.67 155.10 L594.79 155.10 L594.92 155.10 L595.04 155.10 L595.17 155.10 L595.29 155.10 L595.42 155.10 L595.54 155.10 L595.67 155.10 L595.79 155.10 L595.92 155.10 L596.04 155.10 L596.17 155.10 L596.29 155.10 L596.42 155.10 L596.54 155.10 L596.67 155.10 L596.79 155.10 L596.92 155.10 L597.04 155.10 L597.17 155.10 L597.29 155.10 L597.42 155.10 L597.54 155.10 L597.67 155.10 L597.79 155.10 L597.91 155.10 L598.04 155.10 L598.16 155.10 L598.29 155.10 L598.41 155.10 L598.54 155.10 L598.66 155.10 L598.79 155.10 L598.91 155.10 L599.04 155.10 L599.16 155.10 L599.29 155.10 L599.40 155.10 L599.41 155.10 L599.54 155.05 L599.66 154.93 L599.79 154.73 L599.91 154.47 L600.04 154.13 L600.05 154.10 L600.16 153.43 L600.29 151.83 L600.40 149.50 L600.41 149.07 L600.54 137.77 L600.60 128.50 L600.66 106.25 L600.70 98.50 L600.79 125.85 L600.80 128.50 L600.91 143.87 L601.00 149.50 L601.04 150.40 L601.16 152.61 L601.29 153.82 L601.35 154.10 L601.41 154.28 L601.54 154.59 L601.66 154.82 L601.79 154.99 L601.91 155.08 L602.00 155.10 L602.04 155.10 L602.16 155.10 L602.29 155.10 L602.41 155.10 L602.54 155.10 L602.66 155.10 L602.79 155.10 L602.91 155.10 L603.04 155.10 L603.16 155.10 L603.29 155.10 L603.41 155.10 L603.54 155.10 L603.66 155.10 L603.79 155.10 L603.91 155.10 L604.04 155.10 L604.16 155.10 L604.29 155.10 L604.41 155.10 L604.54 155.10 L604.66 155.10 L604.79 155.10 L604.91 155.10 L605.04 155.10 L605.16 155.10 L605.29 155.10 L605.41 155.10 L605.54 155.10 L605.66 155.10 L605.79 155.10 L605.91 155.10 L606.04 155.10 L606.16 155.10 L606.29 155.10 L606.41 155.10 L606.53 155.10 L606.66 155.10 L606.78 155.10 L606.91 155.10 L607.03 155.10 L607.16 155.10 L607.28 155.10 L607.41 155.10 L607.53 155.10 L607.66 155.10 L607.78 155.10 L607.91 155.10 L608.03 155.10 L608.16 155.10 L608.28 155.10 L608.41 155.10 L608.53 155.10 L608.66 155.10 L608.78 155.10 L608.91 155.10 L609.03 155.10 L609.16 155.10 L609.28 155.10 L609.41 155.10 L609.53 155.10 L609.66 155.10 L609.78 155.10 L609.91 155.10 L610.03 155.10 L610.16 155.10 L610.28 155.10 L610.41 155.10 L610.53 155.10 L610.66 155.10 L610.78 155.10 L610.91 155.10 L611.03 155.10 L611.16 155.10 L611.28 155.10 L611.41 155.10 L611.53 155.10 L611.66 155.10 L611.78 155.10 L611.91 155.10 L612.03 155.10 L612.16 155.10 L612.28 155.10 L612.41 155.10 L612.53 155.10 L612.66 155.10 L612.78 155.10 L612.91 155.10 L613.03 155.10 L613.16 155.10 L613.28 155.10 L613.41 155.10 L613.53 155.10 L613.66 155.10 L613.78 155.10 L613.91 155.10 L614.03 155.10 L614.16 155.10 L614.28 155.10 L614.41 155.10 L614.53 155.10 L614.66 155.10 L614.78 155.10 L614.91 155.10 L615.03 155.10 L615.16 155.10 L615.28 155.10 L615.40 155.10 L615.53 155.10 L615.65 155.10 L615.78 155.10 L615.90 155.10 L616.03 155.10 L616.15 155.10 L616.28 155.10 L616.40 155.10 L616.53 155.10 L616.65 155.10 L616.78 155.10 L616.90 155.10 L616.90 155.10 L617.03 155.09 L617.15 155.05 L617.28 154.98 L617.40 154.91 L617.53 154.81 L617.65 154.71 L617.78 154.61 L617.90 154.50 L617.90 154.50 L618.03 154.38 L618.15 154.25 L618.28 154.10 L618.40 153.94 L618.53 153.75 L618.65 153.54 L618.78 153.31 L618.90 153.04 L619.03 152.75 L619.15 152.43 L619.20 152.30 L619.28 152.05 L619.40 151.54 L619.53 150.88 L619.65 150.09 L619.78 149.17 L619.90 148.13 L620.03 146.98 L620.15 145.71 L620.20 145.20 L620.28 144.16 L620.40 141.72 L620.53 138.54 L620.65 134.81 L620.78 130.77 L620.90 126.61 L621.03 122.56 L621.15 118.83 L621.28 115.63 L621.40 113.17 L621.50 111.90 L621.53 111.65 L621.65 110.49 L621.78 109.36 L621.90 108.28 L622.03 107.25 L622.15 106.26 L622.28 105.31 L622.40 104.42 L622.53 103.59 L622.65 102.80 L622.78 102.08 L622.90 101.42 L623.03 100.81 L623.15 100.28 L623.28 99.80 L623.40 99.40 L623.53 99.07 L623.65 98.81 L623.78 98.63 L623.90 98.53 L624.00 98.50 L624.03 98.50 L624.15 98.55 L624.27 98.66 L624.40 98.83 L624.52 99.05 L624.65 99.31 L624.77 99.61 L624.90 99.94 L625.00 100.23 L625.02 100.30 L625.15 100.85 L625.27 101.64 L625.40 102.62 L625.52 103.76 L625.65 105.00 L625.77 106.31 L625.90 107.65 L626.00 108.71 L626.02 108.96 L626.15 110.44 L626.27 112.13 L626.40 113.95 L626.52 115.81 L626.65 117.66 L626.77 119.39 L626.90 120.94 L627.00 122.02 L627.02 122.24 L627.15 123.49 L627.27 124.77 L627.40 126.01 L627.52 127.16 L627.65 128.14 L627.77 128.90 L627.90 129.37 L628.00 129.50 L628.02 129.50 L628.15 129.39 L628.27 129.13 L628.40 128.74 L628.52 128.24 L628.65 127.65 L628.77 126.97 L628.90 126.23 L629.02 125.45 L629.15 124.64 L629.27 123.81 L629.40 122.99 L629.52 122.19 L629.55 122.02 L629.65 121.38 L629.77 120.45 L629.90 119.43 L630.02 118.33 L630.15 117.17 L630.27 115.98 L630.40 114.77 L630.52 113.57 L630.65 112.40 L630.77 111.28 L630.90 110.22 L631.02 109.26 L631.10 108.71 L631.15 108.40 L631.27 107.55 L631.40 106.69 L631.52 105.83 L631.65 104.99 L631.77 104.18 L631.90 103.41 L632.02 102.68 L632.15 102.02 L632.27 101.43 L632.40 100.93 L632.52 100.53 L632.65 100.23 L632.65 100.23 L632.77 100.01 L632.89 99.79 L633.02 99.58 L633.14 99.39 L633.27 99.21 L633.39 99.04 L633.52 98.90 L633.64 98.77 L633.77 98.67 L633.89 98.59 L634.02 98.53 L634.14 98.50 L634.20 98.50 L634.27 98.50 L634.39 98.51 L634.52 98.52 L634.64 98.53 L634.77 98.55 L634.89 98.57 L635.02 98.59 L635.14 98.62 L635.27 98.66 L635.39 98.69 L635.52 98.73 L635.64 98.77 L635.77 98.82 L635.89 98.86 L635.95 98.89 L636.02 98.92 L636.14 99.01 L636.27 99.13 L636.39 99.29 L636.52 99.48 L636.64 99.69 L636.77 99.93 L636.89 100.18 L637.02 100.45 L637.14 100.73 L637.27 101.03 L637.39 101.32 L637.52 101.63 L637.64 101.93 L637.70 102.06 L637.77 102.23 L637.89 102.58 L638.02 102.97 L638.14 103.40 L638.27 103.85 L638.39 104.33 L638.52 104.82 L638.64 105.31 L638.77 105.80 L638.89 106.28 L639.02 106.75 L639.14 107.19 L639.27 107.60 L639.39 107.97 L639.45 108.13 L639.52 108.30 L639.64 108.65 L639.77 109.00 L639.89 109.36 L640.02 109.71 L640.14 110.06 L640.27 110.39 L640.39 110.70 L640.52 110.98 L640.64 111.23 L640.77 111.45 L640.89 111.61 L641.02 111.73 L641.14 111.79 L641.20 111.80 L641.27 111.79 L641.39 111.73 L641.52 111.60 L641.64 111.43 L641.76 111.21 L641.89 110.95 L642.01 110.66 L642.14 110.34 L642.26 110.00 L642.39 109.65 L642.51 109.29 L642.64 108.92 L642.76 108.57 L642.89 108.22 L642.93 108.13 L643.01 107.88 L643.14 107.49 L643.26 107.07 L643.39 106.61 L643.51 106.13 L643.64 105.64 L643.76 105.14 L643.89 104.64 L644.01 104.15 L644.14 103.68 L644.26 103.23 L644.39 102.81 L644.51 102.43 L644.64 102.09 L644.65 102.06 L644.76 101.79 L644.89 101.48 L645.01 101.18 L645.14 100.88 L645.26 100.59 L645.39 100.30 L645.51 100.04 L645.64 99.79 L645.76 99.57 L645.89 99.36 L646.01 99.19 L646.14 99.05 L646.26 98.95 L646.38 98.89 L646.39 98.88 L646.51 98.83 L646.64 98.79 L646.76 98.74 L646.89 98.70 L647.01 98.67 L647.14 98.63 L647.26 98.60 L647.39 98.57 L647.51 98.55 L647.64 98.53 L647.76 98.52 L647.89 98.51 L648.01 98.50 L648.10 98.50 L648.14 98.50 L648.26 98.50 L648.39 98.51 L648.51 98.51 L648.64 98.52 L648.76 98.53 L648.89 98.54 L649.01 98.55 L649.14 98.56 L649.26 98.58 L649.39 98.59 L649.51 98.61 L649.64 98.63 L649.76 98.65 L649.89 98.67 L649.92 98.68 L650.01 98.70 L650.14 98.74 L650.26 98.80 L650.39 98.87 L650.51 98.95 L650.63 99.04 L650.76 99.15 L650.88 99.26 L651.01 99.38 L651.13 99.51 L651.26 99.64 L651.38 99.77 L651.51 99.90 L651.63 100.04 L651.75 100.16 L651.76 100.17 L651.88 100.32 L652.01 100.48 L652.13 100.67 L652.26 100.86 L652.38 101.07 L652.51 101.28 L652.63 101.50 L652.76 101.72 L652.88 101.94 L653.01 102.16 L653.13 102.36 L653.26 102.56 L653.38 102.74 L653.51 102.91 L653.58 102.99 L653.63 103.06 L653.76 103.21 L653.88 103.37 L654.01 103.53 L654.13 103.68 L654.26 103.84 L654.38 103.99 L654.51 104.13 L654.63 104.27 L654.76 104.38 L654.88 104.49 L655.01 104.57 L655.13 104.64 L655.26 104.68 L655.38 104.70 L655.40 104.70 L655.51 104.69 L655.63 104.65 L655.76 104.59 L655.88 104.51 L656.01 104.41 L656.13 104.29 L656.26 104.16 L656.38 104.02 L656.51 103.87 L656.63 103.71 L656.76 103.55 L656.88 103.39 L657.01 103.23 L657.13 103.07 L657.20 102.99 L657.26 102.92 L657.38 102.75 L657.51 102.57 L657.63 102.37 L657.76 102.16 L657.88 101.94 L658.01 101.72 L658.13 101.50 L658.26 101.28 L658.38 101.06 L658.51 100.85 L658.63 100.65 L658.76 100.47 L658.88 100.30 L659.00 100.16 L659.01 100.16 L659.13 100.02 L659.25 99.88 L659.38 99.75 L659.50 99.61 L659.63 99.48 L659.75 99.36 L659.88 99.24 L660.00 99.12 L660.13 99.02 L660.25 98.93 L660.38 98.85 L660.50 98.78 L660.63 98.73 L660.75 98.69 L660.80 98.68 L660.88 98.67 L661.00 98.64 L661.13 98.62 L661.25 98.61 L661.38 98.59 L661.50 98.57 L661.63 98.56 L661.75 98.54 L661.88 98.53 L662.00 98.52 L662.13 98.51 L662.25 98.51 L662.38 98.50 L662.50 98.50 L662.60 98.50 L662.63 98.50 L662.75 98.50 L662.88 98.51 L663.00 98.52 L663.13 98.54 L663.25 98.56 L663.38 98.58 L663.50 98.61 L663.63 98.64 L663.75 98.68 L663.88 98.72 L664.00 98.76 L664.13 98.81 L664.25 98.86 L664.38 98.91 L664.50 98.97 L664.63 99.03 L664.75 99.10 L664.88 99.17 L665.00 99.24 L665.13 99.32 L665.25 99.40 L665.38 99.49 L665.50 99.57 L665.63 99.66 L665.75 99.76 L665.88 99.86 L666.00 99.96 L666.13 100.06 L666.25 100.17 L666.38 100.28 L666.50 100.39 L666.63 100.51 L666.75 100.63 L666.88 100.76 L667.00 100.88 L667.13 101.01 L667.25 101.14 L667.38 101.28 L667.50 101.42 L667.63 101.56 L667.75 101.70 L667.88 101.85 L668.00 102.00" fill="none" stroke="#0072BD" stroke-width="2.85" stroke-linejoin="round" stroke-linecap="butt"/>
<path d="M402.50 99.50 L402.62 103.71 L402.75 107.70 L402.87 111.48 L403.00 115.04 L403.12 118.38 L403.25 121.51 L403.37 124.43 L403.50 127.13 L403.62 129.61 L403.75 131.88 L403.87 133.94 L404.00 135.78 L404.12 137.40 L404.25 138.80 L404.37 139.99 L404.50 140.97 L404.62 141.72 L404.75 142.27 L404.87 142.59 L405.00 142.70 L405.00 142.70 L405.12 142.54 L405.25 142.10 L405.37 141.43 L405.50 140.58 L405.62 139.62 L405.75 138.59 L405.85 137.75 L405.87 137.54 L406.00 136.28 L406.12 134.72 L406.25 132.95 L406.37 131.01 L406.50 128.97 L406.62 126.89 L406.70 125.64 L406.75 124.81 L406.87 122.48 L407.00 119.95 L407.12 117.33 L407.25 114.73 L407.37 112.26 L407.50 110.03 L407.55 109.23 L407.62 108.05 L407.75 105.95 L407.87 103.84 L408.00 101.88 L408.12 100.23 L408.25 99.06 L408.37 98.52 L408.40 98.50 L408.50 98.56 L408.62 98.80 L408.75 99.20 L408.87 99.73 L409.00 100.37 L409.12 101.09 L409.25 101.86 L409.37 102.67 L409.42 103.00 L409.50 103.54 L409.62 104.68 L409.75 106.06 L409.87 107.64 L410.00 109.35 L410.12 111.13 L410.25 112.93 L410.37 114.70 L410.45 115.73 L410.50 116.39 L410.62 118.21 L410.75 120.15 L410.87 122.14 L411.00 124.11 L411.12 126.01 L411.25 127.76 L411.37 129.30 L411.48 130.35 L411.50 130.58 L411.62 131.78 L411.75 132.99 L411.87 134.15 L412.00 135.22 L412.12 136.14 L412.25 136.86 L412.37 137.33 L412.50 137.50 L412.50 137.50 L412.62 137.36 L412.75 136.97 L412.87 136.37 L413.00 135.58 L413.12 134.66 L413.25 133.64 L413.37 132.56 L413.50 131.46 L413.62 130.37 L413.62 130.35 L413.75 129.18 L413.87 127.76 L414.00 126.17 L414.12 124.45 L414.25 122.66 L414.37 120.85 L414.50 119.06 L414.62 117.34 L414.75 115.75 L414.75 115.73 L414.87 114.19 L415.00 112.57 L415.12 110.93 L415.25 109.31 L415.37 107.75 L415.50 106.30 L415.62 105.00 L415.75 103.89 L415.87 103.01 L415.88 103.00 L416.00 102.27 L416.12 101.55 L416.25 100.86 L416.37 100.22 L416.50 99.66 L416.62 99.18 L416.75 98.82 L416.87 98.58 L417.00 98.50 L417.00 98.50 L417.12 98.55 L417.25 98.68 L417.37 98.89 L417.50 99.18 L417.62 99.52 L417.75 99.91 L417.87 100.34 L418.00 100.80 L418.07 101.10 L418.12 101.30 L418.25 102.03 L418.37 102.98 L418.50 104.13 L418.62 105.42 L418.75 106.82 L418.87 108.27 L419.00 109.75 L419.12 111.19 L419.15 111.50 L419.25 112.66 L419.37 114.32 L419.50 116.11 L419.62 117.97 L419.75 119.82 L419.87 121.62 L420.00 123.30 L420.12 124.79 L420.23 125.83 L420.25 126.04 L420.37 127.23 L420.50 128.44 L420.62 129.62 L420.75 130.73 L420.87 131.70 L421.00 132.50 L421.12 133.07 L421.25 133.37 L421.30 133.40 L421.37 133.35 L421.50 133.03 L421.62 132.47 L421.75 131.70 L421.87 130.78 L422.00 129.73 L422.12 128.60 L422.25 127.45 L422.37 126.30 L422.43 125.83 L422.50 125.15 L422.62 123.79 L422.75 122.24 L422.87 120.55 L423.00 118.80 L423.12 117.01 L423.25 115.27 L423.37 113.60 L423.50 112.09 L423.55 111.50 L423.62 110.72 L423.75 109.32 L423.87 107.92 L424.00 106.53 L424.12 105.21 L424.25 104.00 L424.37 102.91 L424.50 102.01 L424.62 101.32 L424.68 101.10 L424.75 100.83 L424.87 100.39 L425.00 99.98 L425.12 99.59 L425.25 99.26 L425.37 98.97 L425.50 98.74 L425.62 98.59 L425.75 98.51 L425.80 98.50 L425.87 98.51 L426.00 98.60 L426.12 98.75 L426.25 98.97 L426.37 99.24 L426.50 99.56 L426.62 99.92 L426.75 100.31 L426.87 100.72 L426.93 100.91 L427.00 101.20 L427.12 101.88 L427.25 102.77 L427.37 103.83 L427.50 105.01 L427.62 106.29 L427.75 107.63 L427.87 108.99 L428.00 110.34 L428.05 110.90 L428.12 111.68 L428.25 113.19 L428.37 114.83 L428.50 116.56 L428.62 118.32 L428.75 120.05 L428.87 121.70 L429.00 123.22 L429.12 124.54 L429.18 125.03 L429.25 125.67 L429.37 126.81 L429.50 127.97 L429.62 129.08 L429.75 130.12 L429.87 131.03 L430.00 131.77 L430.12 132.30 L430.25 132.57 L430.30 132.60 L430.37 132.55 L430.50 132.24 L430.62 131.68 L430.75 130.91 L430.87 129.98 L431.00 128.93 L431.12 127.81 L431.25 126.65 L431.37 125.51 L431.43 125.03 L431.50 124.37 L431.62 123.02 L431.75 121.48 L431.87 119.82 L432.00 118.08 L432.12 116.32 L432.25 114.60 L432.37 112.97 L432.50 111.48 L432.55 110.90 L432.62 110.15 L432.75 108.80 L432.87 107.45 L433.00 106.11 L433.12 104.84 L433.25 103.67 L433.37 102.64 L433.50 101.77 L433.62 101.12 L433.68 100.91 L433.75 100.67 L433.87 100.25 L434.00 99.87 L434.12 99.51 L434.25 99.20 L434.37 98.93 L434.50 98.73 L434.62 98.58 L434.75 98.51 L434.80 98.50 L434.87 98.52 L435.00 98.62 L435.12 98.82 L435.25 99.10 L435.37 99.45 L435.50 99.86 L435.62 100.32 L435.75 100.81 L435.87 101.34 L435.95 101.68 L436.00 101.90 L436.12 102.66 L436.25 103.66 L436.37 104.83 L436.50 106.16 L436.62 107.58 L436.75 109.07 L436.87 110.59 L437.00 112.09 L437.10 113.31 L437.12 113.54 L437.25 115.07 L437.37 116.75 L437.50 118.52 L437.62 120.33 L437.75 122.12 L437.87 123.84 L438.00 125.46 L438.12 126.90 L438.25 128.12 L438.25 128.17 L438.37 129.23 L438.50 130.37 L438.62 131.48 L438.74 132.55 L438.87 133.52 L438.99 134.36 L439.12 135.03 L439.24 135.48 L439.37 135.69 L439.40 135.70 L439.49 135.61 L439.62 135.24 L439.74 134.62 L439.87 133.80 L439.99 132.82 L440.12 131.72 L440.24 130.56 L440.37 129.38 L440.49 128.21 L440.50 128.17 L440.62 126.95 L440.74 125.44 L440.87 123.76 L440.99 121.94 L441.12 120.07 L441.24 118.18 L441.37 116.35 L441.49 114.63 L441.60 113.31 L441.62 113.07 L441.74 111.54 L441.87 109.96 L441.99 108.38 L442.12 106.85 L442.24 105.41 L442.37 104.11 L442.49 102.99 L442.62 102.11 L442.70 101.68 L442.74 101.48 L442.87 100.93 L442.99 100.40 L443.12 99.92 L443.24 99.48 L443.37 99.12 L443.49 98.82 L443.62 98.62 L443.74 98.51 L443.80 98.50 L443.87 98.58 L443.99 99.11 L444.12 100.06 L444.24 101.35 L444.37 102.91 L444.49 104.63 L444.62 106.45 L444.74 108.29 L444.87 110.06 L444.95 111.13 L444.99 111.71 L445.12 113.47 L445.24 115.39 L445.37 117.41 L445.49 119.48 L445.62 121.56 L445.74 123.58 L445.87 125.50 L445.99 127.27 L446.10 128.62 L446.12 128.85 L446.24 130.33 L446.37 131.80 L446.49 133.23 L446.62 134.60 L446.74 135.89 L446.87 137.08 L446.99 138.15 L447.12 139.07 L447.24 139.84 L447.25 139.87 L447.37 140.51 L447.49 141.17 L447.62 141.81 L447.74 142.40 L447.87 142.93 L447.99 143.39 L448.12 143.74 L448.24 143.99 L448.37 144.10 L448.40 144.10 L448.49 144.03 L448.62 143.75 L448.74 143.28 L448.87 142.65 L448.99 141.92 L449.12 141.11 L449.24 140.26 L449.30 139.87 L449.37 139.36 L449.49 138.22 L449.62 136.84 L449.74 135.28 L449.87 133.56 L449.99 131.74 L450.12 129.86 L450.20 128.62 L450.24 127.94 L450.37 125.74 L450.49 123.28 L450.62 120.67 L450.74 118.01 L450.87 115.42 L450.99 112.99 L451.10 111.13 L451.12 110.83 L451.24 108.62 L451.37 106.28 L451.49 103.97 L451.62 101.87 L451.74 100.14 L451.87 98.96 L451.99 98.50 L452.00 98.50 L452.12 98.58 L452.24 98.84 L452.37 99.27 L452.49 99.86 L452.62 100.60 L452.74 101.48 L452.87 102.49 L452.99 103.63 L453.12 104.87 L453.24 106.23 L453.37 107.67 L453.49 109.20 L453.62 110.81 L453.70 111.90 L453.74 112.59 L453.87 115.67 L453.99 120.00 L454.12 125.11 L454.24 130.51 L454.37 135.74 L454.49 140.32 L454.62 143.77 L454.70 145.20 L454.74 145.73 L454.87 147.16 L454.99 148.42 L455.12 149.52 L455.24 150.46 L455.37 151.24 L455.49 151.87 L455.60 152.30 L455.62 152.36 L455.74 152.77 L455.87 153.14 L455.99 153.47 L456.12 153.75 L456.24 154.00 L456.37 154.21 L456.49 154.38 L456.60 154.50 L456.62 154.52 L456.74 154.63 L456.87 154.74 L456.99 154.84 L457.12 154.93 L457.24 155.00 L457.37 155.06 L457.49 155.09 L457.60 155.10 L457.62 155.10 L457.74 155.10 L457.87 155.10 L457.99 155.10 L458.12 155.10 L458.24 155.10 L458.37 155.10 L458.49 155.10 L458.62 155.10 L458.74 155.10 L458.87 155.10 L458.99 155.10 L459.12 155.10 L459.24 155.10 L459.37 155.10 L459.49 155.10 L459.62 155.10 L459.74 155.10 L459.87 155.10 L459.99 155.10 L460.12 155.10 L460.24 155.10 L460.37 155.10 L460.49 155.10 L460.62 155.10 L460.74 155.10 L460.87 155.10 L460.99 155.10 L461.12 155.10 L461.24 155.10 L461.37 155.10 L461.49 155.10 L461.62 155.10 L461.74 155.10 L461.87 155.10 L461.99 155.10 L462.12 155.10 L462.24 155.10 L462.37 155.10 L462.49 155.10 L462.62 155.10 L462.74 155.10 L462.87 155.10 L462.90 155.10 L462.99 155.08 L463.12 154.98 L463.24 154.82 L463.37 154.58 L463.49 154.27 L463.55 154.10 L463.62 153.79 L463.74 152.55 L463.87 150.30 L463.90 149.50 L463.99 143.39 L464.10 128.50 L464.12 124.43 L464.20 98.50 L464.24 108.05 L464.30 128.50 L464.37 138.41 L464.49 149.25 L464.50 149.50 L464.62 151.91 L464.74 153.48 L464.85 154.10 L464.87 154.15 L464.99 154.48 L465.12 154.74 L465.24 154.94 L465.37 155.06 L465.49 155.10 L465.50 155.10 L465.62 155.10 L465.74 155.10 L465.87 155.10 L465.99 155.10 L466.12 155.10 L466.24 155.10 L466.37 155.10 L466.49 155.10 L466.62 155.10 L466.74 155.10 L466.87 155.10 L466.99 155.10 L467.12 155.10 L467.24 155.10 L467.37 155.10 L467.49 155.10 L467.62 155.10 L467.74 155.10 L467.87 155.10 L467.99 155.10 L468.12 155.10 L468.24 155.10 L468.37 155.10 L468.49 155.10 L468.62 155.10 L468.74 155.10 L468.87 155.10 L468.99 155.10 L469.12 155.10 L469.24 155.10 L469.37 155.10 L469.49 155.10 L469.62 155.10 L469.74 155.10 L469.87 155.10 L469.99 155.10 L470.12 155.10 L470.24 155.10 L470.37 155.10 L470.49 155.10 L470.62 155.10 L470.74 155.10 L470.87 155.10 L470.99 155.10 L471.12 155.10 L471.24 155.10 L471.37 155.10 L471.49 155.10 L471.62 155.10 L471.74 155.10 L471.87 155.10 L471.99 155.10 L472.12 155.10 L472.24 155.10 L472.37 155.10 L472.49 155.10 L472.62 155.10 L472.74 155.10 L472.87 155.10 L472.99 155.10 L473.12 155.10 L473.24 155.10 L473.37 155.10 L473.49 155.10 L473.62 155.10 L473.74 155.10 L473.87 155.10 L473.99 155.10 L474.12 155.10 L474.24 155.10 L474.37 155.10 L474.49 155.10 L474.62 155.10 L474.74 155.10 L474.87 155.10 L474.99 155.10 L475.11 155.10 L475.24 155.10 L475.36 155.10 L475.49 155.10 L475.61 155.10 L475.74 155.10 L475.80 155.10 L475.86 155.10 L475.99 155.07 L476.11 155.02 L476.24 154.96 L476.36 154.87 L476.49 154.78 L476.61 154.67 L476.74 154.56 L476.80 154.50 L476.86 154.43 L476.99 154.28 L477.11 154.08 L477.24 153.84 L477.36 153.57 L477.49 153.25 L477.61 152.90 L477.74 152.51 L477.80 152.30 L477.86 152.06 L477.99 151.47 L478.11 150.74 L478.24 149.86 L478.36 148.82 L478.49 147.61 L478.61 146.24 L478.70 145.20 L478.74 144.61 L478.86 141.63 L478.99 137.34 L479.11 132.24 L479.24 126.81 L479.36 121.54 L479.49 116.91 L479.61 113.40 L479.70 111.90 L479.74 111.41 L479.86 109.91 L479.99 108.47 L480.11 107.11 L480.24 105.82 L480.36 104.63 L480.49 103.52 L480.61 102.51 L480.74 101.60 L480.86 100.79 L480.99 100.10 L481.11 99.53 L481.24 99.07 L481.36 98.75 L481.49 98.56 L481.60 98.50 L481.61 98.50 L481.74 98.58 L481.86 98.76 L481.99 99.04 L482.11 99.40 L482.24 99.81 L482.35 100.23 L482.36 100.28 L482.49 101.05 L482.61 102.23 L482.74 103.71 L482.86 105.38 L482.99 107.14 L483.10 108.71 L483.11 108.90 L483.24 110.91 L483.36 113.25 L483.49 115.74 L483.61 118.18 L483.74 120.39 L483.85 122.02 L483.86 122.19 L483.99 123.87 L484.11 125.56 L484.24 127.12 L484.36 128.39 L484.49 129.23 L484.60 129.50 L484.61 129.50 L484.74 129.31 L484.86 128.86 L484.99 128.19 L485.11 127.33 L485.24 126.34 L485.36 125.26 L485.49 124.13 L485.61 122.99 L485.73 122.02 L485.74 121.90 L485.86 120.69 L485.99 119.29 L486.11 117.74 L486.24 116.11 L486.36 114.45 L486.49 112.81 L486.61 111.25 L486.74 109.82 L486.85 108.71 L486.86 108.58 L486.99 107.41 L487.11 106.23 L487.24 105.06 L487.36 103.95 L487.49 102.91 L487.61 101.99 L487.74 101.21 L487.86 100.60 L487.98 100.23 L487.99 100.19 L488.11 99.88 L488.24 99.59 L488.36 99.33 L488.49 99.09 L488.61 98.89 L488.74 98.72 L488.86 98.60 L488.99 98.52 L489.10 98.50 L489.11 98.50 L489.24 98.51 L489.36 98.52 L489.49 98.54 L489.61 98.58 L489.74 98.61 L489.86 98.66 L489.99 98.71 L490.11 98.77 L490.24 98.84 L490.33 98.88 L490.36 98.91 L490.49 99.04 L490.61 99.24 L490.74 99.51 L490.86 99.82 L490.99 100.18 L491.11 100.56 L491.24 100.97 L491.36 101.40 L491.49 101.83 L491.55 102.04 L491.61 102.26 L491.74 102.78 L491.86 103.38 L491.99 104.03 L492.11 104.72 L492.24 105.42 L492.36 106.11 L492.49 106.77 L492.61 107.38 L492.74 107.91 L492.77 108.06 L492.86 108.39 L492.99 108.89 L493.11 109.39 L493.24 109.89 L493.36 110.36 L493.49 110.78 L493.61 111.15 L493.74 111.43 L493.86 111.62 L493.99 111.70 L494.00 111.70 L494.11 111.65 L494.24 111.49 L494.36 111.24 L494.49 110.92 L494.61 110.53 L494.74 110.09 L494.86 109.63 L494.99 109.15 L495.11 108.67 L495.24 108.21 L495.25 108.17 L495.36 107.74 L495.49 107.19 L495.61 106.58 L495.74 105.93 L495.86 105.27 L495.99 104.61 L496.11 103.97 L496.24 103.37 L496.36 102.83 L496.49 102.37 L496.50 102.33 L496.61 101.97 L496.74 101.56 L496.86 101.16 L496.99 100.78 L497.11 100.42 L497.24 100.09 L497.36 99.80 L497.49 99.57 L497.61 99.39 L497.74 99.28 L497.75 99.27 L497.86 99.21 L497.99 99.15 L498.11 99.10 L498.24 99.05 L498.36 99.01 L498.49 98.97 L498.61 98.94 L498.74 98.92 L498.86 98.91 L498.99 98.90 L499.00 98.90 L499.11 98.90 L499.24 98.91 L499.36 98.92 L499.49 98.93 L499.61 98.94 L499.74 98.96 L499.86 98.98 L499.99 99.01 L500.11 99.03 L500.24 99.06 L500.27 99.07 L500.36 99.10 L500.49 99.16 L500.61 99.26 L500.74 99.37 L500.86 99.51 L500.99 99.66 L501.11 99.83 L501.24 100.00 L501.36 100.18 L501.49 100.36 L501.55 100.45 L501.61 100.55 L501.74 100.76 L501.86 101.01 L501.99 101.29 L502.11 101.58 L502.24 101.87 L502.36 102.16 L502.49 102.45 L502.61 102.71 L502.74 102.95 L502.83 103.10 L502.86 103.16 L502.99 103.36 L503.11 103.57 L503.24 103.79 L503.36 103.99 L503.49 104.18 L503.61 104.36 L503.74 104.50 L503.86 104.61 L503.99 104.68 L504.10 104.70 L504.11 104.70 L504.24 104.67 L504.36 104.60 L504.49 104.48 L504.61 104.34 L504.74 104.17 L504.86 103.98 L504.99 103.78 L505.11 103.58 L505.24 103.37 L505.36 103.18 L505.38 103.15 L505.49 102.97 L505.61 102.74 L505.74 102.48 L505.86 102.20 L505.99 101.92 L506.11 101.63 L506.24 101.36 L506.36 101.10 L506.49 100.86 L506.61 100.66 L506.65 100.60 L506.74 100.48 L506.86 100.31 L506.99 100.14 L507.11 99.97 L507.24 99.81 L507.36 99.67 L507.49 99.54 L507.61 99.43 L507.74 99.34 L507.86 99.28 L507.93 99.26 L507.99 99.25 L508.11 99.22 L508.24 99.20 L508.36 99.18 L508.49 99.16 L508.61 99.14 L508.74 99.12 L508.86 99.11 L508.99 99.11 L509.11 99.10 L509.20 99.10 L509.24 99.10 L509.36 99.10 L509.49 99.11 L509.61 99.11 L509.74 99.12 L509.86 99.13 L509.99 99.14 L510.11 99.15 L510.24 99.16 L510.36 99.18 L510.49 99.19 L510.55 99.20 L510.61 99.21 L510.74 99.24 L510.86 99.29 L510.99 99.35 L511.11 99.42 L511.23 99.50 L511.36 99.59 L511.48 99.68 L511.61 99.78 L511.73 99.88 L511.86 99.98 L511.90 100.01 L511.98 100.08 L512.11 100.21 L512.23 100.35 L512.36 100.50 L512.48 100.66 L512.61 100.82 L512.73 100.98 L512.86 101.14 L512.98 101.29 L513.11 101.43 L513.23 101.55 L513.25 101.56 L513.36 101.66 L513.48 101.78 L513.61 101.89 L513.73 102.01 L513.86 102.12 L513.98 102.22 L514.11 102.32 L514.23 102.39 L514.36 102.45 L514.48 102.49 L514.60 102.50 L514.61 102.50 L514.73 102.49 L514.86 102.48 L514.98 102.46 L515.11 102.43 L515.23 102.39 L515.36 102.34 L515.48 102.29 L515.61 102.23 L515.73 102.17 L515.86 102.10 L515.98 102.03 L516.11 101.95 L516.23 101.86 L516.36 101.78 L516.48 101.68 L516.61 101.59 L516.73 101.50 L516.86 101.40 L516.98 101.30 L517.11 101.20 L517.23 101.09 L517.36 100.99 L517.48 100.89 L517.61 100.79 L517.73 100.69 L517.86 100.59 L517.98 100.49 L518.11 100.39 L518.23 100.30 L518.36 100.21 L518.48 100.12 L518.61 100.04 L518.73 99.96 L518.86 99.89 L518.98 99.82 L519.11 99.76 L519.23 99.70 L519.36 99.65 L519.48 99.60 L519.61 99.57 L519.73 99.54 L519.86 99.52 L519.98 99.50 L520.10 99.50 L520.11 99.50 L520.23 99.50 L520.36 99.51 L520.48 99.53 L520.61 99.55 L520.73 99.58 L520.86 99.62 L520.98 99.66 L521.11 99.70 L521.23 99.75 L521.36 99.80 L521.48 99.86 L521.61 99.92 L521.73 99.98 L521.86 100.05 L521.98 100.12 L522.11 100.19 L522.23 100.26 L522.36 100.33 L522.48 100.41 L522.61 100.48 L522.73 100.56 L522.86 100.64 L522.98 100.71 L523.11 100.79 L523.23 100.86 L523.36 100.94 L523.48 101.01 L523.61 101.08 L523.73 101.15 L523.86 101.21 L523.98 101.28 L524.11 101.34 L524.23 101.39 L524.36 101.45 L524.48 101.50 L524.61 101.54 L524.73 101.58 L524.86 101.61 L524.98 101.64 L525.11 101.67 L525.23 101.68 L525.36 101.70 L525.48 101.70 L525.50 101.70 L525.61 101.70 L525.73 101.69 L525.86 101.68 L525.98 101.66 L526.11 101.63 L526.23 101.60 L526.36 101.57 L526.48 101.53 L526.61 101.49 L526.73 101.44 L526.86 101.39 L526.98 101.34 L527.11 101.29 L527.23 101.23 L527.36 101.17 L527.48 101.11 L527.61 101.04 L527.73 100.98 L527.86 100.91 L527.98 100.85 L528.11 100.78 L528.23 100.71 L528.36 100.64 L528.48 100.57 L528.61 100.51 L528.73 100.44 L528.86 100.37 L528.98 100.31 L529.11 100.25 L529.23 100.19 L529.36 100.13 L529.48 100.07 L529.61 100.02 L529.73 99.97 L529.86 99.92 L529.98 99.88 L530.11 99.84 L530.23 99.81 L530.36 99.78 L530.48 99.75 L530.61 99.73 L530.73 99.71 L530.86 99.70 L530.98 99.70 L531.00 99.70 L531.11 99.70 L531.23 99.71 L531.36 99.73 L531.48 99.75 L531.61 99.77 L531.73 99.80 L531.86 99.84 L531.98 99.88 L532.11 99.93 L532.23 99.97 L532.36 100.03 L532.48 100.08 L532.61 100.14 L532.73 100.20 L532.86 100.26 L532.98 100.33 L533.11 100.40 L533.23 100.47 L533.36 100.53 L533.48 100.60 L533.61 100.68 L533.73 100.75 L533.86 100.82 L533.98 100.89 L534.11 100.96 L534.23 101.02 L534.36 101.09 L534.48 101.16 L534.61 101.22 L534.73 101.28 L534.86 101.34 L534.98 101.39 L535.11 101.44 L535.23 101.49 L535.36 101.53 L535.48 101.57 L535.61 101.61 L535.73 101.64 L535.86 101.66 L535.98 101.68 L536.11 101.69 L536.23 101.70 L536.30 101.70 L536.36 101.70 L536.48 101.69 L536.61 101.69 L536.73 101.67 L536.86 101.65 L536.98 101.63 L537.11 101.61 L537.23 101.58 L537.36 101.55 L537.48 101.51 L537.61 101.47 L537.73 101.43 L537.86 101.39 L537.98 101.35 L538.11 101.30 L538.23 101.26 L538.36 101.21 L538.48 101.16 L538.61 101.12 L538.73 101.07 L538.86 101.02 L538.98 100.97 L539.11 100.93 L539.23 100.88 L539.36 100.84 L539.48 100.79 L539.61 100.75 L539.73 100.72 L539.86 100.68 L539.98 100.64 L540.11 100.61 L540.23 100.59 L540.36 100.56 L540.48 100.54 L540.61 100.52 L540.73 100.51 L540.86 100.50 L540.98 100.50 L541.00 100.50 L541.11 100.50 L541.23 100.51 L541.36 100.52 L541.48 100.53 L541.61 100.55 L541.73 100.57 L541.86 100.59 L541.98 100.62 L542.11 100.65 L542.23 100.68 L542.36 100.72 L542.48 100.75 L542.61 100.79 L542.73 100.83 L542.86 100.87 L542.98 100.92 L543.11 100.96 L543.23 101.00 L543.36 101.05 L543.48 101.09 L543.61 101.14 L543.73 101.18 L543.86 101.23 L543.98 101.27 L544.11 101.31 L544.23 101.36 L544.36 101.40 L544.48 101.43 L544.61 101.47 L544.73 101.51 L544.86 101.54 L544.98 101.57 L545.11 101.60 L545.23 101.62 L545.36 101.65 L545.48 101.66 L545.61 101.68 L545.73 101.69 L545.86 101.70 L545.98 101.70 L546.00 101.70 L546.11 101.70 L546.23 101.70 L546.36 101.69 L546.48 101.69 L546.61 101.68 L546.73 101.67 L546.86 101.66 L546.98 101.64 L547.11 101.63 L547.23 101.61 L547.36 101.60 L547.48 101.58 L547.60 101.56 L547.73 101.54 L547.85 101.52 L547.98 101.50 L548.10 101.47 L548.23 101.45 L548.35 101.43 L548.48 101.40 L548.60 101.38 L548.73 101.35 L548.85 101.33 L548.98 101.30 L549.10 101.28 L549.23 101.25 L549.35 101.23 L549.48 101.20 L549.60 101.18 L549.73 101.16 L549.85 101.13 L549.98 101.11 L550.10 101.09 L550.23 101.07 L550.35 101.05 L550.48 101.03 L550.60 101.01 L550.73 100.99 L550.85 100.98 L550.98 100.96 L551.10 100.95 L551.23 100.94 L551.35 100.93 L551.48 100.92 L551.60 100.91 L551.73 100.90 L551.85 100.90 L551.98 100.90 L552.00 100.90 L552.10 100.90 L552.23 100.90 L552.35 100.91 L552.48 100.92 L552.60 100.93 L552.73 100.94 L552.85 100.96 L552.98 100.97 L553.10 100.99 L553.23 101.01 L553.35 101.03 L553.48 101.05 L553.60 101.08 L553.73 101.10 L553.85 101.13 L553.98 101.15 L554.10 101.18 L554.23 101.21 L554.35 101.24 L554.48 101.27 L554.60 101.30 L554.73 101.33 L554.85 101.36 L554.98 101.39 L555.10 101.43 L555.23 101.46 L555.35 101.49 L555.48 101.52 L555.60 101.55 L555.73 101.58 L555.85 101.61 L555.98 101.64 L556.10 101.66 L556.23 101.69 L556.35 101.72 L556.48 101.74 L556.60 101.76 L556.73 101.78 L556.85 101.80 L556.98 101.82 L557.10 101.84 L557.23 101.85 L557.35 101.87 L557.48 101.88 L557.60 101.89 L557.73 101.89 L557.85 101.90 L557.98 101.90 L558.00 101.90 L558.10 101.90 L558.23 101.90 L558.35 101.90 L558.48 101.89 L558.60 101.89 L558.73 101.88 L558.85 101.88 L558.98 101.87 L559.10 101.86 L559.23 101.85 L559.35 101.84 L559.48 101.83 L559.60 101.82 L559.73 101.81 L559.85 101.80 L559.98 101.78 L560.10 101.77 L560.23 101.76 L560.35 101.74 L560.48 101.73 L560.60 101.71 L560.73 101.70 L560.85 101.68 L560.98 101.67 L561.10 101.65 L561.23 101.63 L561.35 101.62 L561.48 101.60 L561.60 101.59 L561.73 101.57 L561.85 101.55 L561.98 101.54 L562.10 101.52 L562.23 101.51 L562.35 101.49 L562.48 101.48 L562.60 101.46 L562.73 101.45 L562.85 101.43 L562.98 101.42 L563.10 101.41 L563.23 101.40 L563.35 101.38 L563.48 101.37 L563.60 101.36 L563.73 101.35 L563.85 101.34 L563.98 101.33 L564.10 101.33 L564.23 101.32 L564.35 101.31 L564.48 101.31 L564.60 101.31 L564.73 101.30 L564.85 101.30 L564.98 101.30 L565.00 101.30 L565.10 101.30 L565.23 101.30 L565.35 101.30 L565.48 101.30 L565.60 101.30 L565.73 101.31 L565.85 101.31 L565.98 101.31 L566.10 101.31 L566.23 101.32 L566.35 101.32 L566.48 101.33 L566.60 101.33 L566.73 101.34 L566.85 101.34 L566.98 101.35 L567.10 101.35 L567.23 101.36 L567.35 101.37 L567.48 101.37 L567.60 101.38 L567.73 101.39 L567.85 101.40 L567.98 101.41 L568.10 101.42 L568.23 101.43 L568.35 101.44 L568.48 101.45 L568.60 101.46 L568.73 101.47 L568.85 101.48 L568.98 101.49 L569.10 101.50 L569.23 101.52 L569.35 101.53 L569.48 101.54 L569.60 101.56 L569.73 101.57 L569.85 101.59 L569.98 101.60 L570.10 101.62 L570.23 101.63 L570.35 101.65 L570.48 101.67 L570.60 101.68 L570.73 101.70 L570.85 101.72 L570.98 101.74 L571.10 101.75 L571.23 101.77 L571.35 101.79 L571.48 101.81 L571.60 101.83 L571.73 101.85 L571.85 101.87 L571.98 101.90 L572.00 101.90 L572.10 101.94 L572.23 102.04 L572.35 102.20 L572.48 102.41 L572.60 102.68 L572.73 103.00 L572.85 103.36 L572.98 103.77 L573.10 104.22 L573.23 104.71 L573.35 105.23 L573.48 105.79 L573.60 106.37 L573.73 106.99 L573.85 107.63 L573.98 108.29 L574.10 108.98 L574.23 109.68 L574.35 110.39 L574.48 111.12 L574.60 111.85 L574.73 112.59 L574.85 113.33 L574.98 114.08 L575.10 114.82 L575.23 115.56 L575.35 116.29 L575.48 117.01 L575.60 117.71 L575.73 118.40 L575.85 119.08 L575.98 119.73 L576.10 120.36 L576.23 120.96 L576.35 121.53 L576.48 122.07 L576.60 122.57 L576.73 123.04 L576.85 123.46 L576.98 123.85 L577.10 124.18 L577.23 124.47 L577.35 124.71 L577.48 124.89 L577.60 125.02 L577.73 125.09 L577.80 125.10 L577.85 125.08 L577.98 124.93 L578.10 124.61 L578.23 124.16 L578.35 123.59 L578.48 122.93 L578.60 122.19 L578.73 121.40 L578.85 120.57 L578.98 119.73 L579.10 118.90 L579.23 118.10 L579.25 117.95 L579.35 117.28 L579.48 116.35 L579.60 115.31 L579.73 114.21 L579.85 113.06 L579.98 111.89 L580.10 110.72 L580.23 109.58 L580.35 108.50 L580.48 107.49 L580.60 106.59 L580.70 105.96 L580.73 105.81 L580.85 105.08 L580.98 104.34 L581.10 103.60 L581.23 102.89 L581.35 102.22 L581.48 101.58 L581.60 101.00 L581.73 100.49 L581.85 100.06 L581.98 99.72 L582.10 99.48 L582.15 99.42 L582.23 99.33 L582.35 99.20 L582.48 99.08 L582.60 98.97 L582.73 98.87 L582.85 98.77 L582.98 98.69 L583.10 98.63 L583.23 98.57 L583.35 98.53 L583.48 98.51 L583.60 98.50" fill="none" stroke="#D95319" stroke-width="2.85" stroke-linejoin="round" stroke-linecap="butt"/>
<text x="404.30" y="152.00" font-size="16.00" font-weight="bold" fill="#000">(d)</text>
<text transform="translate(49.00 261.20) scale(0.930 1)" font-size="14.50" fill="#262626" text-anchor="middle">700</text>
<path d="M93.40 242.30 v-4.03 M93.40 185.70 v4.03" stroke="#262626" stroke-width="2.85" fill="none"/>
<text transform="translate(93.40 261.20) scale(0.930 1)" font-size="14.50" fill="#262626" text-anchor="middle">800</text>
<path d="M137.80 242.30 v-4.03 M137.80 185.70 v4.03" stroke="#262626" stroke-width="2.85" fill="none"/>
<text transform="translate(137.80 261.20) scale(0.930 1)" font-size="14.50" fill="#262626" text-anchor="middle">900</text>
<path d="M182.20 242.30 v-4.03 M182.20 185.70 v4.03" stroke="#262626" stroke-width="2.85" fill="none"/>
<text transform="translate(182.20 261.20) scale(0.930 1)" font-size="14.50" fill="#262626" text-anchor="middle">1000</text>
<path d="M226.60 242.30 v-4.03 M226.60 185.70 v4.03" stroke="#262626" stroke-width="2.85" fill="none"/>
<text transform="translate(226.60 261.20) scale(0.930 1)" font-size="14.50" fill="#262626" text-anchor="middle">1100</text>
<path d="M271.00 242.30 v-4.03 M271.00 185.70 v4.03" stroke="#262626" stroke-width="2.85" fill="none"/>
<text transform="translate(271.00 261.20) scale(0.930 1)" font-size="14.50" fill="#262626" text-anchor="middle">1200</text>
<text transform="translate(315.40 261.20) scale(0.930 1)" font-size="14.50" fill="#262626" text-anchor="middle">1300</text>
<path d="M49.00 214.00 h4.03 M315.40 214.00 h-4.03" stroke="#262626" stroke-width="2.85" fill="none"/>
<text transform="translate(44.40 191.30) scale(0.930 1)" font-size="14.50" fill="#262626" text-anchor="end">100</text>
<text transform="translate(44.40 219.60) scale(0.930 1)" font-size="14.50" fill="#262626" text-anchor="end">50</text>
<text transform="translate(44.40 247.90) scale(0.930 1)" font-size="14.50" fill="#262626" text-anchor="end">0</text>
<rect x="49.00" y="185.70" width="266.40" height="56.60" fill="none" stroke="#262626" stroke-width="2.85"/>
<path d="M182.00 212.70 L182.12 214.12 L182.25 215.44 L182.37 216.65 L182.50 217.76 L182.62 218.78 L182.75 219.71 L182.87 220.55 L183.00 221.30 L183.12 221.97 L183.25 222.57 L183.37 223.10 L183.50 223.55 L183.62 223.94 L183.75 224.28 L183.87 224.55 L184.00 224.77 L184.12 224.94 L184.25 225.06 L184.37 225.15 L184.50 225.19 L184.60 225.20 L184.62 225.20 L184.75 225.04 L184.87 224.69 L185.00 224.17 L185.12 223.51 L185.25 222.73 L185.37 221.86 L185.50 220.94 L185.62 219.97 L185.75 219.00 L185.85 218.23 L185.87 218.05 L186.00 216.97 L186.12 215.71 L186.25 214.32 L186.37 212.82 L186.50 211.25 L186.62 209.64 L186.75 208.03 L186.87 206.46 L187.00 204.95 L187.10 203.80 L187.12 203.54 L187.25 202.11 L187.37 200.64 L187.50 199.14 L187.62 197.65 L187.75 196.19 L187.87 194.81 L188.00 193.53 L188.12 192.38 L188.25 191.40 L188.35 190.74 L188.37 190.60 L188.50 189.87 L188.62 189.15 L188.75 188.45 L188.87 187.80 L189.00 187.20 L189.12 186.68 L189.25 186.26 L189.37 185.94 L189.50 185.75 L189.60 185.70 L189.62 185.70 L189.75 185.85 L189.87 186.17 L190.00 186.67 L190.12 187.31 L190.25 188.07 L190.37 188.92 L190.50 189.86 L190.62 190.84 L190.75 191.86 L190.87 192.88 L191.00 193.89 L191.12 194.86 L191.12 194.87 L191.25 195.86 L191.37 196.98 L191.50 198.18 L191.62 199.46 L191.75 200.79 L191.87 202.16 L192.00 203.55 L192.12 204.94 L192.25 206.32 L192.37 207.65 L192.50 208.93 L192.62 210.15 L192.65 210.40 L192.75 211.31 L192.87 212.49 L193.00 213.68 L193.12 214.88 L193.25 216.06 L193.37 217.22 L193.50 218.34 L193.62 219.40 L193.75 220.41 L193.87 221.33 L194.00 222.17 L194.12 222.91 L194.17 223.18 L194.25 223.55 L194.37 224.19 L194.50 224.83 L194.62 225.46 L194.75 226.06 L194.87 226.63 L195.00 227.15 L195.12 227.61 L195.25 228.01 L195.37 228.32 L195.50 228.55 L195.62 228.68 L195.70 228.70 L195.75 228.69 L195.87 228.58 L196.00 228.37 L196.12 228.05 L196.25 227.65 L196.37 227.18 L196.50 226.64 L196.62 226.05 L196.75 225.43 L196.87 224.78 L197.00 224.12 L197.12 223.46 L197.17 223.18 L197.25 222.78 L197.37 222.00 L197.50 221.11 L197.62 220.13 L197.75 219.07 L197.87 217.95 L198.00 216.78 L198.12 215.57 L198.25 214.34 L198.37 213.11 L198.50 211.88 L198.62 210.66 L198.65 210.40 L198.75 209.45 L198.87 208.15 L199.00 206.78 L199.12 205.38 L199.25 203.94 L199.37 202.50 L199.50 201.08 L199.62 199.69 L199.75 198.36 L199.87 197.11 L200.00 195.94 L200.12 194.90 L200.12 194.87 L200.25 193.90 L200.37 192.85 L200.50 191.79 L200.62 190.75 L200.75 189.73 L200.87 188.78 L201.00 187.91 L201.12 187.15 L201.25 186.52 L201.37 186.06 L201.50 185.78 L201.60 185.70 L201.62 185.71 L201.75 186.05 L201.87 186.85 L202.00 188.05 L202.12 189.57 L202.25 191.35 L202.37 193.32 L202.50 195.42 L202.62 197.59 L202.75 199.74 L202.87 201.82 L203.00 203.77 L203.07 204.89 L203.12 205.53 L203.25 207.36 L203.37 209.31 L203.50 211.33 L203.62 213.38 L203.75 215.44 L203.87 217.45 L204.00 219.39 L204.12 221.22 L204.25 222.89 L204.37 224.38 L204.50 225.63 L204.55 226.10 L204.62 226.67 L204.75 227.65 L204.87 228.60 L205.00 229.50 L205.12 230.35 L205.25 231.14 L205.37 231.88 L205.50 232.54 L205.62 233.13 L205.75 233.63 L205.87 234.05 L206.00 234.37 L206.03 234.43 L206.12 234.62 L206.25 234.85 L206.37 235.08 L206.50 235.29 L206.62 235.48 L206.75 235.66 L206.87 235.81 L207.00 235.95 L207.12 236.05 L207.25 236.13 L207.37 236.18 L207.50 236.20 L207.50 236.20 L207.62 236.17 L207.75 236.08 L207.87 235.94 L208.00 235.75 L208.12 235.52 L208.25 235.26 L208.37 234.96 L208.50 234.65 L208.57 234.43 L208.62 234.30 L208.74 233.80 L208.87 233.13 L208.99 232.30 L209.12 231.34 L209.24 230.25 L209.37 229.06 L209.49 227.78 L209.62 226.43 L209.65 226.10 L209.74 224.90 L209.87 222.92 L209.99 220.59 L210.12 218.00 L210.24 215.24 L210.37 212.42 L210.49 209.63 L210.62 206.96 L210.73 204.89 L210.74 204.52 L210.87 201.91 L210.99 199.04 L211.12 196.07 L211.24 193.18 L211.37 190.53 L211.49 188.30 L211.62 186.67 L211.74 185.80 L211.80 185.70 L211.87 185.74 L211.99 185.98 L212.12 186.45 L212.24 187.13 L212.37 187.99 L212.49 189.04 L212.62 190.25 L212.74 191.61 L212.87 193.10 L212.99 194.72 L213.12 196.44 L213.24 198.26 L213.30 199.10 L213.37 200.48 L213.49 204.42 L213.62 209.67 L213.74 215.58 L213.87 221.50 L213.99 226.78 L214.12 230.79 L214.20 232.40 L214.24 233.01 L214.37 234.60 L214.49 235.99 L214.62 237.17 L214.74 238.14 L214.87 238.91 L214.99 239.48 L215.00 239.50 L215.12 239.91 L215.24 240.29 L215.37 240.63 L215.49 240.92 L215.62 241.17 L215.74 241.38 L215.87 241.56 L215.99 241.69 L216.00 241.70 L216.12 241.81 L216.24 241.92 L216.37 242.02 L216.49 242.11 L216.62 242.19 L216.74 242.25 L216.87 242.29 L216.99 242.30 L217.00 242.30 L217.12 242.30 L217.24 242.30 L217.37 242.30 L217.49 242.30 L217.62 242.30 L217.74 242.30 L217.87 242.30 L217.99 242.30 L218.12 242.30 L218.24 242.30 L218.37 242.30 L218.49 242.30 L218.62 242.30 L218.74 242.30 L218.87 242.30 L218.99 242.30 L219.12 242.30 L219.24 242.30 L219.37 242.30 L219.49 242.30 L219.62 242.30 L219.74 242.30 L219.87 242.30 L219.99 242.30 L220.12 242.30 L220.24 242.30 L220.37 242.30 L220.49 242.30 L220.62 242.30 L220.74 242.30 L220.87 242.30 L220.99 242.30 L221.12 242.30 L221.24 242.30 L221.37 242.30 L221.49 242.30 L221.62 242.30 L221.74 242.30 L221.87 242.30 L221.99 242.30 L222.12 242.30 L222.24 242.30 L222.37 242.30 L222.49 242.30 L222.62 242.30 L222.74 242.30 L222.87 242.30 L222.99 242.30 L223.12 242.30 L223.24 242.30 L223.37 242.30 L223.49 242.30 L223.62 242.30 L223.74 242.30 L223.87 242.30 L223.99 242.30 L224.12 242.30 L224.24 242.30 L224.37 242.30 L224.49 242.30 L224.62 242.30 L224.74 242.30 L224.87 242.30 L224.99 242.30 L225.12 242.30 L225.24 242.30 L225.37 242.30 L225.49 242.30 L225.62 242.30 L225.74 242.30 L225.87 242.30 L225.99 242.30 L226.12 242.30 L226.24 242.30 L226.37 242.30 L226.49 242.30 L226.62 242.30 L226.74 242.30 L226.87 242.30 L226.99 242.30 L227.12 242.30 L227.24 242.30 L227.37 242.30 L227.49 242.30 L227.62 242.30 L227.74 242.30 L227.87 242.30 L227.99 242.30 L228.12 242.30 L228.24 242.30 L228.37 242.30 L228.49 242.30 L228.62 242.30 L228.74 242.30 L228.87 242.30 L228.99 242.30 L229.12 242.30 L229.24 242.30 L229.37 242.30 L229.49 242.30 L229.60 242.30 L229.62 242.30 L229.74 242.25 L229.87 242.13 L229.99 241.93 L230.12 241.66 L230.24 241.33 L230.25 241.30 L230.37 240.61 L230.49 238.99 L230.60 236.70 L230.62 236.18 L230.74 224.63 L230.80 215.70 L230.87 192.54 L230.90 185.70 L230.99 213.75 L231.00 215.70 L231.12 231.33 L231.20 236.70 L231.24 237.66 L231.37 239.85 L231.49 241.04 L231.55 241.30 L231.62 241.49 L231.74 241.79 L231.87 242.03 L231.99 242.19 L232.12 242.28 L232.20 242.30 L232.24 242.30 L232.37 242.30 L232.49 242.30 L232.62 242.30 L232.74 242.30 L232.87 242.30 L232.99 242.30 L233.12 242.30 L233.24 242.30 L233.37 242.30 L233.49 242.30 L233.62 242.30 L233.74 242.30 L233.87 242.30 L233.99 242.30 L234.12 242.30 L234.24 242.30 L234.37 242.30 L234.49 242.30 L234.62 242.30 L234.74 242.30 L234.87 242.30 L234.99 242.30 L235.12 242.30 L235.24 242.30 L235.37 242.30 L235.49 242.30 L235.61 242.30 L235.74 242.30 L235.86 242.30 L235.99 242.30 L236.11 242.30 L236.24 242.30 L236.36 242.30 L236.49 242.30 L236.61 242.30 L236.74 242.30 L236.86 242.30 L236.99 242.30 L237.11 242.30 L237.24 242.30 L237.36 242.30 L237.49 242.30 L237.61 242.30 L237.74 242.30 L237.86 242.30 L237.99 242.30 L238.11 242.30 L238.24 242.30 L238.36 242.30 L238.49 242.30 L238.61 242.30 L238.74 242.30 L238.86 242.30 L238.99 242.30 L239.11 242.30 L239.24 242.30 L239.36 242.30 L239.49 242.30 L239.61 242.30 L239.74 242.30 L239.86 242.30 L239.99 242.30 L240.11 242.30 L240.24 242.30 L240.36 242.30 L240.49 242.30 L240.61 242.30 L240.74 242.30 L240.86 242.30 L240.99 242.30 L241.11 242.30 L241.24 242.30 L241.36 242.30 L241.49 242.30 L241.61 242.30 L241.74 242.30 L241.86 242.30 L241.99 242.30 L242.11 242.30 L242.24 242.30 L242.36 242.30 L242.49 242.30 L242.61 242.30 L242.74 242.30 L242.86 242.30 L242.99 242.30 L243.11 242.30 L243.24 242.30 L243.36 242.30 L243.49 242.30 L243.61 242.30 L243.74 242.30 L243.86 242.30 L243.99 242.30 L244.11 242.30 L244.24 242.30 L244.36 242.30 L244.49 242.30 L244.61 242.30 L244.74 242.30 L244.86 242.30 L244.99 242.30 L245.11 242.30 L245.24 242.30 L245.36 242.30 L245.49 242.30 L245.61 242.30 L245.74 242.30 L245.86 242.30 L245.99 242.30 L246.11 242.30 L246.24 242.30 L246.36 242.30 L246.49 242.30 L246.61 242.30 L246.74 242.30 L246.86 242.30 L246.99 242.30 L247.11 242.30 L247.24 242.30 L247.30 242.30 L247.36 242.30 L247.49 242.27 L247.61 242.22 L247.74 242.15 L247.86 242.06 L247.99 241.96 L248.11 241.86 L248.24 241.75 L248.30 241.70 L248.36 241.65 L248.49 241.54 L248.61 241.42 L248.74 241.30 L248.86 241.16 L248.99 241.00 L249.11 240.83 L249.24 240.65 L249.36 240.44 L249.49 240.20 L249.61 239.94 L249.74 239.66 L249.80 239.50 L249.86 239.33 L249.99 238.88 L250.11 238.29 L250.24 237.56 L250.36 236.69 L250.49 235.66 L250.61 234.48 L250.74 233.14 L250.80 232.40 L250.86 231.36 L250.99 227.78 L251.11 222.74 L251.24 216.90 L251.36 210.91 L251.49 205.42 L251.61 201.10 L251.70 199.10 L251.74 198.49 L251.86 196.46 L251.99 194.52 L252.11 192.71 L252.24 191.04 L252.36 189.55 L252.49 188.27 L252.61 187.21 L252.74 186.42 L252.86 185.90 L252.99 185.70 L253.00 185.70 L253.11 185.78 L253.24 186.04 L253.36 186.46 L253.49 187.00 L253.61 187.64 L253.74 188.36 L253.85 189.04 L253.86 189.12 L253.99 190.17 L254.11 191.64 L254.24 193.42 L254.36 195.40 L254.49 197.48 L254.61 199.57 L254.70 201.00 L254.74 201.58 L254.86 203.78 L254.99 206.17 L255.11 208.63 L255.24 211.04 L255.36 213.26 L255.49 215.17 L255.55 215.99 L255.61 216.72 L255.74 218.25 L255.86 219.74 L255.99 221.11 L256.11 222.25 L256.24 223.07 L256.36 223.47 L256.40 223.50 L256.49 223.46 L256.61 223.26 L256.74 222.91 L256.86 222.43 L256.99 221.84 L257.11 221.15 L257.24 220.39 L257.36 219.57 L257.49 218.71 L257.61 217.83 L257.74 216.95 L257.86 216.08 L257.88 215.99 L257.99 215.17 L258.11 214.12 L258.24 212.94 L258.36 211.67 L258.49 210.32 L258.61 208.92 L258.74 207.50 L258.86 206.09 L258.99 204.69 L259.11 203.35 L259.24 202.08 L259.35 201.00 L259.36 200.90 L259.49 199.74 L259.61 198.55 L259.74 197.34 L259.86 196.13 L259.99 194.95 L260.11 193.80 L260.24 192.72 L260.36 191.72 L260.49 190.82 L260.61 190.04 L260.74 189.40 L260.82 189.04 L260.86 188.92 L260.99 188.48 L261.11 188.06 L261.24 187.65 L261.36 187.27 L261.49 186.92 L261.61 186.60 L261.74 186.32 L261.86 186.09 L261.99 185.90 L262.11 185.78 L262.23 185.71 L262.30 185.70 L262.36 185.70 L262.48 185.71 L262.61 185.72 L262.73 185.75 L262.86 185.77 L262.98 185.81 L263.11 185.85 L263.23 185.90 L263.36 185.95 L263.48 186.01 L263.61 186.07 L263.73 186.14 L263.86 186.21 L263.93 186.25 L263.98 186.29 L264.11 186.43 L264.23 186.62 L264.36 186.87 L264.48 187.16 L264.61 187.50 L264.73 187.87 L264.86 188.27 L264.98 188.69 L265.11 189.13 L265.23 189.58 L265.36 190.04 L265.48 190.50 L265.55 190.74 L265.61 190.96 L265.73 191.50 L265.86 192.10 L265.98 192.76 L266.11 193.46 L266.23 194.19 L266.36 194.93 L266.48 195.68 L266.61 196.43 L266.73 197.15 L266.86 197.83 L266.98 198.46 L267.11 199.04 L267.18 199.31 L267.23 199.55 L267.36 200.07 L267.48 200.61 L267.61 201.15 L267.73 201.69 L267.86 202.21 L267.98 202.70 L268.11 203.15 L268.23 203.56 L268.36 203.91 L268.48 204.18 L268.61 204.38 L268.73 204.49 L268.80 204.50 L268.86 204.49 L268.98 204.38 L269.11 204.17 L269.23 203.87 L269.36 203.50 L269.48 203.07 L269.61 202.58 L269.73 202.05 L269.86 201.50 L269.98 200.94 L270.11 200.37 L270.23 199.81 L270.35 199.31 L270.36 199.28 L270.48 198.71 L270.61 198.06 L270.73 197.36 L270.86 196.62 L270.98 195.85 L271.11 195.06 L271.23 194.27 L271.36 193.51 L271.48 192.77 L271.61 192.08 L271.73 191.45 L271.86 190.90 L271.90 190.74 L271.98 190.42 L272.11 189.94 L272.23 189.46 L272.36 188.99 L272.48 188.53 L272.61 188.10 L272.73 187.69 L272.86 187.32 L272.98 186.99 L273.11 186.71 L273.23 186.49 L273.36 186.32 L273.45 186.25 L273.48 186.22 L273.61 186.15 L273.73 186.08 L273.86 186.01 L273.98 185.95 L274.11 185.90 L274.23 185.85 L274.36 185.81 L274.48 185.77 L274.61 185.74 L274.73 185.72 L274.86 185.71 L274.98 185.70 L275.00 185.70 L275.11 185.70 L275.23 185.71 L275.36 185.71 L275.48 185.73 L275.61 185.74 L275.73 185.76 L275.86 185.78 L275.98 185.80 L276.11 185.83 L276.23 185.86 L276.36 185.89 L276.48 185.92 L276.61 185.95 L276.73 185.99 L276.75 186.00 L276.86 186.04 L276.98 186.12 L277.11 186.22 L277.23 186.35 L277.36 186.50 L277.48 186.67 L277.61 186.85 L277.73 187.05 L277.86 187.26 L277.98 187.48 L278.11 187.71 L278.23 187.94 L278.36 188.17 L278.48 188.40 L278.50 188.43 L278.61 188.64 L278.73 188.92 L278.86 189.23 L278.98 189.57 L279.11 189.92 L279.23 190.29 L279.36 190.67 L279.48 191.04 L279.61 191.42 L279.73 191.79 L279.86 192.14 L279.98 192.47 L280.11 192.77 L280.23 193.05 L280.25 193.08 L280.36 193.30 L280.48 193.57 L280.61 193.84 L280.73 194.11 L280.86 194.38 L280.98 194.65 L281.11 194.90 L281.23 195.13 L281.36 195.34 L281.48 195.52 L281.61 195.67 L281.73 195.79 L281.86 195.87 L281.98 195.90 L282.00 195.90 L282.11 195.88 L282.23 195.80 L282.36 195.68 L282.48 195.51 L282.61 195.31 L282.73 195.07 L282.86 194.81 L282.98 194.53 L283.11 194.24 L283.23 193.94 L283.36 193.65 L283.48 193.35 L283.60 193.08 L283.61 193.07 L283.73 192.77 L283.86 192.44 L283.98 192.07 L284.11 191.68 L284.23 191.28 L284.36 190.87 L284.48 190.45 L284.61 190.05 L284.73 189.65 L284.86 189.28 L284.98 188.94 L285.11 188.64 L285.20 188.43 L285.23 188.37 L285.36 188.12 L285.48 187.87 L285.61 187.62 L285.73 187.37 L285.86 187.14 L285.98 186.91 L286.11 186.71 L286.23 186.52 L286.36 186.35 L286.48 186.21 L286.61 186.10 L286.73 186.02 L286.80 186.00 L286.86 185.98 L286.98 185.94 L287.11 185.90 L287.23 185.87 L287.36 185.84 L287.48 185.81 L287.61 185.78 L287.73 185.76 L287.86 185.74 L287.98 185.72 L288.11 185.71 L288.23 185.70 L288.36 185.70 L288.40 185.70 L288.48 185.70 L288.61 185.70 L288.73 185.71 L288.86 185.71 L288.98 185.72 L289.10 185.73 L289.23 185.75 L289.35 185.76 L289.48 185.77 L289.60 185.79 L289.73 185.81 L289.85 185.83 L289.98 185.85 L290.10 185.87 L290.20 185.89 L290.23 185.90 L290.35 185.93 L290.48 185.99 L290.60 186.06 L290.73 186.14 L290.85 186.24 L290.98 186.35 L291.10 186.47 L291.23 186.60 L291.35 186.73 L291.48 186.87 L291.60 187.01 L291.73 187.15 L291.85 187.30 L291.98 187.45 L292.00 187.47 L292.10 187.60 L292.23 187.77 L292.35 187.96 L292.48 188.17 L292.60 188.40 L292.73 188.63 L292.85 188.86 L292.98 189.10 L293.10 189.34 L293.23 189.57 L293.35 189.79 L293.48 190.01 L293.60 190.20 L293.73 190.39 L293.80 190.48 L293.85 190.55 L293.98 190.71 L294.10 190.88 L294.23 191.05 L294.35 191.22 L294.48 191.39 L294.60 191.55 L294.73 191.71 L294.85 191.85 L294.98 191.98 L295.10 192.09 L295.23 192.18 L295.35 192.24 L295.48 192.29 L295.60 192.30 L295.60 192.30 L295.73 192.28 L295.85 192.24 L295.98 192.16 L296.10 192.07 L296.23 191.95 L296.35 191.82 L296.48 191.67 L296.60 191.51 L296.73 191.34 L296.85 191.17 L296.98 190.99 L297.10 190.81 L297.23 190.64 L297.35 190.48 L297.35 190.47 L297.48 190.30 L297.60 190.10 L297.73 189.89 L297.85 189.67 L297.98 189.43 L298.10 189.19 L298.23 188.94 L298.35 188.70 L298.48 188.46 L298.60 188.23 L298.73 188.01 L298.85 187.81 L298.98 187.63 L299.10 187.47 L299.10 187.47 L299.23 187.32 L299.35 187.17 L299.48 187.02 L299.60 186.87 L299.73 186.73 L299.85 186.59 L299.98 186.46 L300.10 186.34 L300.23 186.23 L300.35 186.13 L300.48 186.05 L300.60 185.98 L300.73 185.92 L300.85 185.89 L300.85 185.89 L300.98 185.87 L301.10 185.84 L301.23 185.82 L301.35 185.80 L301.48 185.78 L301.60 185.77 L301.73 185.75 L301.85 185.74 L301.98 185.73 L302.10 185.72 L302.23 185.71 L302.35 185.70 L302.48 185.70 L302.60 185.70 L302.60 185.70 L302.73 185.70 L302.85 185.70 L302.98 185.71 L303.10 185.72 L303.23 185.72 L303.35 185.73 L303.48 185.74 L303.60 185.76 L303.73 185.77 L303.85 185.79 L303.98 185.80 L304.10 185.82 L304.23 185.84 L304.33 185.86 L304.35 185.86 L304.48 185.89 L304.60 185.94 L304.73 186.00 L304.85 186.08 L304.98 186.16 L305.10 186.26 L305.23 186.36 L305.35 186.47 L305.48 186.58 L305.60 186.70 L305.73 186.83 L305.85 186.95 L305.98 187.08 L306.05 187.15 L306.10 187.20 L306.23 187.34 L306.35 187.50 L306.48 187.68 L306.60 187.86 L306.73 188.06 L306.85 188.26 L306.98 188.46 L307.10 188.66 L307.23 188.86 L307.35 189.05 L307.48 189.24 L307.60 189.40 L307.73 189.56 L307.77 189.61 L307.85 189.69 L307.98 189.83 L308.10 189.98 L308.23 190.13 L308.35 190.27 L308.48 190.41 L308.60 190.55 L308.73 190.68 L308.85 190.79 L308.98 190.89 L309.10 190.97 L309.23 191.04 L309.35 191.08 L309.48 191.10 L309.50 191.10 L309.60 191.09 L309.73 191.05 L309.85 190.98 L309.98 190.88 L310.10 190.76 L310.23 190.63 L310.35 190.48 L310.48 190.32 L310.60 190.16 L310.73 189.99 L310.85 189.83 L310.98 189.67 L311.02 189.61 L311.10 189.51 L311.23 189.33 L311.35 189.14 L311.48 188.92 L311.60 188.70 L311.73 188.47 L311.85 188.24 L311.98 188.02 L312.10 187.80 L312.23 187.59 L312.35 187.40 L312.48 187.23 L312.55 187.15 L312.60 187.09 L312.73 186.95 L312.85 186.81 L312.98 186.67 L313.10 186.54 L313.23 186.41 L313.35 186.29 L313.48 186.18 L313.60 186.08 L313.73 186.00 L313.85 185.93 L313.98 185.88 L314.08 185.86 L314.10 185.85 L314.23 185.83 L314.35 185.81 L314.48 185.79 L314.60 185.77 L314.73 185.76 L314.85 185.74 L314.98 185.73 L315.10 185.72 L315.23 185.71 L315.35 185.70 L315.48 185.70 L315.60 185.70" fill="none" stroke="#0072BD" stroke-width="2.85" stroke-linejoin="round" stroke-linecap="butt"/>
<path d="M48.60 227.70 L48.72 225.05 L48.85 222.50 L48.97 220.05 L49.10 217.69 L49.22 215.44 L49.35 213.29 L49.47 211.22 L49.60 209.26 L49.72 207.38 L49.85 205.59 L49.97 203.89 L50.10 202.28 L50.22 200.76 L50.35 199.32 L50.47 197.96 L50.60 196.68 L50.72 195.48 L50.85 194.36 L50.97 193.31 L51.10 192.34 L51.22 191.45 L51.35 190.62 L51.47 189.87 L51.60 189.18 L51.72 188.56 L51.85 188.00 L51.97 187.51 L52.10 187.08 L52.22 186.72 L52.35 186.41 L52.47 186.16 L52.60 185.96 L52.72 185.82 L52.85 185.74 L52.97 185.70 L53.00 185.70 L53.10 185.78 L53.22 186.09 L53.35 186.60 L53.47 187.26 L53.60 188.05 L53.72 188.93 L53.85 189.85 L53.92 190.42 L53.97 190.81 L54.10 192.08 L54.22 193.64 L54.35 195.42 L54.47 197.35 L54.60 199.36 L54.72 201.35 L54.85 203.26 L54.85 203.28 L54.97 205.22 L55.10 207.33 L55.22 209.52 L55.35 211.70 L55.47 213.77 L55.60 215.66 L55.72 217.27 L55.78 217.83 L55.85 218.60 L55.97 219.93 L56.10 221.23 L56.22 222.43 L56.35 223.47 L56.47 224.27 L56.60 224.77 L56.70 224.90 L56.72 224.89 L56.85 224.67 L56.97 224.15 L57.10 223.40 L57.22 222.46 L57.35 221.38 L57.47 220.22 L57.60 219.02 L57.72 217.84 L57.73 217.83 L57.85 216.53 L57.97 214.96 L58.10 213.19 L58.22 211.28 L58.35 209.31 L58.47 207.34 L58.60 205.42 L58.72 203.63 L58.75 203.28 L58.85 201.93 L58.97 200.14 L59.10 198.33 L59.22 196.54 L59.35 194.84 L59.47 193.28 L59.60 191.91 L59.72 190.79 L59.77 190.42 L59.85 189.92 L59.97 189.08 L60.10 188.28 L60.22 187.54 L60.35 186.89 L60.47 186.35 L60.60 185.96 L60.72 185.74 L60.80 185.70 L60.85 185.72 L60.97 185.90 L61.10 186.28 L61.22 186.81 L61.35 187.46 L61.47 188.21 L61.60 189.03 L61.72 189.88 L61.80 190.42 L61.85 190.77 L61.97 191.92 L62.10 193.32 L62.22 194.94 L62.35 196.69 L62.47 198.53 L62.60 200.38 L62.72 202.20 L62.80 203.28 L62.85 203.95 L62.97 205.81 L63.10 207.79 L63.22 209.82 L63.35 211.83 L63.47 213.75 L63.60 215.50 L63.72 217.03 L63.80 217.83 L63.85 218.29 L63.97 219.51 L64.10 220.73 L64.22 221.89 L64.35 222.94 L64.47 223.81 L64.60 224.46 L64.72 224.83 L64.80 224.90 L64.85 224.87 L64.97 224.56 L65.10 223.94 L65.22 223.08 L65.35 222.03 L65.47 220.85 L65.60 219.60 L65.72 218.34 L65.78 217.83 L65.85 217.06 L65.97 215.50 L66.10 213.69 L66.22 211.72 L66.35 209.66 L66.47 207.58 L66.60 205.56 L66.72 203.67 L66.75 203.28 L66.85 201.87 L66.97 199.99 L67.10 198.09 L67.22 196.22 L67.35 194.46 L67.47 192.86 L67.60 191.50 L67.72 190.43 L67.72 190.42 L67.85 189.55 L67.97 188.68 L68.10 187.87 L68.22 187.14 L68.35 186.53 L68.47 186.06 L68.60 185.78 L68.70 185.70 L68.72 185.71 L68.85 186.00 L68.97 186.66 L69.10 187.62 L69.22 188.82 L69.35 190.18 L69.47 191.64 L69.60 193.12 L69.72 194.56 L69.75 194.87 L69.85 196.02 L69.97 197.68 L70.10 199.52 L70.22 201.47 L70.35 203.49 L70.47 205.50 L70.60 207.46 L70.72 209.32 L70.80 210.40 L70.85 211.03 L70.97 212.74 L71.10 214.48 L71.22 216.20 L71.35 217.86 L71.47 219.43 L71.60 220.86 L71.72 222.11 L71.85 223.16 L71.85 223.18 L71.97 224.08 L72.10 225.01 L72.22 225.91 L72.35 226.73 L72.47 227.45 L72.60 228.04 L72.72 228.46 L72.85 228.68 L72.90 228.70 L72.97 228.66 L73.10 228.38 L73.22 227.90 L73.35 227.23 L73.47 226.43 L73.60 225.53 L73.72 224.57 L73.85 223.60 L73.90 223.18 L73.97 222.58 L74.10 221.35 L74.22 219.91 L74.35 218.30 L74.47 216.58 L74.60 214.78 L74.72 212.96 L74.85 211.15 L74.90 210.40 L74.97 209.36 L75.10 207.41 L75.22 205.35 L75.35 203.23 L75.47 201.13 L75.60 199.10 L75.72 197.21 L75.85 195.52 L75.90 194.87 L75.97 194.03 L76.10 192.49 L76.22 190.93 L76.35 189.45 L76.47 188.10 L76.60 186.98 L76.72 186.17 L76.85 185.75 L76.90 185.70 L76.97 185.84 L77.10 186.70 L77.22 188.23 L77.35 190.27 L77.47 192.71 L77.60 195.38 L77.72 198.16 L77.85 200.90 L77.97 203.46 L78.05 204.93 L78.10 205.75 L78.22 208.15 L78.35 210.70 L78.47 213.34 L78.60 215.97 L78.72 218.53 L78.85 220.93 L78.97 223.09 L79.10 224.94 L79.20 226.18 L79.22 226.40 L79.35 227.67 L79.47 228.88 L79.60 230.01 L79.72 231.06 L79.85 232.01 L79.97 232.84 L80.10 233.55 L80.22 234.11 L80.35 234.52 L80.35 234.53 L80.47 234.83 L80.60 235.12 L80.72 235.39 L80.85 235.64 L80.97 235.85 L81.10 236.03 L81.22 236.17 L81.35 236.26 L81.47 236.30 L81.50 236.30 L81.60 236.27 L81.72 236.14 L81.85 235.93 L81.97 235.64 L82.10 235.29 L82.22 234.89 L82.33 234.53 L82.35 234.45 L82.47 233.80 L82.60 232.86 L82.72 231.67 L82.85 230.27 L82.97 228.69 L83.10 226.97 L83.15 226.18 L83.22 225.02 L83.35 222.38 L83.47 219.18 L83.60 215.63 L83.72 211.95 L83.85 208.35 L83.97 205.05 L83.97 204.93 L84.10 201.68 L84.22 197.88 L84.35 194.04 L84.47 190.53 L84.60 187.73 L84.72 186.04 L84.80 185.70 L84.85 185.73 L84.97 186.05 L85.09 186.73 L85.22 187.73 L85.34 189.01 L85.47 190.54 L85.59 192.29 L85.72 194.24 L85.84 196.33 L85.97 198.55 L86.00 199.10 L86.09 201.60 L86.22 206.74 L86.34 213.13 L86.47 219.86 L86.59 226.01 L86.72 230.64 L86.80 232.40 L86.84 233.04 L86.97 234.66 L87.09 236.05 L87.22 237.22 L87.34 238.18 L87.47 238.93 L87.59 239.48 L87.60 239.50 L87.72 239.91 L87.84 240.29 L87.97 240.63 L88.09 240.92 L88.22 241.17 L88.34 241.38 L88.47 241.56 L88.59 241.69 L88.60 241.70 L88.72 241.81 L88.84 241.92 L88.97 242.02 L89.09 242.11 L89.22 242.19 L89.34 242.25 L89.47 242.29 L89.59 242.30 L89.60 242.30 L89.72 242.30 L89.84 242.30 L89.97 242.30 L90.09 242.30 L90.22 242.30 L90.34 242.30 L90.47 242.30 L90.59 242.30 L90.72 242.30 L90.84 242.30 L90.97 242.30 L91.09 242.30 L91.22 242.30 L91.34 242.30 L91.47 242.30 L91.59 242.30 L91.72 242.30 L91.84 242.30 L91.97 242.30 L92.09 242.30 L92.22 242.30 L92.34 242.30 L92.47 242.30 L92.59 242.30 L92.72 242.30 L92.84 242.30 L92.97 242.30 L93.09 242.30 L93.22 242.30 L93.34 242.30 L93.47 242.30 L93.59 242.30 L93.72 242.30 L93.84 242.30 L93.97 242.30 L94.09 242.30 L94.22 242.30 L94.34 242.30 L94.47 242.30 L94.59 242.30 L94.72 242.30 L94.84 242.30 L94.97 242.30 L95.09 242.30 L95.22 242.30 L95.34 242.30 L95.47 242.30 L95.59 242.30 L95.72 242.30 L95.84 242.30 L95.97 242.30 L96.09 242.30 L96.22 242.30 L96.34 242.30 L96.47 242.30 L96.59 242.30 L96.72 242.30 L96.84 242.30 L96.97 242.30 L97.09 242.30 L97.22 242.30 L97.34 242.30 L97.47 242.30 L97.59 242.30 L97.70 242.30 L97.72 242.30 L97.84 242.25 L97.97 242.12 L98.09 241.93 L98.22 241.66 L98.34 241.32 L98.35 241.30 L98.47 240.59 L98.59 238.95 L98.70 236.70 L98.72 236.08 L98.84 224.33 L98.90 215.70 L98.97 191.78 L99.00 185.70 L99.09 214.30 L99.10 215.70 L99.22 231.55 L99.30 236.70 L99.34 237.71 L99.47 239.88 L99.59 241.05 L99.65 241.30 L99.72 241.49 L99.84 241.80 L99.97 242.03 L100.09 242.19 L100.22 242.28 L100.30 242.30 L100.34 242.30 L100.47 242.30 L100.59 242.30 L100.72 242.30 L100.84 242.30 L100.97 242.30 L101.09 242.30 L101.22 242.30 L101.34 242.30 L101.47 242.30 L101.59 242.30 L101.72 242.30 L101.84 242.30 L101.97 242.30 L102.09 242.30 L102.22 242.30 L102.34 242.30 L102.47 242.30 L102.59 242.30 L102.72 242.30 L102.84 242.30 L102.97 242.30 L103.09 242.30 L103.22 242.30 L103.34 242.30 L103.47 242.30 L103.59 242.30 L103.72 242.30 L103.84 242.30 L103.97 242.30 L104.09 242.30 L104.22 242.30 L104.34 242.30 L104.47 242.30 L104.59 242.30 L104.72 242.30 L104.84 242.30 L104.97 242.30 L105.09 242.30 L105.22 242.30 L105.34 242.30 L105.47 242.30 L105.59 242.30 L105.72 242.30 L105.84 242.30 L105.97 242.30 L106.09 242.30 L106.22 242.30 L106.34 242.30 L106.47 242.30 L106.59 242.30 L106.72 242.30 L106.84 242.30 L106.97 242.30 L107.09 242.30 L107.22 242.30 L107.34 242.30 L107.47 242.30 L107.59 242.30 L107.72 242.30 L107.84 242.30 L107.97 242.30 L108.09 242.30 L108.22 242.30 L108.34 242.30 L108.47 242.30 L108.59 242.30 L108.72 242.30 L108.84 242.30 L108.97 242.30 L109.09 242.30 L109.22 242.30 L109.34 242.30 L109.47 242.30 L109.50 242.30 L109.59 242.29 L109.72 242.26 L109.84 242.20 L109.97 242.13 L110.09 242.04 L110.22 241.94 L110.34 241.83 L110.47 241.73 L110.50 241.70 L110.59 241.62 L110.72 241.51 L110.84 241.39 L110.97 241.26 L111.09 241.12 L111.22 240.97 L111.34 240.79 L111.47 240.60 L111.59 240.38 L111.72 240.14 L111.84 239.88 L111.97 239.58 L112.00 239.50 L112.09 239.24 L112.22 238.77 L112.34 238.16 L112.47 237.42 L112.59 236.52 L112.72 235.46 L112.84 234.23 L112.97 232.81 L113.00 232.40 L113.09 230.48 L113.22 225.77 L113.34 219.53 L113.47 212.72 L113.59 206.31 L113.72 201.26 L113.80 199.10 L113.84 198.35 L113.97 196.14 L114.09 194.06 L114.22 192.13 L114.34 190.40 L114.47 188.88 L114.59 187.63 L114.72 186.66 L114.84 186.01 L114.97 185.71 L115.00 185.70 L115.09 185.77 L115.22 186.07 L115.34 186.58 L115.47 187.24 L115.59 188.02 L115.72 188.87 L115.72 188.93 L115.84 190.03 L115.97 191.74 L116.09 193.85 L116.22 196.20 L116.34 198.62 L116.45 200.67 L116.47 200.96 L116.59 203.48 L116.72 206.29 L116.84 209.15 L116.97 211.88 L117.09 214.26 L117.18 215.57 L117.22 216.14 L117.34 217.93 L117.47 219.67 L117.59 221.20 L117.72 222.37 L117.84 223.02 L117.90 223.10 L117.97 223.05 L118.09 222.68 L118.22 222.01 L118.34 221.09 L118.47 219.99 L118.59 218.77 L118.72 217.48 L118.84 216.18 L118.90 215.57 L118.97 214.87 L119.09 213.30 L119.22 211.48 L119.34 209.49 L119.47 207.42 L119.59 205.35 L119.72 203.34 L119.84 201.48 L119.90 200.67 L119.97 199.80 L120.09 198.07 L120.22 196.31 L120.34 194.59 L120.47 192.96 L120.59 191.49 L120.72 190.25 L120.84 189.28 L120.90 188.93 L120.97 188.61 L121.09 188.00 L121.22 187.42 L121.34 186.91 L121.46 186.46 L121.59 186.10 L121.71 185.85 L121.84 185.72 L121.90 185.70 L121.96 185.70 L122.09 185.72 L122.21 185.75 L122.34 185.79 L122.46 185.85 L122.59 185.92 L122.71 186.00 L122.84 186.09 L122.96 186.19 L123.03 186.24 L123.09 186.31 L123.21 186.55 L123.34 186.90 L123.46 187.34 L123.59 187.86 L123.71 188.44 L123.84 189.07 L123.96 189.71 L124.09 190.37 L124.15 190.68 L124.21 191.04 L124.34 191.85 L124.46 192.79 L124.59 193.81 L124.71 194.87 L124.84 195.94 L124.96 196.98 L125.09 197.95 L125.21 198.80 L125.28 199.17 L125.34 199.54 L125.46 200.30 L125.59 201.07 L125.71 201.83 L125.84 202.54 L125.96 203.17 L126.09 203.69 L126.21 204.07 L126.34 204.27 L126.40 204.30 L126.46 204.27 L126.59 204.07 L126.71 203.71 L126.84 203.20 L126.96 202.59 L127.09 201.90 L127.21 201.16 L127.34 200.40 L127.46 199.66 L127.55 199.17 L127.59 198.94 L127.71 198.13 L127.84 197.20 L127.96 196.20 L128.09 195.16 L128.21 194.11 L128.34 193.10 L128.46 192.15 L128.59 191.31 L128.70 190.68 L128.71 190.61 L128.84 189.97 L128.96 189.33 L129.09 188.71 L129.21 188.12 L129.34 187.58 L129.46 187.11 L129.59 186.72 L129.71 186.43 L129.84 186.25 L129.85 186.24 L129.96 186.15 L130.09 186.05 L130.21 185.97 L130.34 185.89 L130.46 185.83 L130.59 185.78 L130.71 185.74 L130.84 185.71 L130.96 185.70 L131.00 185.70 L131.09 185.70 L131.21 185.71 L131.34 185.73 L131.46 185.75 L131.59 185.77 L131.71 185.81 L131.84 185.84 L131.96 185.88 L132.09 185.93 L132.21 185.98 L132.25 186.00 L132.34 186.05 L132.46 186.17 L132.59 186.34 L132.71 186.55 L132.84 186.80 L132.96 187.08 L133.09 187.38 L133.21 187.69 L133.34 188.02 L133.46 188.34 L133.50 188.43 L133.59 188.68 L133.71 189.08 L133.84 189.54 L133.96 190.04 L134.09 190.57 L134.21 191.09 L134.34 191.62 L134.46 192.11 L134.59 192.57 L134.71 192.98 L134.75 193.08 L134.84 193.34 L134.96 193.71 L135.09 194.10 L135.21 194.47 L135.34 194.83 L135.46 195.16 L135.59 195.44 L135.71 195.67 L135.84 195.82 L135.96 195.90 L136.00 195.90 L136.09 195.87 L136.21 195.75 L136.34 195.54 L136.46 195.26 L136.59 194.93 L136.71 194.56 L136.84 194.16 L136.96 193.75 L137.09 193.35 L137.18 193.08 L137.21 192.97 L137.34 192.53 L137.46 192.04 L137.59 191.50 L137.71 190.95 L137.84 190.38 L137.96 189.83 L138.09 189.32 L138.21 188.86 L138.34 188.47 L138.35 188.43 L138.46 188.12 L138.59 187.78 L138.71 187.44 L138.84 187.12 L138.96 186.82 L139.09 186.56 L139.21 186.33 L139.34 186.15 L139.46 186.03 L139.52 186.00 L139.59 185.97 L139.71 185.92 L139.84 185.87 L139.96 185.83 L140.09 185.79 L140.21 185.76 L140.34 185.73 L140.46 185.71 L140.59 185.70 L140.70 185.70 L140.71 185.70 L140.84 185.70 L140.96 185.71 L141.09 185.72 L141.21 185.73 L141.34 185.75 L141.46 185.77 L141.59 185.79 L141.71 185.81 L141.84 185.84 L141.96 185.87 L142.02 185.88 L142.09 185.90 L142.21 185.96 L142.34 186.06 L142.46 186.17 L142.59 186.31 L142.71 186.46 L142.84 186.63 L142.96 186.81 L143.09 186.99 L143.21 187.18 L143.34 187.37 L143.35 187.39 L143.46 187.57 L143.59 187.81 L143.71 188.08 L143.84 188.37 L143.96 188.68 L144.09 188.98 L144.21 189.29 L144.34 189.58 L144.46 189.86 L144.59 190.11 L144.68 190.26 L144.71 190.32 L144.84 190.54 L144.96 190.76 L145.09 190.98 L145.21 191.20 L145.34 191.40 L145.46 191.58 L145.59 191.74 L145.71 191.87 L145.84 191.96 L145.96 192.00 L146.00 192.00 L146.09 191.99 L146.21 191.92 L146.34 191.80 L146.46 191.64 L146.59 191.44 L146.71 191.23 L146.84 191.00 L146.96 190.76 L147.09 190.52 L147.21 190.29 L147.22 190.26 L147.34 190.05 L147.46 189.77 L147.59 189.46 L147.71 189.14 L147.84 188.80 L147.96 188.47 L148.09 188.15 L148.21 187.86 L148.34 187.59 L148.45 187.39 L148.46 187.37 L148.59 187.17 L148.71 186.96 L148.84 186.76 L148.96 186.57 L149.09 186.40 L149.21 186.24 L149.34 186.10 L149.46 185.99 L149.59 185.92 L149.68 185.88 L149.71 185.87 L149.84 185.84 L149.96 185.81 L150.09 185.79 L150.21 185.76 L150.34 185.74 L150.46 185.73 L150.59 185.71 L150.71 185.71 L150.84 185.70 L150.90 185.70 L150.96 185.70 L151.09 185.70 L151.21 185.71 L151.34 185.72 L151.46 185.73 L151.59 185.75 L151.71 185.76 L151.84 185.78 L151.96 185.80 L152.09 185.82 L152.18 185.84 L152.21 185.85 L152.34 185.90 L152.46 185.97 L152.59 186.06 L152.71 186.17 L152.84 186.29 L152.96 186.43 L153.09 186.57 L153.21 186.72 L153.34 186.87 L153.45 187.01 L153.46 187.03 L153.59 187.20 L153.71 187.40 L153.84 187.62 L153.96 187.86 L154.09 188.11 L154.21 188.36 L154.34 188.60 L154.46 188.83 L154.59 189.04 L154.71 189.23 L154.72 189.25 L154.84 189.40 L154.96 189.58 L155.09 189.76 L155.21 189.93 L155.34 190.10 L155.46 190.25 L155.59 190.38 L155.71 190.49 L155.84 190.56 L155.96 190.60 L156.00 190.60 L156.09 190.59 L156.21 190.54 L156.34 190.46 L156.46 190.35 L156.59 190.21 L156.71 190.06 L156.84 189.89 L156.96 189.72 L157.09 189.55 L157.21 189.38 L157.25 189.33 L157.34 189.22 L157.46 189.02 L157.59 188.81 L157.71 188.58 L157.84 188.34 L157.96 188.10 L158.08 187.87 L158.21 187.65 L158.33 187.45 L158.46 187.28 L158.50 187.23 L158.58 187.13 L158.71 186.99 L158.83 186.84 L158.96 186.70 L159.08 186.57 L159.21 186.45 L159.33 186.35 L159.46 186.26 L159.58 186.19 L159.71 186.14 L159.75 186.13 L159.83 186.12 L159.96 186.10 L160.08 186.08 L160.21 186.06 L160.33 186.04 L160.46 186.03 L160.58 186.02 L160.71 186.01 L160.83 186.00 L160.96 186.00 L161.00 186.00 L161.08 186.00 L161.21 186.00 L161.33 186.01 L161.46 186.01 L161.58 186.02 L161.71 186.03 L161.83 186.04 L161.96 186.05 L162.08 186.06 L162.21 186.08 L162.33 186.09 L162.40 186.10 L162.46 186.11 L162.58 186.14 L162.71 186.19 L162.83 186.25 L162.96 186.32 L163.08 186.39 L163.21 186.48 L163.33 186.57 L163.46 186.67 L163.58 186.77 L163.71 186.87 L163.80 186.94 L163.83 186.97 L163.96 187.08 L164.08 187.21 L164.21 187.36 L164.33 187.51 L164.46 187.67 L164.58 187.83 L164.71 187.99 L164.83 188.15 L164.96 188.29 L165.08 188.43 L165.20 188.53 L165.21 188.54 L165.33 188.65 L165.46 188.77 L165.58 188.89 L165.71 189.00 L165.83 189.11 L165.96 189.21 L166.08 189.31 L166.21 189.38 L166.33 189.44 L166.46 189.48 L166.58 189.50 L166.60 189.50 L166.71 189.49 L166.83 189.45 L166.96 189.38 L167.08 189.29 L167.21 189.19 L167.33 189.08 L167.46 188.95 L167.58 188.83 L167.71 188.70 L167.83 188.58 L167.85 188.56 L167.96 188.45 L168.08 188.31 L168.21 188.14 L168.33 187.97 L168.46 187.80 L168.58 187.62 L168.71 187.45 L168.83 187.29 L168.96 187.15 L169.08 187.03 L169.10 187.01 L169.21 186.92 L169.33 186.81 L169.46 186.70 L169.58 186.60 L169.71 186.51 L169.83 186.42 L169.96 186.34 L170.08 186.28 L170.21 186.23 L170.33 186.20 L170.35 186.20 L170.46 186.18 L170.58 186.17 L170.71 186.15 L170.83 186.14 L170.96 186.13 L171.08 186.12 L171.21 186.11 L171.33 186.11 L171.46 186.10 L171.58 186.10 L171.60 186.10 L171.71 186.10 L171.83 186.11 L171.96 186.13 L172.08 186.15 L172.21 186.18 L172.33 186.22 L172.46 186.26 L172.58 186.30 L172.71 186.35 L172.83 186.41 L172.96 186.47 L173.08 186.53 L173.21 186.60 L173.33 186.67 L173.46 186.74 L173.58 186.82 L173.71 186.89 L173.83 186.97 L173.96 187.06 L174.08 187.14 L174.21 187.23 L174.33 187.31 L174.46 187.40 L174.58 187.49 L174.71 187.58 L174.83 187.66 L174.96 187.75 L175.08 187.83 L175.21 187.92 L175.33 188.00 L175.46 188.08 L175.58 188.16 L175.71 188.24 L175.83 188.31 L175.96 188.39 L176.08 188.45 L176.21 188.52 L176.33 188.58 L176.46 188.63 L176.58 188.69 L176.71 188.73 L176.83 188.77 L176.96 188.81 L177.08 188.84 L177.21 188.87 L177.33 188.88 L177.46 188.90 L177.58 188.90 L177.60 188.90 L177.71 188.90 L177.83 188.88 L177.96 188.86 L178.08 188.84 L178.21 188.80 L178.33 188.76 L178.46 188.71 L178.58 188.66 L178.71 188.60 L178.83 188.53 L178.96 188.46 L179.08 188.38 L179.21 188.30 L179.33 188.22 L179.46 188.13 L179.58 188.05 L179.71 187.95 L179.83 187.86 L179.96 187.77 L180.08 187.67 L180.21 187.57 L180.33 187.48 L180.46 187.38 L180.58 187.28 L180.71 187.19 L180.83 187.09 L180.96 187.00 L181.08 186.91 L181.21 186.82 L181.33 186.74 L181.46 186.66 L181.58 186.58 L181.71 186.50 L181.83 186.44 L181.96 186.37 L182.08 186.32 L182.21 186.26 L182.33 186.22 L182.46 186.18 L182.58 186.15 L182.71 186.12 L182.83 186.11 L182.96 186.10 L183.00 186.10 L183.08 186.10 L183.21 186.11 L183.33 186.13 L183.46 186.16 L183.58 186.19 L183.71 186.23 L183.83 186.28 L183.96 186.33 L184.08 186.39 L184.21 186.46 L184.33 186.53 L184.46 186.60 L184.58 186.68 L184.71 186.76 L184.83 186.85 L184.96 186.94 L185.08 187.03 L185.21 187.12 L185.33 187.21 L185.46 187.31 L185.58 187.41 L185.71 187.50 L185.83 187.60 L185.96 187.70 L186.08 187.79 L186.21 187.89 L186.33 187.98 L186.46 188.07 L186.58 188.16 L186.71 188.25 L186.83 188.33 L186.96 188.41 L187.08 188.48 L187.21 188.55 L187.33 188.61 L187.46 188.67 L187.58 188.73 L187.71 188.77 L187.83 188.81 L187.96 188.85 L188.08 188.87 L188.21 188.89 L188.33 188.90 L188.40 188.90 L188.46 188.90 L188.58 188.89 L188.71 188.88 L188.83 188.86 L188.96 188.83 L189.08 188.80 L189.21 188.77 L189.33 188.72 L189.46 188.68 L189.58 188.62 L189.71 188.57 L189.83 188.51 L189.96 188.45 L190.08 188.38 L190.21 188.31 L190.33 188.24 L190.46 188.17 L190.58 188.09 L190.71 188.01 L190.83 187.94 L190.96 187.86 L191.08 187.78 L191.21 187.70 L191.33 187.62 L191.46 187.54 L191.58 187.46 L191.71 187.38 L191.83 187.30 L191.96 187.23 L192.08 187.15 L192.21 187.08 L192.33 187.01 L192.46 186.95 L192.58 186.88 L192.71 186.83 L192.83 186.77 L192.96 186.72 L193.08 186.67 L193.21 186.63 L193.33 186.59 L193.46 186.56 L193.58 186.54 L193.71 186.52 L193.83 186.51 L193.96 186.50 L194.00 186.50 L194.08 186.50 L194.21 186.50 L194.33 186.51 L194.45 186.52 L194.58 186.53 L194.70 186.54 L194.83 186.55 L194.95 186.56 L195.08 186.58 L195.20 186.60 L195.25 186.60 L195.33 186.62 L195.45 186.66 L195.58 186.72 L195.70 186.80 L195.83 186.88 L195.95 186.98 L196.08 187.09 L196.20 187.20 L196.33 187.31 L196.45 187.42 L196.50 187.46 L196.58 187.54 L196.70 187.68 L196.83 187.85 L196.95 188.02 L197.08 188.20 L197.20 188.39 L197.33 188.58 L197.45 188.75 L197.58 188.92 L197.70 189.06 L197.75 189.11 L197.83 189.19 L197.95 189.32 L198.08 189.45 L198.20 189.59 L198.33 189.71 L198.45 189.83 L198.58 189.93 L198.70 190.01 L198.83 190.07 L198.95 190.10 L199.00 190.10 L199.08 190.10 L199.20 190.07 L199.33 190.03 L199.45 189.96 L199.58 189.89 L199.70 189.80 L199.83 189.71 L199.95 189.60 L200.08 189.49 L200.20 189.38 L200.33 189.28 L200.45 189.17 L200.50 189.13 L200.58 189.07 L200.70 188.95 L200.83 188.82 L200.95 188.68 L201.08 188.53 L201.20 188.38 L201.33 188.23 L201.45 188.08 L201.58 187.94 L201.70 187.80 L201.83 187.68 L201.95 187.57 L202.00 187.54 L202.08 187.48 L202.20 187.39 L202.33 187.30 L202.45 187.20 L202.58 187.12 L202.70 187.03 L202.83 186.96 L202.95 186.89 L203.08 186.83 L203.20 186.78 L203.33 186.74 L203.45 186.71 L203.50 186.70 L203.58 186.69 L203.70 186.68 L203.83 186.66 L203.95 186.65 L204.08 186.64 L204.20 186.63 L204.33 186.62 L204.45 186.62 L204.58 186.61 L204.70 186.60 L204.83 186.60 L204.95 186.60 L205.00 186.60 L205.08 186.60 L205.20 186.61 L205.33 186.63 L205.45 186.66 L205.58 186.70 L205.70 186.74 L205.83 186.80 L205.95 186.86 L206.08 186.92 L206.20 186.99 L206.33 187.06 L206.45 187.14 L206.58 187.23 L206.70 187.31 L206.83 187.40 L206.95 187.49 L207.08 187.58 L207.20 187.68 L207.33 187.77 L207.45 187.86 L207.58 187.96 L207.70 188.05 L207.83 188.14 L207.95 188.23 L208.08 188.31 L208.20 188.39 L208.33 188.47 L208.45 188.54 L208.58 188.61 L208.70 188.67 L208.83 188.73 L208.95 188.78 L209.08 188.82 L209.20 188.85 L209.33 188.88 L209.45 188.89 L209.58 188.90 L209.60 188.90 L209.70 188.90 L209.83 188.89 L209.95 188.89 L210.08 188.87 L210.20 188.86 L210.33 188.84 L210.45 188.82 L210.58 188.80 L210.70 188.77 L210.83 188.74 L210.95 188.71 L211.08 188.68 L211.20 188.65 L211.33 188.61 L211.45 188.57 L211.58 188.54 L211.70 188.50 L211.83 188.46 L211.95 188.42 L212.08 188.37 L212.20 188.33 L212.33 188.29 L212.45 188.25 L212.58 188.21 L212.70 188.17 L212.83 188.13 L212.95 188.09 L213.08 188.05 L213.20 188.01 L213.33 187.97 L213.45 187.94 L213.58 187.91 L213.70 187.87 L213.83 187.85 L213.95 187.82 L214.08 187.79 L214.20 187.77 L214.33 187.75 L214.45 187.73 L214.58 187.72 L214.70 187.71 L214.83 187.70 L214.95 187.70 L215.00 187.70 L215.08 187.70 L215.20 187.70 L215.33 187.71 L215.45 187.72 L215.58 187.72 L215.70 187.74 L215.83 187.75 L215.95 187.76 L216.08 187.78 L216.20 187.80 L216.25 187.80 L216.33 187.82 L216.45 187.86 L216.58 187.92 L216.70 187.99 L216.83 188.08 L216.95 188.18 L217.08 188.28 L217.20 188.39 L217.33 188.51 L217.45 188.62 L217.50 188.66 L217.58 188.74 L217.70 188.88 L217.83 189.04 L217.95 189.22 L218.08 189.40 L218.20 189.59 L218.33 189.77 L218.45 189.95 L218.58 190.11 L218.70 190.26 L218.75 190.31 L218.83 190.38 L218.95 190.52 L219.08 190.65 L219.20 190.78 L219.33 190.91 L219.45 191.03 L219.58 191.13 L219.70 191.21 L219.83 191.27 L219.95 191.30 L220.00 191.30 L220.08 191.29 L220.20 191.26 L220.33 191.21 L220.45 191.13 L220.58 191.04 L220.70 190.93 L220.83 190.82 L220.95 190.70 L221.08 190.58 L221.20 190.46 L221.25 190.42 L221.33 190.35 L221.45 190.21 L221.58 190.06 L221.70 189.90 L221.83 189.74 L221.95 189.57 L222.08 189.41 L222.20 189.26 L222.33 189.12 L222.45 189.00 L222.50 188.96 L222.58 188.90 L222.70 188.79 L222.83 188.69 L222.95 188.60 L223.08 188.50 L223.20 188.42 L223.33 188.35 L223.45 188.28 L223.58 188.23 L223.70 188.20 L223.75 188.19 L223.83 188.18 L223.95 188.17 L224.08 188.15 L224.20 188.14 L224.33 188.13 L224.45 188.12 L224.58 188.11 L224.70 188.11 L224.83 188.10 L224.95 188.10 L225.00 188.10 L225.08 188.10 L225.20 188.11 L225.33 188.12 L225.45 188.14 L225.58 188.16 L225.70 188.19 L225.83 188.22 L225.95 188.26 L226.08 188.31 L226.20 188.36 L226.33 188.42 L226.45 188.48 L226.58 188.55 L226.70 188.62 L226.83 188.70 L226.95 188.78 L227.08 188.87 L227.20 188.96 L227.33 189.06 L227.45 189.16 L227.58 189.27 L227.70 189.39 L227.83 189.50 L227.95 189.63 L228.08 189.76 L228.20 189.89 L228.33 190.03 L228.45 190.17 L228.58 190.32 L228.70 190.47 L228.83 190.62 L228.95 190.79 L229.08 190.95 L229.20 191.12 L229.33 191.30 L229.45 191.47 L229.58 191.66 L229.70 191.85 L229.83 192.04 L229.95 192.23 L230.08 192.44 L230.20 192.64 L230.33 192.85 L230.45 193.06 L230.58 193.28 L230.70 193.50" fill="none" stroke="#D95319" stroke-width="2.85" stroke-linejoin="round" stroke-linecap="butt"/>
<text x="50.90" y="237.70" font-size="16.00" font-weight="bold" fill="#000">(e)</text>
<text transform="translate(402.20 261.20) scale(0.930 1)" font-size="14.50" fill="#262626" text-anchor="middle">700</text>
<path d="M446.67 242.30 v-4.03 M446.67 185.70 v4.03" stroke="#262626" stroke-width="2.85" fill="none"/>
<text transform="translate(446.67 261.20) scale(0.930 1)" font-size="14.50" fill="#262626" text-anchor="middle">800</text>
<path d="M491.14 242.30 v-4.03 M491.14 185.70 v4.03" stroke="#262626" stroke-width="2.85" fill="none"/>
<text transform="translate(491.14 261.20) scale(0.930 1)" font-size="14.50" fill="#262626" text-anchor="middle">900</text>
<path d="M535.61 242.30 v-4.03 M535.61 185.70 v4.03" stroke="#262626" stroke-width="2.85" fill="none"/>
<text transform="translate(535.61 261.20) scale(0.930 1)" font-size="14.50" fill="#262626" text-anchor="middle">1000</text>
<path d="M580.08 242.30 v-4.03 M580.08 185.70 v4.03" stroke="#262626" stroke-width="2.85" fill="none"/>
<text transform="translate(580.08 261.20) scale(0.930 1)" font-size="14.50" fill="#262626" text-anchor="middle">1100</text>
<path d="M624.55 242.30 v-4.03 M624.55 185.70 v4.03" stroke="#262626" stroke-width="2.85" fill="none"/>
<text transform="translate(624.55 261.20) scale(0.930 1)" font-size="14.50" fill="#262626" text-anchor="middle">1200</text>
<text transform="translate(669.02 261.20) scale(0.930 1)" font-size="14.50" fill="#262626" text-anchor="middle">1300</text>
<path d="M402.20 214.00 h4.03 M669.00 214.00 h-4.03" stroke="#262626" stroke-width="2.85" fill="none"/>
<text transform="translate(397.60 191.30) scale(0.930 1)" font-size="14.50" fill="#262626" text-anchor="end">100</text>
<text transform="translate(397.60 219.60) scale(0.930 1)" font-size="14.50" fill="#262626" text-anchor="end">50</text>
<text transform="translate(397.60 247.90) scale(0.930 1)" font-size="14.50" fill="#262626" text-anchor="end">0</text>
<rect x="402.20" y="185.70" width="266.80" height="56.60" fill="none" stroke="#262626" stroke-width="2.85"/>
<path d="M535.00 210.70 L535.12 207.46 L535.25 204.50 L535.37 201.82 L535.50 199.41 L535.62 197.25 L535.75 195.32 L535.87 193.62 L536.00 192.13 L536.12 190.83 L536.25 189.72 L536.37 188.77 L536.50 187.99 L536.62 187.34 L536.75 186.83 L536.87 186.43 L537.00 186.13 L537.12 185.92 L537.25 185.79 L537.37 185.72 L537.50 185.70 L537.50 185.70 L537.62 186.04 L537.74 187.04 L537.87 188.58 L537.99 190.57 L538.12 192.87 L538.24 195.39 L538.37 198.01 L538.49 200.62 L538.62 203.10 L538.74 205.34 L538.75 205.46 L538.87 207.51 L538.99 209.85 L539.12 212.30 L539.24 214.79 L539.37 217.27 L539.49 219.67 L539.62 221.93 L539.74 223.98 L539.87 225.76 L539.99 227.21 L540.00 227.30 L540.12 228.42 L540.24 229.58 L540.36 230.69 L540.49 231.72 L540.61 232.68 L540.74 233.54 L540.86 234.30 L540.99 234.95 L541.11 235.47 L541.24 235.85 L541.25 235.88 L541.36 236.15 L541.49 236.43 L541.61 236.69 L541.74 236.93 L541.86 237.14 L541.99 237.33 L542.11 237.48 L542.24 237.60 L542.36 237.67 L542.49 237.70 L542.50 237.70 L542.61 237.67 L542.74 237.55 L542.86 237.36 L542.99 237.12 L543.11 236.81 L543.23 236.47 L543.36 236.09 L543.42 235.88 L543.48 235.66 L543.61 235.00 L543.73 234.12 L543.86 233.03 L543.98 231.77 L544.11 230.36 L544.23 228.83 L544.35 227.30 L544.36 227.20 L544.48 225.16 L544.61 222.55 L544.73 219.53 L544.86 216.26 L544.98 212.89 L545.11 209.57 L545.23 206.47 L545.28 205.46 L545.36 203.53 L545.48 200.18 L545.61 196.64 L545.73 193.19 L545.85 190.09 L545.98 187.64 L546.10 186.09 L546.20 185.70 L546.23 185.71 L546.35 185.90 L546.48 186.34 L546.60 187.04 L546.73 187.99 L546.85 189.18 L546.98 190.61 L547.10 192.27 L547.23 194.17 L547.35 196.29 L547.48 198.64 L547.50 199.10 L547.60 203.65 L547.73 213.71 L547.85 224.57 L547.98 231.79 L548.00 232.40 L548.10 234.10 L548.23 235.85 L548.35 237.23 L548.47 238.28 L548.60 239.05 L548.70 239.50 L548.72 239.59 L548.85 240.02 L548.97 240.40 L549.10 240.72 L549.22 241.00 L549.35 241.24 L549.47 241.43 L549.60 241.59 L549.70 241.70 L549.72 241.72 L549.85 241.84 L549.97 241.94 L550.10 242.04 L550.22 242.13 L550.35 242.20 L550.47 242.26 L550.60 242.29 L550.70 242.30 L550.72 242.30 L550.85 242.30 L550.97 242.30 L551.09 242.30 L551.22 242.30 L551.34 242.30 L551.47 242.30 L551.59 242.30 L551.72 242.30 L551.84 242.30 L551.97 242.30 L552.09 242.30 L552.22 242.30 L552.34 242.30 L552.47 242.30 L552.59 242.30 L552.72 242.30 L552.84 242.30 L552.97 242.30 L553.09 242.30 L553.22 242.30 L553.34 242.30 L553.47 242.30 L553.59 242.30 L553.72 242.30 L553.84 242.30 L553.96 242.30 L554.09 242.30 L554.21 242.30 L554.34 242.30 L554.46 242.30 L554.59 242.30 L554.71 242.30 L554.84 242.30 L554.96 242.30 L555.09 242.30 L555.21 242.30 L555.34 242.30 L555.46 242.30 L555.59 242.30 L555.71 242.30 L555.84 242.30 L555.96 242.30 L556.09 242.30 L556.21 242.30 L556.34 242.30 L556.46 242.30 L556.58 242.30 L556.71 242.30 L556.83 242.30 L556.96 242.30 L557.08 242.30 L557.21 242.30 L557.33 242.30 L557.46 242.30 L557.58 242.30 L557.71 242.30 L557.83 242.30 L557.96 242.30 L558.08 242.30 L558.21 242.30 L558.33 242.30 L558.46 242.30 L558.58 242.30 L558.71 242.30 L558.83 242.30 L558.96 242.30 L559.08 242.30 L559.20 242.30 L559.33 242.30 L559.45 242.30 L559.58 242.30 L559.70 242.30 L559.83 242.30 L559.95 242.30 L560.08 242.30 L560.20 242.30 L560.33 242.30 L560.45 242.30 L560.58 242.30 L560.70 242.30 L560.83 242.30 L560.95 242.30 L561.08 242.30 L561.20 242.30 L561.33 242.30 L561.45 242.30 L561.58 242.30 L561.70 242.30 L561.82 242.30 L561.95 242.30 L562.07 242.30 L562.20 242.30 L562.32 242.30 L562.45 242.30 L562.57 242.30 L562.70 242.30 L562.82 242.30 L562.95 242.30 L563.07 242.30 L563.20 242.30 L563.32 242.30 L563.45 242.30 L563.57 242.30 L563.70 242.30 L563.82 242.30 L563.95 242.30 L564.07 242.30 L564.20 242.30 L564.32 242.30 L564.45 242.30 L564.57 242.30 L564.69 242.30 L564.82 242.30 L564.94 242.30 L565.07 242.30 L565.19 242.30 L565.32 242.30 L565.44 242.30 L565.57 242.30 L565.69 242.30 L565.82 242.30 L565.94 242.30 L566.07 242.30 L566.19 242.30 L566.32 242.30 L566.44 242.30 L566.57 242.30 L566.69 242.30 L566.82 242.30 L566.94 242.30 L567.07 242.30 L567.19 242.30 L567.31 242.30 L567.44 242.30 L567.56 242.30 L567.69 242.30 L567.81 242.30 L567.90 242.30 L567.94 242.30 L568.06 242.23 L568.19 242.10 L568.31 241.89 L568.44 241.61 L568.55 241.30 L568.56 241.26 L568.69 240.40 L568.81 238.62 L568.90 236.70 L568.94 235.13 L569.06 221.72 L569.10 215.70 L569.19 186.98 L569.20 185.70 L569.30 215.70 L569.31 217.48 L569.44 233.15 L569.50 236.70 L569.56 238.08 L569.69 240.10 L569.81 241.14 L569.85 241.30 L569.93 241.54 L570.06 241.83 L570.18 242.06 L570.31 242.21 L570.43 242.29 L570.50 242.30 L570.56 242.30 L570.68 242.30 L570.81 242.30 L570.93 242.30 L571.06 242.30 L571.18 242.30 L571.31 242.30 L571.43 242.30 L571.56 242.30 L571.68 242.30 L571.81 242.30 L571.93 242.30 L572.06 242.30 L572.18 242.30 L572.31 242.30 L572.43 242.30 L572.55 242.30 L572.68 242.30 L572.80 242.30 L572.93 242.30 L573.05 242.30 L573.18 242.30 L573.30 242.30 L573.43 242.30 L573.55 242.30 L573.68 242.30 L573.80 242.30 L573.93 242.30 L574.05 242.30 L574.18 242.30 L574.30 242.30 L574.43 242.30 L574.55 242.30 L574.68 242.30 L574.80 242.30 L574.93 242.30 L575.05 242.30 L575.18 242.30 L575.30 242.30 L575.42 242.30 L575.55 242.30 L575.67 242.30 L575.80 242.30 L575.92 242.30 L576.05 242.30 L576.17 242.30 L576.30 242.30 L576.42 242.30 L576.55 242.30 L576.67 242.30 L576.80 242.30 L576.92 242.30 L577.05 242.30 L577.17 242.30 L577.30 242.30 L577.42 242.30 L577.55 242.30 L577.67 242.30 L577.80 242.30 L577.92 242.30 L578.04 242.30 L578.17 242.30 L578.29 242.30 L578.42 242.30 L578.54 242.30 L578.67 242.30 L578.79 242.30 L578.92 242.30 L579.04 242.30 L579.17 242.30 L579.29 242.30 L579.42 242.30 L579.54 242.30 L579.67 242.30 L579.79 242.30 L579.92 242.30 L580.04 242.30 L580.17 242.30 L580.29 242.30 L580.42 242.30 L580.54 242.30 L580.66 242.30 L580.79 242.30 L580.91 242.30 L581.04 242.30 L581.16 242.30 L581.29 242.30 L581.41 242.30 L581.54 242.30 L581.66 242.30 L581.79 242.30 L581.91 242.30 L582.04 242.30 L582.16 242.30 L582.29 242.30 L582.41 242.30 L582.54 242.30 L582.66 242.30 L582.79 242.30 L582.91 242.30 L583.04 242.30 L583.16 242.30 L583.28 242.30 L583.40 242.30 L583.41 242.30 L583.53 242.29 L583.66 242.25 L583.78 242.19 L583.91 242.11 L584.03 242.02 L584.16 241.92 L584.28 241.81 L584.40 241.70 L584.41 241.69 L584.53 241.56 L584.66 241.38 L584.78 241.17 L584.91 240.92 L585.03 240.62 L585.16 240.29 L585.28 239.91 L585.40 239.50 L585.41 239.48 L585.53 238.96 L585.66 238.29 L585.78 237.41 L585.91 236.29 L586.03 234.88 L586.15 233.13 L586.20 232.40 L586.28 229.43 L586.40 220.08 L586.53 208.97 L586.65 200.61 L586.70 199.10 L586.78 197.57 L586.90 195.32 L587.03 193.30 L587.15 191.51 L587.28 189.94 L587.40 188.62 L587.53 187.54 L587.65 186.70 L587.78 186.11 L587.90 185.78 L588.00 185.70 L588.03 185.71 L588.15 186.08 L588.28 186.88 L588.40 188.03 L588.53 189.43 L588.65 191.00 L588.77 192.64 L588.90 194.25 L588.95 194.87 L589.02 195.83 L589.15 197.65 L589.27 199.69 L589.40 201.85 L589.52 204.08 L589.65 206.29 L589.77 208.41 L589.90 210.36 L589.90 210.40 L590.02 212.24 L590.15 214.15 L590.27 216.05 L590.40 217.89 L590.52 219.61 L590.65 221.15 L590.77 222.48 L590.85 223.18 L590.90 223.55 L591.02 224.58 L591.15 225.59 L591.27 226.52 L591.39 227.35 L591.52 228.01 L591.64 228.48 L591.77 228.69 L591.80 228.70 L591.89 228.66 L592.02 228.50 L592.14 228.23 L592.27 227.86 L592.39 227.41 L592.52 226.88 L592.64 226.30 L592.77 225.66 L592.89 225.00 L593.02 224.32 L593.14 223.64 L593.22 223.18 L593.27 222.95 L593.39 222.17 L593.52 221.27 L593.64 220.27 L593.77 219.18 L593.89 218.03 L594.01 216.82 L594.14 215.57 L594.26 214.30 L594.39 213.03 L594.51 211.75 L594.64 210.51 L594.65 210.40 L594.76 209.24 L594.89 207.88 L595.01 206.46 L595.14 205.00 L595.26 203.51 L595.39 202.03 L595.51 200.57 L595.64 199.16 L595.76 197.81 L595.89 196.55 L596.01 195.41 L596.08 194.87 L596.14 194.37 L596.26 193.31 L596.39 192.22 L596.51 191.13 L596.64 190.07 L596.76 189.06 L596.88 188.13 L597.01 187.32 L597.13 186.64 L597.26 186.12 L597.38 185.80 L597.50 185.70 L597.51 185.70 L597.63 185.71 L597.76 185.72 L597.88 185.76 L598.01 185.81 L598.13 185.87 L598.26 185.96 L598.38 186.07 L598.51 186.21 L598.63 186.37 L598.76 186.57 L598.88 186.79 L599.01 187.05 L599.13 187.34 L599.26 187.67 L599.38 188.04 L599.50 188.45 L599.63 188.91 L599.75 189.41 L599.88 189.96 L600.00 190.56 L600.13 191.21 L600.25 191.92 L600.38 192.68 L600.50 193.50 L600.63 194.38 L600.75 195.33 L600.88 196.34 L601.00 197.42 L601.13 198.56 L601.25 199.78 L601.38 201.07 L601.50 202.44 L601.63 203.88 L601.75 205.41 L601.88 207.01 L602.00 208.70" fill="none" stroke="#0072BD" stroke-width="2.85" stroke-linejoin="round" stroke-linecap="butt"/>
<path d="M410.30 186.20 L410.42 189.29 L410.55 192.23 L410.67 195.01 L410.80 197.65 L410.92 200.15 L411.05 202.51 L411.17 204.74 L411.30 206.83 L411.42 208.80 L411.55 210.64 L411.67 212.35 L411.80 213.95 L411.92 215.44 L412.05 216.82 L412.17 218.09 L412.30 219.25 L412.42 220.32 L412.55 221.29 L412.67 222.16 L412.80 222.95 L412.92 223.65 L413.05 224.27 L413.17 224.81 L413.30 225.27 L413.42 225.66 L413.55 225.98 L413.67 226.24 L413.80 226.44 L413.92 226.58 L414.05 226.66 L414.17 226.70 L414.20 226.70 L414.30 226.56 L414.42 226.02 L414.55 225.15 L414.67 224.03 L414.80 222.76 L414.92 221.41 L415.02 220.31 L415.05 220.06 L415.17 218.46 L415.30 216.51 L415.42 214.34 L415.55 212.03 L415.67 209.70 L415.80 207.43 L415.85 206.53 L415.92 205.27 L416.05 202.96 L416.17 200.58 L416.30 198.24 L416.42 196.03 L416.55 194.07 L416.67 192.47 L416.68 192.44 L416.80 191.06 L416.92 189.65 L417.05 188.32 L417.17 187.18 L417.30 186.31 L417.42 185.80 L417.50 185.70 L417.55 185.81 L417.67 187.12 L417.80 189.60 L417.92 192.89 L418.05 196.64 L418.17 200.50 L418.30 204.09 L418.35 205.46 L418.42 207.28 L418.55 210.75 L418.67 214.40 L418.80 218.05 L418.92 221.47 L419.05 224.48 L419.17 226.86 L419.20 227.30 L419.30 228.67 L419.42 230.34 L419.55 231.88 L419.67 233.23 L419.80 234.37 L419.92 235.26 L420.05 235.87 L420.05 235.88 L420.17 236.29 L420.30 236.69 L420.42 237.03 L420.55 237.32 L420.67 237.53 L420.80 237.66 L420.90 237.70 L420.92 237.70 L421.05 237.61 L421.17 237.39 L421.30 237.07 L421.42 236.67 L421.55 236.20 L421.62 235.88 L421.67 235.66 L421.80 234.79 L421.92 233.55 L422.04 232.01 L422.17 230.21 L422.29 228.23 L422.35 227.30 L422.42 225.94 L422.54 222.74 L422.67 218.86 L422.79 214.62 L422.92 210.34 L423.04 206.35 L423.07 205.46 L423.17 202.50 L423.29 198.07 L423.42 193.60 L423.54 189.67 L423.67 186.84 L423.79 185.70 L423.80 185.70 L423.92 185.81 L424.04 186.15 L424.17 186.71 L424.29 187.49 L424.42 188.49 L424.54 189.69 L424.67 191.09 L424.79 192.68 L424.92 194.46 L425.04 196.41 L425.17 198.54 L425.20 199.10 L425.29 202.26 L425.42 209.84 L425.54 219.01 L425.67 227.30 L425.79 232.28 L425.80 232.40 L425.92 234.30 L426.04 235.98 L426.17 237.33 L426.29 238.37 L426.42 239.14 L426.50 239.50 L426.54 239.66 L426.67 240.08 L426.79 240.45 L426.92 240.77 L427.04 241.04 L427.17 241.27 L427.29 241.46 L427.42 241.62 L427.50 241.70 L427.54 241.74 L427.67 241.85 L427.79 241.96 L427.92 242.06 L428.04 242.15 L428.17 242.21 L428.29 242.27 L428.42 242.29 L428.50 242.30 L428.54 242.30 L428.67 242.30 L428.79 242.30 L428.92 242.30 L429.04 242.30 L429.17 242.30 L429.29 242.30 L429.42 242.30 L429.54 242.30 L429.67 242.30 L429.79 242.30 L429.92 242.30 L430.04 242.30 L430.17 242.30 L430.29 242.30 L430.42 242.30 L430.54 242.30 L430.67 242.30 L430.79 242.30 L430.92 242.30 L431.04 242.30 L431.17 242.30 L431.29 242.30 L431.42 242.30 L431.54 242.30 L431.67 242.30 L431.79 242.30 L431.92 242.30 L432.04 242.30 L432.17 242.30 L432.29 242.30 L432.42 242.30 L432.54 242.30 L432.67 242.30 L432.79 242.30 L432.92 242.30 L433.04 242.30 L433.17 242.30 L433.29 242.30 L433.42 242.30 L433.54 242.30 L433.66 242.30 L433.79 242.30 L433.91 242.30 L434.04 242.30 L434.16 242.30 L434.29 242.30 L434.41 242.30 L434.54 242.30 L434.66 242.30 L434.79 242.30 L434.91 242.30 L435.04 242.30 L435.16 242.30 L435.29 242.30 L435.41 242.30 L435.54 242.30 L435.66 242.30 L435.79 242.30 L435.91 242.30 L436.04 242.30 L436.16 242.30 L436.29 242.30 L436.41 242.30 L436.54 242.30 L436.66 242.30 L436.79 242.30 L436.91 242.30 L437.04 242.30 L437.16 242.30 L437.29 242.30 L437.41 242.30 L437.54 242.30 L437.66 242.30 L437.79 242.30 L437.91 242.30 L438.04 242.30 L438.16 242.30 L438.29 242.30 L438.41 242.30 L438.54 242.30 L438.66 242.30 L438.79 242.30 L438.91 242.30 L439.04 242.30 L439.16 242.30 L439.29 242.30 L439.41 242.30 L439.54 242.30 L439.66 242.30 L439.79 242.30 L439.90 242.30 L439.91 242.30 L440.04 242.25 L440.16 242.13 L440.29 241.94 L440.41 241.67 L440.54 241.34 L440.55 241.30 L440.66 240.65 L440.79 239.06 L440.90 236.70 L440.91 236.33 L441.04 225.13 L441.10 215.70 L441.16 194.72 L441.20 186.70 L441.29 212.66 L441.30 215.70 L441.41 230.87 L441.50 236.70 L441.54 237.57 L441.66 239.79 L441.79 241.01 L441.85 241.30 L441.91 241.48 L442.04 241.78 L442.16 242.02 L442.29 242.19 L442.41 242.28 L442.50 242.30 L442.54 242.30 L442.66 242.30 L442.79 242.30 L442.91 242.30 L443.04 242.30 L443.16 242.30 L443.29 242.30 L443.41 242.30 L443.54 242.30 L443.66 242.30 L443.79 242.30 L443.91 242.30 L444.04 242.30 L444.16 242.30 L444.29 242.30 L444.41 242.30 L444.54 242.30 L444.66 242.30 L444.79 242.30 L444.91 242.30 L445.04 242.30 L445.16 242.30 L445.28 242.30 L445.41 242.30 L445.53 242.30 L445.66 242.30 L445.78 242.30 L445.91 242.30 L446.03 242.30 L446.16 242.30 L446.28 242.30 L446.41 242.30 L446.53 242.30 L446.66 242.30 L446.78 242.30 L446.91 242.30 L447.03 242.30 L447.16 242.30 L447.28 242.30 L447.41 242.30 L447.53 242.30 L447.66 242.30 L447.78 242.30 L447.91 242.30 L448.03 242.30 L448.16 242.30 L448.28 242.30 L448.41 242.30 L448.53 242.30 L448.66 242.30 L448.78 242.30 L448.91 242.30 L449.03 242.30 L449.16 242.30 L449.28 242.30 L449.41 242.30 L449.53 242.30 L449.66 242.30 L449.78 242.30 L449.91 242.30 L450.03 242.30 L450.16 242.30 L450.28 242.30 L450.41 242.30 L450.53 242.30 L450.66 242.30 L450.78 242.30 L450.91 242.30 L451.03 242.30 L451.16 242.30 L451.28 242.30 L451.40 242.30 L451.41 242.30 L451.53 242.29 L451.66 242.25 L451.78 242.19 L451.91 242.11 L452.03 242.02 L452.16 241.92 L452.28 241.81 L452.40 241.70 L452.41 241.69 L452.53 241.56 L452.66 241.39 L452.78 241.18 L452.91 240.94 L453.03 240.65 L453.16 240.31 L453.28 239.92 L453.40 239.50 L453.41 239.48 L453.53 238.87 L453.66 237.99 L453.78 236.83 L453.91 235.35 L454.03 233.55 L454.10 232.40 L454.16 230.88 L454.28 224.40 L454.41 215.60 L454.53 206.80 L454.66 200.37 L454.70 199.10 L454.78 197.41 L454.91 194.97 L455.03 192.75 L455.16 190.77 L455.28 189.08 L455.41 187.70 L455.53 186.66 L455.66 185.98 L455.78 185.71 L455.80 185.70 L455.91 186.24 L456.03 188.00 L456.16 190.53 L456.28 193.35 L456.35 194.87 L456.41 196.12 L456.53 199.47 L456.66 203.25 L456.78 207.06 L456.90 210.40 L456.90 210.52 L457.03 213.80 L457.15 217.07 L457.28 220.05 L457.40 222.49 L457.45 223.18 L457.53 224.31 L457.65 226.04 L457.78 227.49 L457.90 228.45 L458.00 228.70 L458.03 228.69 L458.15 228.47 L458.28 227.98 L458.40 227.29 L458.53 226.43 L458.65 225.45 L458.78 224.41 L458.90 223.36 L458.93 223.18 L459.03 222.21 L459.15 220.78 L459.28 219.14 L459.40 217.33 L459.53 215.42 L459.65 213.45 L459.78 211.49 L459.85 210.40 L459.90 209.56 L460.03 207.47 L460.15 205.24 L460.28 202.95 L460.40 200.68 L460.53 198.52 L460.65 196.54 L460.77 194.87 L460.78 194.83 L460.90 193.21 L461.03 191.52 L461.15 189.88 L461.28 188.38 L461.40 187.12 L461.53 186.21 L461.65 185.74 L461.70 185.70 L461.78 185.70 L461.90 185.73 L462.03 185.77 L462.15 185.84 L462.28 185.92 L462.40 186.02 L462.53 186.13 L462.65 186.25 L462.78 186.39 L462.80 186.42 L462.90 186.60 L463.03 186.98 L463.15 187.50 L463.28 188.15 L463.40 188.89 L463.53 189.71 L463.65 190.58 L463.78 191.47 L463.90 192.35 L463.90 192.36 L464.03 193.36 L464.15 194.57 L464.28 195.91 L464.40 197.34 L464.53 198.80 L464.65 200.24 L464.78 201.60 L464.90 202.82 L465.00 203.66 L465.03 203.86 L465.15 204.88 L465.28 205.94 L465.40 206.98 L465.53 207.97 L465.65 208.85 L465.78 209.59 L465.90 210.14 L466.03 210.45 L466.10 210.50 L466.15 210.49 L466.28 210.40 L466.40 210.21 L466.53 209.91 L466.65 209.51 L466.78 208.99 L466.90 208.36 L467.03 207.61 L467.15 206.74 L467.28 205.75 L467.40 204.63 L467.53 203.37 L467.65 201.99 L467.78 200.47 L467.90 198.81 L468.03 197.00 L468.15 195.05 L468.28 192.95 L468.40 190.70" fill="none" stroke="#D95319" stroke-width="2.85" stroke-linejoin="round" stroke-linecap="butt"/>
<text x="406.10" y="237.70" font-size="16.00" font-weight="bold" fill="#000">(f)</text>
<text transform="translate(49.00 348.50) scale(0.930 1)" font-size="14.50" fill="#262626" text-anchor="middle">600</text>
<path d="M137.80 329.60 v-4.03 M137.80 273.00 v4.03" stroke="#262626" stroke-width="2.85" fill="none"/>
<text transform="translate(137.80 348.50) scale(0.930 1)" font-size="14.50" fill="#262626" text-anchor="middle">800</text>
<path d="M226.60 329.60 v-4.03 M226.60 273.00 v4.03" stroke="#262626" stroke-width="2.85" fill="none"/>
<text transform="translate(226.60 348.50) scale(0.930 1)" font-size="14.50" fill="#262626" text-anchor="middle">1000</text>
<text transform="translate(315.40 348.50) scale(0.930 1)" font-size="14.50" fill="#262626" text-anchor="middle">1200</text>
<path d="M49.00 301.30 h4.03 M315.40 301.30 h-4.03" stroke="#262626" stroke-width="2.85" fill="none"/>
<text transform="translate(44.40 278.60) scale(0.930 1)" font-size="14.50" fill="#262626" text-anchor="end">100</text>
<text transform="translate(44.40 306.90) scale(0.930 1)" font-size="14.50" fill="#262626" text-anchor="end">50</text>
<text transform="translate(44.40 335.20) scale(0.930 1)" font-size="14.50" fill="#262626" text-anchor="end">0</text>
<rect x="49.00" y="273.00" width="266.40" height="56.60" fill="none" stroke="#262626" stroke-width="2.85"/>
<path d="M204.50 273.00 L204.62 275.56 L204.75 278.05 L204.87 280.49 L205.00 282.86 L205.12 285.17 L205.25 287.42 L205.37 289.60 L205.50 291.72 L205.62 293.78 L205.75 295.77 L205.87 297.70 L206.00 299.56 L206.12 301.36 L206.25 303.09 L206.37 304.74 L206.50 306.34 L206.62 307.86 L206.75 309.31 L206.87 310.70 L207.00 312.01 L207.12 313.25 L207.25 314.42 L207.37 315.52 L207.50 316.55 L207.62 317.50 L207.75 318.38 L207.87 319.18 L208.00 319.91 L208.12 320.56 L208.24 321.14 L208.37 321.64 L208.49 322.06 L208.62 322.41 L208.74 322.67 L208.87 322.86 L208.99 322.97 L209.10 323.00 L209.12 323.00 L209.24 322.97 L209.37 322.88 L209.49 322.76 L209.62 322.59 L209.74 322.39 L209.87 322.16 L209.99 321.91 L210.12 321.63 L210.24 321.33 L210.28 321.25 L210.37 320.98 L210.49 320.49 L210.62 319.85 L210.74 319.09 L210.87 318.22 L210.99 317.24 L211.12 316.18 L211.24 315.04 L211.37 313.84 L211.45 313.00 L211.49 312.57 L211.62 310.98 L211.74 309.05 L211.86 306.86 L211.99 304.47 L212.11 301.96 L212.24 299.40 L212.36 296.88 L212.49 294.45 L212.61 292.19 L212.62 292.00 L212.74 289.93 L212.86 287.40 L212.99 284.73 L213.11 282.06 L213.24 279.51 L213.36 277.20 L213.49 275.28 L213.61 273.87 L213.74 273.10 L213.80 273.00 L213.86 273.14 L213.99 274.18 L214.11 276.07 L214.24 278.61 L214.36 281.61 L214.49 284.86 L214.61 288.16 L214.74 291.31 L214.85 293.90 L214.86 294.12 L214.99 296.91 L215.11 299.93 L215.23 303.06 L215.36 306.19 L215.48 309.21 L215.61 312.00 L215.73 314.46 L215.86 316.46 L215.90 317.00 L215.98 318.03 L216.11 319.50 L216.23 320.87 L216.36 322.14 L216.48 323.28 L216.61 324.28 L216.73 325.10 L216.86 325.74 L216.95 326.07 L216.98 326.17 L217.11 326.54 L217.23 326.87 L217.36 327.18 L217.48 327.45 L217.61 327.67 L217.73 327.84 L217.86 327.95 L217.98 328.00 L218.00 328.00 L218.11 327.94 L218.23 327.72 L218.36 327.38 L218.48 326.93 L218.61 326.40 L218.68 326.07 L218.73 325.76 L218.85 324.71 L218.98 323.22 L219.10 321.38 L219.23 319.25 L219.35 317.00 L219.35 316.92 L219.48 313.81 L219.60 309.69 L219.73 304.97 L219.85 300.09 L219.98 295.47 L220.02 293.90 L220.10 291.14 L220.23 286.14 L220.35 281.08 L220.48 276.71 L220.60 273.79 L220.70 273.00 L220.73 273.00 L220.85 273.15 L220.98 273.49 L221.10 274.02 L221.23 274.74 L221.35 275.64 L221.48 276.73 L221.60 277.99 L221.73 279.42 L221.85 281.03 L221.98 282.80 L222.10 284.74 L222.20 286.40 L222.23 286.95 L222.35 292.56 L222.47 301.15 L222.60 310.25 L222.72 317.38 L222.80 319.70 L222.85 320.53 L222.97 322.39 L223.10 323.92 L223.22 325.13 L223.35 326.05 L223.47 326.69 L223.50 326.80 L223.60 327.15 L223.72 327.55 L223.85 327.90 L223.97 328.19 L224.10 328.45 L224.22 328.66 L224.35 328.83 L224.47 328.97 L224.50 329.00 L224.60 329.09 L224.72 329.20 L224.85 329.31 L224.97 329.40 L225.10 329.48 L225.22 329.54 L225.35 329.58 L225.47 329.60 L225.50 329.60 L225.60 329.60 L225.72 329.60 L225.85 329.60 L225.97 329.60 L226.09 329.60 L226.22 329.60 L226.34 329.60 L226.47 329.60 L226.59 329.60 L226.72 329.60 L226.84 329.60 L226.97 329.60 L227.09 329.60 L227.22 329.60 L227.34 329.60 L227.47 329.60 L227.59 329.60 L227.72 329.60 L227.84 329.60 L227.97 329.60 L228.09 329.60 L228.22 329.60 L228.34 329.60 L228.47 329.60 L228.59 329.60 L228.72 329.60 L228.84 329.60 L228.97 329.60 L229.09 329.60 L229.22 329.60 L229.34 329.60 L229.47 329.60 L229.59 329.60 L229.71 329.60 L229.84 329.60 L229.96 329.60 L230.09 329.60 L230.21 329.60 L230.34 329.60 L230.46 329.60 L230.59 329.60 L230.71 329.60 L230.84 329.60 L230.96 329.60 L231.09 329.60 L231.21 329.60 L231.34 329.60 L231.46 329.60 L231.59 329.60 L231.71 329.60 L231.84 329.60 L231.96 329.60 L232.09 329.60 L232.21 329.60 L232.34 329.60 L232.46 329.60 L232.59 329.60 L232.71 329.60 L232.84 329.60 L232.96 329.60 L233.08 329.60 L233.21 329.60 L233.33 329.60 L233.46 329.60 L233.58 329.60 L233.71 329.60 L233.83 329.60 L233.96 329.60 L234.08 329.60 L234.21 329.60 L234.33 329.60 L234.46 329.60 L234.58 329.60 L234.71 329.60 L234.83 329.60 L234.96 329.60 L235.08 329.60 L235.21 329.60 L235.33 329.60 L235.46 329.60 L235.58 329.60 L235.71 329.60 L235.83 329.60 L235.96 329.60 L236.08 329.60 L236.21 329.60 L236.33 329.60 L236.46 329.60 L236.58 329.60 L236.70 329.60 L236.83 329.60 L236.95 329.60 L237.08 329.60 L237.20 329.60 L237.33 329.60 L237.45 329.60 L237.58 329.60 L237.70 329.60 L237.83 329.60 L237.95 329.60 L238.08 329.60 L238.20 329.60 L238.33 329.60 L238.45 329.60 L238.58 329.60 L238.70 329.60 L238.83 329.60 L238.95 329.60 L239.08 329.60 L239.20 329.60 L239.33 329.60 L239.45 329.60 L239.58 329.60 L239.70 329.60 L239.83 329.60 L239.95 329.60 L240.08 329.60 L240.20 329.60 L240.32 329.60 L240.45 329.60 L240.57 329.60 L240.70 329.60 L240.82 329.60 L240.95 329.60 L241.07 329.60 L241.20 329.60 L241.32 329.60 L241.45 329.60 L241.57 329.60 L241.70 329.60 L241.82 329.60 L241.95 329.60 L242.07 329.60 L242.20 329.60 L242.32 329.60 L242.45 329.60 L242.57 329.60 L242.70 329.60 L242.82 329.60 L242.95 329.60 L243.07 329.60 L243.20 329.60 L243.32 329.60 L243.45 329.60 L243.57 329.60 L243.70 329.60 L243.82 329.60 L243.94 329.60 L244.07 329.60 L244.19 329.60 L244.32 329.60 L244.44 329.60 L244.57 329.60 L244.69 329.60 L244.82 329.60 L244.94 329.60 L245.07 329.60 L245.19 329.60 L245.32 329.60 L245.44 329.60 L245.57 329.60 L245.69 329.60 L245.82 329.60 L245.94 329.60 L246.07 329.60 L246.19 329.60 L246.20 329.60 L246.32 329.57 L246.44 329.46 L246.57 329.28 L246.69 329.02 L246.82 328.70 L246.85 328.60 L246.94 328.12 L247.07 326.70 L247.19 324.24 L247.20 324.00 L247.32 315.25 L247.40 303.00 L247.44 290.13 L247.50 273.00 L247.56 291.99 L247.60 303.00 L247.69 315.79 L247.80 324.00 L247.81 324.35 L247.94 326.77 L248.06 328.16 L248.15 328.60 L248.19 328.71 L248.31 329.03 L248.44 329.28 L248.56 329.46 L248.69 329.57 L248.80 329.60 L248.81 329.60 L248.94 329.60 L249.06 329.60 L249.19 329.60 L249.31 329.60 L249.44 329.60 L249.56 329.60 L249.69 329.60 L249.81 329.60 L249.94 329.60 L250.06 329.60 L250.19 329.60 L250.31 329.60 L250.44 329.60 L250.56 329.60 L250.69 329.60 L250.81 329.60 L250.93 329.60 L251.06 329.60 L251.18 329.60 L251.31 329.60 L251.43 329.60 L251.56 329.60 L251.68 329.60 L251.81 329.60 L251.93 329.60 L252.06 329.60 L252.18 329.60 L252.31 329.60 L252.43 329.60 L252.56 329.60 L252.68 329.60 L252.81 329.60 L252.93 329.60 L253.06 329.60 L253.18 329.60 L253.31 329.60 L253.43 329.60 L253.56 329.60 L253.68 329.60 L253.81 329.60 L253.93 329.60 L254.06 329.60 L254.18 329.60 L254.31 329.60 L254.43 329.60 L254.55 329.60 L254.68 329.60 L254.80 329.60 L254.93 329.60 L255.05 329.60 L255.18 329.60 L255.30 329.60 L255.43 329.60 L255.55 329.60 L255.68 329.60 L255.80 329.60 L255.93 329.60 L256.05 329.60 L256.18 329.60 L256.30 329.60 L256.43 329.60 L256.55 329.60 L256.68 329.60 L256.80 329.60 L256.93 329.60 L257.05 329.60 L257.18 329.60 L257.30 329.60 L257.43 329.60 L257.55 329.60 L257.68 329.60 L257.80 329.60 L257.93 329.60 L258.05 329.60 L258.17 329.60 L258.30 329.60 L258.42 329.60 L258.55 329.60 L258.67 329.60 L258.80 329.60 L258.92 329.60 L259.05 329.60 L259.17 329.60 L259.30 329.60 L259.42 329.60 L259.55 329.60 L259.67 329.60 L259.80 329.60 L259.92 329.60 L260.05 329.60 L260.17 329.60 L260.20 329.60 L260.30 329.59 L260.42 329.56 L260.55 329.51 L260.67 329.44 L260.80 329.35 L260.92 329.26 L261.05 329.15 L261.17 329.03 L261.20 329.00 L261.30 328.89 L261.42 328.71 L261.55 328.48 L261.67 328.20 L261.79 327.86 L261.92 327.47 L262.04 327.02 L262.10 326.80 L262.17 326.49 L262.29 325.77 L262.42 324.79 L262.54 323.51 L262.67 321.87 L262.79 319.82 L262.80 319.70 L262.92 314.16 L263.04 303.79 L263.17 293.11 L263.29 286.56 L263.30 286.40 L263.42 284.15 L263.54 281.97 L263.67 280.01 L263.79 278.29 L263.92 276.80 L264.04 275.55 L264.17 274.55 L264.29 273.79 L264.42 273.28 L264.54 273.03 L264.60 273.00 L264.67 273.15 L264.79 274.20 L264.92 276.03 L265.04 278.41 L265.17 281.11 L265.29 283.88 L265.41 286.51 L265.45 287.19 L265.54 288.98 L265.66 291.73 L265.79 294.65 L265.91 297.62 L266.04 300.49 L266.16 303.12 L266.29 305.36 L266.30 305.55 L266.41 307.32 L266.54 309.20 L266.66 310.98 L266.79 312.61 L266.91 314.04 L267.04 315.24 L267.15 316.08 L267.16 316.15 L267.29 316.94 L267.41 317.69 L267.54 318.37 L267.66 318.95 L267.79 319.38 L267.91 319.64 L268.00 319.70 L268.04 319.70 L268.16 319.63 L268.29 319.47 L268.41 319.25 L268.54 318.95 L268.66 318.61 L268.78 318.21 L268.91 317.78 L269.03 317.32 L269.16 316.83 L269.28 316.34 L269.35 316.08 L269.41 315.82 L269.53 315.21 L269.66 314.48 L269.78 313.65 L269.91 312.74 L270.03 311.74 L270.16 310.68 L270.28 309.56 L270.41 308.40 L270.53 307.20 L270.66 305.97 L270.70 305.55 L270.78 304.69 L270.91 303.23 L271.03 301.63 L271.16 299.90 L271.28 298.09 L271.41 296.23 L271.53 294.36 L271.66 292.51 L271.78 290.71 L271.91 289.01 L272.03 287.43 L272.05 287.19 L272.16 285.89 L272.28 284.22 L272.40 282.48 L272.53 280.73 L272.65 279.02 L272.78 277.41 L272.90 275.97 L273.03 274.75 L273.15 273.81 L273.28 273.21 L273.40 273.00 L273.40 273.00 L273.53 273.00 L273.65 273.02 L273.78 273.05 L273.90 273.12 L274.03 273.23 L274.15 273.39 L274.28 273.60 L274.40 273.88 L274.53 274.25 L274.65 274.69 L274.78 275.24 L274.90 275.89 L275.03 276.65 L275.15 277.54 L275.28 278.56 L275.40 279.73 L275.53 281.04 L275.65 282.52 L275.78 284.17 L275.90 286.00" fill="none" stroke="#0072BD" stroke-width="2.85" stroke-linejoin="round" stroke-linecap="butt"/>
<path d="M93.00 315.00 L93.12 316.19 L93.25 317.29 L93.37 318.30 L93.50 319.21 L93.62 320.04 L93.75 320.78 L93.87 321.42 L94.00 321.97 L94.12 322.44 L94.25 322.81 L94.37 323.09 L94.50 323.28 L94.62 323.38 L94.70 323.40 L94.75 323.39 L94.87 323.29 L95.00 323.08 L95.12 322.79 L95.25 322.43 L95.37 322.01 L95.47 321.64 L95.50 321.55 L95.62 320.84 L95.75 319.81 L95.87 318.50 L96.00 316.96 L96.12 315.24 L96.25 313.37 L96.25 313.32 L96.37 311.01 L96.50 307.88 L96.62 304.25 L96.75 300.38 L96.87 296.52 L97.00 292.92 L97.03 292.15 L97.12 289.44 L97.25 285.45 L97.37 281.38 L97.50 277.67 L97.62 274.78 L97.75 273.18 L97.80 273.00 L97.87 273.36 L97.99 275.56 L98.12 279.22 L98.24 283.74 L98.37 288.52 L98.49 292.94 L98.53 293.90 L98.62 296.93 L98.74 301.35 L98.87 305.90 L98.99 310.23 L99.12 314.01 L99.24 316.88 L99.25 317.00 L99.37 319.07 L99.49 321.07 L99.62 322.84 L99.74 324.32 L99.87 325.44 L99.97 326.07 L99.99 326.15 L100.12 326.67 L100.24 327.13 L100.37 327.52 L100.49 327.80 L100.62 327.97 L100.70 328.00 L100.74 327.99 L100.87 327.84 L100.99 327.54 L101.12 327.11 L101.24 326.59 L101.35 326.07 L101.37 325.99 L101.49 325.04 L101.62 323.60 L101.74 321.75 L101.87 319.59 L101.99 317.19 L102.00 317.00 L102.12 314.08 L102.24 309.84 L102.37 304.95 L102.49 299.88 L102.61 295.12 L102.65 293.90 L102.74 290.56 L102.86 285.31 L102.99 280.13 L103.11 275.86 L103.24 273.34 L103.30 273.00 L103.36 273.08 L103.49 273.71 L103.61 274.91 L103.74 276.61 L103.86 278.77 L103.99 281.32 L104.11 284.22 L104.20 286.40 L104.24 287.74 L104.36 295.90 L104.49 306.71 L104.61 316.12 L104.70 319.70 L104.74 320.45 L104.86 322.63 L104.99 324.35 L105.11 325.63 L105.24 326.51 L105.30 326.80 L105.36 327.04 L105.49 327.46 L105.61 327.83 L105.74 328.14 L105.86 328.40 L105.99 328.61 L106.11 328.79 L106.24 328.94 L106.30 329.00 L106.36 329.06 L106.49 329.17 L106.61 329.28 L106.74 329.37 L106.86 329.46 L106.99 329.52 L107.11 329.57 L107.24 329.60 L107.30 329.60 L107.36 329.60 L107.48 329.60 L107.61 329.60 L107.73 329.60 L107.86 329.60 L107.98 329.60 L108.11 329.60 L108.23 329.60 L108.36 329.60 L108.48 329.60 L108.61 329.60 L108.73 329.60 L108.86 329.60 L108.98 329.60 L109.11 329.60 L109.23 329.60 L109.36 329.60 L109.48 329.60 L109.61 329.60 L109.73 329.60 L109.86 329.60 L109.98 329.60 L110.11 329.60 L110.23 329.60 L110.36 329.60 L110.48 329.60 L110.61 329.60 L110.73 329.60 L110.86 329.60 L110.98 329.60 L111.11 329.60 L111.23 329.60 L111.36 329.60 L111.48 329.60 L111.61 329.60 L111.73 329.60 L111.86 329.60 L111.98 329.60 L112.11 329.60 L112.23 329.60 L112.35 329.60 L112.48 329.60 L112.60 329.60 L112.73 329.60 L112.85 329.60 L112.98 329.60 L113.10 329.60 L113.23 329.60 L113.35 329.60 L113.48 329.60 L113.60 329.60 L113.73 329.60 L113.85 329.60 L113.98 329.60 L114.10 329.60 L114.23 329.60 L114.35 329.60 L114.48 329.60 L114.60 329.60 L114.73 329.60 L114.85 329.60 L114.98 329.60 L115.10 329.60 L115.23 329.60 L115.35 329.60 L115.48 329.60 L115.60 329.60 L115.73 329.60 L115.85 329.60 L115.98 329.60 L116.10 329.60 L116.23 329.60 L116.35 329.60 L116.48 329.60 L116.60 329.60 L116.73 329.60 L116.85 329.60 L116.97 329.60 L117.10 329.60 L117.22 329.60 L117.35 329.60 L117.47 329.60 L117.60 329.60 L117.72 329.60 L117.85 329.60 L117.97 329.60 L118.10 329.60 L118.22 329.60 L118.35 329.60 L118.47 329.60 L118.60 329.60 L118.72 329.60 L118.85 329.60 L118.97 329.60 L119.10 329.60 L119.22 329.60 L119.35 329.60 L119.47 329.60 L119.60 329.60 L119.72 329.60 L119.85 329.60 L119.97 329.60 L120.10 329.60 L120.22 329.60 L120.35 329.60 L120.47 329.60 L120.60 329.60 L120.72 329.60 L120.85 329.60 L120.97 329.60 L121.10 329.60 L121.22 329.60 L121.35 329.60 L121.47 329.60 L121.60 329.60 L121.70 329.60 L121.72 329.60 L121.84 329.55 L121.97 329.42 L122.09 329.22 L122.22 328.95 L122.34 328.62 L122.35 328.60 L122.47 327.88 L122.59 326.24 L122.70 324.00 L122.72 323.34 L122.84 311.48 L122.90 303.00 L122.97 279.65 L123.00 274.00 L123.09 301.74 L123.10 303.00 L123.22 318.86 L123.30 324.00 L123.34 325.02 L123.47 327.18 L123.59 328.35 L123.65 328.60 L123.72 328.79 L123.84 329.10 L123.97 329.33 L124.09 329.49 L124.22 329.58 L124.30 329.60 L124.34 329.60 L124.47 329.60 L124.59 329.60 L124.72 329.60 L124.84 329.60 L124.97 329.60 L125.09 329.60 L125.22 329.60 L125.34 329.60 L125.47 329.60 L125.59 329.60 L125.72 329.60 L125.84 329.60 L125.97 329.60 L126.09 329.60 L126.22 329.60 L126.34 329.60 L126.47 329.60 L126.59 329.60 L126.71 329.60 L126.84 329.60 L126.96 329.60 L127.09 329.60 L127.21 329.60 L127.34 329.60 L127.46 329.60 L127.59 329.60 L127.71 329.60 L127.84 329.60 L127.96 329.60 L128.09 329.60 L128.21 329.60 L128.34 329.60 L128.46 329.60 L128.59 329.60 L128.71 329.60 L128.84 329.60 L128.96 329.60 L129.09 329.60 L129.21 329.60 L129.34 329.60 L129.46 329.60 L129.59 329.60 L129.71 329.60 L129.84 329.60 L129.96 329.60 L130.09 329.60 L130.21 329.60 L130.34 329.60 L130.46 329.60 L130.59 329.60 L130.71 329.60 L130.84 329.60 L130.96 329.60 L131.09 329.60 L131.21 329.60 L131.33 329.60 L131.46 329.60 L131.58 329.60 L131.60 329.60 L131.71 329.59 L131.83 329.56 L131.96 329.50 L132.08 329.43 L132.21 329.34 L132.33 329.24 L132.46 329.13 L132.58 329.02 L132.60 329.00 L132.71 328.88 L132.83 328.69 L132.96 328.45 L133.08 328.16 L133.21 327.82 L133.33 327.42 L133.46 326.97 L133.50 326.80 L133.58 326.42 L133.71 325.68 L133.83 324.67 L133.96 323.35 L134.08 321.67 L134.20 319.70 L134.21 319.56 L134.33 313.24 L134.46 302.71 L134.58 292.28 L134.70 286.40 L134.71 286.26 L134.83 283.58 L134.96 281.16 L135.08 279.02 L135.21 277.18 L135.33 275.65 L135.46 274.45 L135.58 273.60 L135.71 273.11 L135.80 273.00 L135.83 273.10 L135.96 275.40 L136.08 279.70 L136.20 284.64 L136.28 287.19 L136.33 289.15 L136.45 294.23 L136.58 299.50 L136.70 304.16 L136.75 305.55 L136.83 307.75 L136.95 311.01 L137.08 313.78 L137.20 315.82 L137.22 316.08 L137.33 317.24 L137.45 318.48 L137.58 319.37 L137.70 319.70 L137.70 319.70 L137.83 319.59 L137.95 319.29 L138.08 318.83 L138.20 318.24 L138.33 317.56 L138.45 316.83 L138.57 316.08 L138.58 316.06 L138.70 315.14 L138.83 313.96 L138.95 312.56 L139.08 310.97 L139.20 309.25 L139.33 307.42 L139.45 305.55 L139.45 305.53 L139.58 303.38 L139.70 300.87 L139.83 298.11 L139.95 295.23 L140.08 292.37 L140.20 289.64 L140.32 287.19 L140.33 287.18 L140.45 284.72 L140.58 282.04 L140.70 279.36 L140.83 276.91 L140.95 274.88 L141.07 273.51 L141.20 273.00 L141.20 273.00 L141.32 273.03 L141.45 273.11 L141.57 273.24 L141.70 273.41 L141.82 273.62 L141.95 273.87 L142.07 274.14 L142.20 274.43 L142.27 274.62 L142.32 274.76 L142.45 275.28 L142.57 276.01 L142.70 276.89 L142.82 277.91 L142.95 279.02 L143.07 280.20 L143.20 281.41 L143.32 282.61 L143.35 282.87 L143.45 283.87 L143.57 285.33 L143.70 286.94 L143.82 288.63 L143.95 290.35 L144.07 292.04 L144.20 293.62 L144.32 295.04 L144.43 296.04 L144.45 296.23 L144.57 297.39 L144.70 298.57 L144.82 299.73 L144.95 300.82 L145.07 301.79 L145.20 302.59 L145.32 303.17 L145.45 303.47 L145.50 303.50 L145.57 303.44 L145.69 303.07 L145.82 302.41 L145.94 301.52 L146.07 300.46 L146.19 299.28 L146.32 298.04 L146.44 296.81 L146.53 296.04 L146.57 295.62 L146.69 294.22 L146.82 292.62 L146.94 290.89 L147.07 289.09 L147.19 287.30 L147.32 285.59 L147.44 284.03 L147.55 282.87 L147.57 282.70 L147.69 281.44 L147.82 280.17 L147.94 278.94 L148.07 277.78 L148.19 276.73 L148.32 275.83 L148.44 275.12 L148.57 274.65 L148.57 274.62 L148.69 274.32 L148.82 274.02 L148.94 273.75 L149.07 273.51 L149.19 273.31 L149.32 273.15 L149.44 273.05 L149.57 273.00 L149.60 273.00 L149.69 273.00 L149.82 273.02 L149.94 273.06 L150.07 273.11 L150.19 273.17 L150.32 273.25 L150.44 273.34 L150.56 273.44 L150.69 273.54 L150.72 273.57 L150.81 273.69 L150.94 273.97 L151.06 274.36 L151.19 274.85 L151.31 275.42 L151.44 276.05 L151.56 276.71 L151.69 277.41 L151.81 278.10 L151.85 278.31 L151.94 278.84 L152.06 279.73 L152.19 280.75 L152.31 281.84 L152.44 282.98 L152.56 284.11 L152.69 285.21 L152.81 286.22 L152.94 287.10 L152.97 287.34 L153.06 287.88 L153.19 288.69 L153.31 289.51 L153.44 290.31 L153.56 291.06 L153.69 291.71 L153.81 292.24 L153.94 292.61 L154.06 292.79 L154.10 292.80 L154.19 292.74 L154.31 292.46 L154.44 291.99 L154.56 291.36 L154.69 290.62 L154.81 289.80 L154.94 288.95 L155.06 288.09 L155.18 287.34 L155.19 287.27 L155.31 286.38 L155.43 285.34 L155.56 284.20 L155.68 283.01 L155.81 281.82 L155.93 280.68 L156.06 279.63 L156.18 278.72 L156.25 278.31 L156.31 277.96 L156.43 277.23 L156.56 276.51 L156.68 275.83 L156.81 275.19 L156.93 274.63 L157.06 274.16 L157.18 273.81 L157.31 273.59 L157.32 273.57 L157.43 273.47 L157.56 273.37 L157.68 273.27 L157.81 273.19 L157.93 273.12 L158.06 273.07 L158.18 273.03 L158.31 273.01 L158.40 273.00 L158.43 273.00 L158.56 273.01 L158.68 273.03 L158.81 273.06 L158.93 273.10 L159.06 273.15 L159.18 273.21 L159.31 273.27 L159.43 273.35 L159.53 273.41 L159.56 273.43 L159.68 273.58 L159.81 273.82 L159.93 274.14 L160.05 274.51 L160.18 274.94 L160.30 275.40 L160.43 275.88 L160.55 276.38 L160.65 276.75 L160.68 276.87 L160.80 277.45 L160.93 278.13 L161.05 278.88 L161.18 279.67 L161.30 280.48 L161.43 281.27 L161.55 282.02 L161.68 282.69 L161.78 283.14 L161.80 283.26 L161.93 283.82 L162.05 284.40 L162.18 284.98 L162.30 285.53 L162.43 286.02 L162.55 286.44 L162.68 286.76 L162.80 286.95 L162.90 287.00 L162.93 287.00 L163.05 286.98 L163.18 286.92 L163.30 286.82 L163.43 286.68 L163.55 286.50 L163.68 286.26 L163.80 285.98 L163.93 285.64 L164.05 285.24 L164.18 284.77 L164.30 284.25 L164.43 283.65 L164.55 282.98 L164.68 282.23 L164.80 281.40" fill="none" stroke="#D95319" stroke-width="2.85" stroke-linejoin="round" stroke-linecap="butt"/>
<text x="52.10" y="323.70" font-size="16.00" font-weight="bold" fill="#000">(g)</text>
<text transform="translate(402.20 348.50) scale(0.930 1)" font-size="14.50" fill="#262626" text-anchor="middle">600</text>
<path d="M491.13 329.60 v-4.03 M491.13 273.00 v4.03" stroke="#262626" stroke-width="2.85" fill="none"/>
<text transform="translate(491.13 348.50) scale(0.930 1)" font-size="14.50" fill="#262626" text-anchor="middle">800</text>
<path d="M580.06 329.60 v-4.03 M580.06 273.00 v4.03" stroke="#262626" stroke-width="2.85" fill="none"/>
<text transform="translate(580.06 348.50) scale(0.930 1)" font-size="14.50" fill="#262626" text-anchor="middle">1000</text>
<text transform="translate(668.99 348.50) scale(0.930 1)" font-size="14.50" fill="#262626" text-anchor="middle">1200</text>
<path d="M402.20 301.30 h4.03 M669.00 301.30 h-4.03" stroke="#262626" stroke-width="2.85" fill="none"/>
<text transform="translate(397.60 278.60) scale(0.930 1)" font-size="14.50" fill="#262626" text-anchor="end">100</text>
<text transform="translate(397.60 306.90) scale(0.930 1)" font-size="14.50" fill="#262626" text-anchor="end">50</text>
<text transform="translate(397.60 335.20) scale(0.930 1)" font-size="14.50" fill="#262626" text-anchor="end">0</text>
<rect x="402.20" y="273.00" width="266.80" height="56.60" fill="none" stroke="#262626" stroke-width="2.85"/>
<path d="M535.60 273.00 L535.72 275.86 L535.85 278.65 L535.97 281.36 L536.10 283.99 L536.22 286.55 L536.35 289.02 L536.47 291.42 L536.60 293.73 L536.72 295.97 L536.85 298.12 L536.97 300.18 L537.10 302.17 L537.22 304.07 L537.35 305.88 L537.47 307.61 L537.60 309.25 L537.72 310.80 L537.85 312.26 L537.97 313.63 L538.10 314.92 L538.22 316.11 L538.35 317.21 L538.47 318.22 L538.60 319.13 L538.72 319.95 L538.85 320.67 L538.97 321.30 L539.10 321.83 L539.22 322.26 L539.35 322.59 L539.47 322.83 L539.60 322.96 L539.70 323.00 L539.72 323.00 L539.85 322.96 L539.97 322.85 L540.10 322.70 L540.22 322.49 L540.34 322.25 L540.47 321.97 L540.59 321.66 L540.72 321.33 L540.75 321.25 L540.84 320.93 L540.97 320.35 L541.09 319.60 L541.22 318.70 L541.34 317.66 L541.47 316.50 L541.59 315.24 L541.72 313.91 L541.80 313.00 L541.84 312.48 L541.97 310.65 L542.09 308.41 L542.22 305.86 L542.34 303.11 L542.47 300.26 L542.59 297.42 L542.72 294.68 L542.84 292.15 L542.85 292.00 L542.97 289.59 L543.09 286.72 L543.22 283.71 L543.34 280.76 L543.47 278.04 L543.59 275.74 L543.72 274.04 L543.84 273.11 L543.90 273.00 L543.97 273.16 L544.09 274.27 L544.22 276.25 L544.34 278.88 L544.47 281.93 L544.59 285.19 L544.72 288.44 L544.84 291.46 L544.90 292.76 L544.96 294.15 L545.09 297.05 L545.21 300.12 L545.34 303.24 L545.46 306.29 L545.59 309.15 L545.71 311.68 L545.84 313.78 L545.90 314.60 L545.96 315.38 L546.09 316.85 L546.21 318.22 L546.34 319.48 L546.46 320.61 L546.59 321.58 L546.71 322.37 L546.84 322.97 L546.90 323.18 L546.96 323.37 L547.09 323.72 L547.21 324.05 L547.34 324.34 L547.46 324.58 L547.59 324.78 L547.71 324.92 L547.84 324.99 L547.90 325.00 L547.96 324.99 L548.09 324.91 L548.21 324.76 L548.34 324.54 L548.46 324.27 L548.59 323.96 L548.71 323.61 L548.84 323.22 L548.85 323.18 L548.96 322.73 L549.09 322.01 L549.21 321.07 L549.34 319.96 L549.46 318.68 L549.59 317.27 L549.71 315.75 L549.80 314.60 L549.83 314.12 L549.96 312.01 L550.08 309.39 L550.21 306.40 L550.33 303.19 L550.46 299.91 L550.58 296.69 L550.71 293.68 L550.75 292.76 L550.83 290.81 L550.96 287.55 L551.08 284.10 L551.21 280.72 L551.33 277.66 L551.46 275.19 L551.58 273.55 L551.70 273.00 L551.71 273.00 L551.83 273.83 L551.96 275.89 L552.08 278.87 L552.21 282.44 L552.33 286.30 L552.46 290.11 L552.58 293.56 L552.60 294.01 L552.71 296.79 L552.83 300.32 L552.96 304.00 L553.08 307.65 L553.21 311.07 L553.33 314.10 L553.46 316.55 L553.50 317.24 L553.58 318.40 L553.71 320.10 L553.83 321.68 L553.96 323.10 L554.08 324.32 L554.21 325.32 L554.33 326.07 L554.40 326.36 L554.45 326.56 L554.58 326.97 L554.70 327.35 L554.83 327.68 L554.95 327.95 L555.08 328.15 L555.20 328.27 L555.30 328.30 L555.33 328.29 L555.45 328.14 L555.58 327.80 L555.70 327.32 L555.83 326.74 L555.90 326.36 L555.95 326.02 L556.08 324.77 L556.20 322.99 L556.33 320.79 L556.45 318.26 L556.50 317.24 L556.58 315.21 L556.70 310.82 L556.83 305.56 L556.95 300.04 L557.08 294.88 L557.10 294.01 L557.20 289.82 L557.33 284.05 L557.45 278.61 L557.58 274.56 L557.70 273.00 L557.70 273.00 L557.83 273.42 L557.95 274.61 L558.08 276.47 L558.20 278.89 L558.33 281.78 L558.45 285.03 L558.50 286.40 L558.58 289.79 L558.70 299.28 L558.83 310.09 L558.95 318.15 L559.00 319.70 L559.07 321.00 L559.20 322.82 L559.32 324.27 L559.45 325.39 L559.57 326.22 L559.70 326.80 L559.70 326.80 L559.82 327.24 L559.95 327.62 L560.07 327.96 L560.20 328.25 L560.32 328.49 L560.45 328.70 L560.57 328.86 L560.70 329.00 L560.70 329.00 L560.82 329.11 L560.95 329.22 L561.07 329.33 L561.20 329.42 L561.32 329.49 L561.45 329.55 L561.57 329.59 L561.70 329.60 L561.70 329.60 L561.82 329.60 L561.95 329.60 L562.07 329.60 L562.20 329.60 L562.32 329.60 L562.45 329.60 L562.57 329.60 L562.70 329.60 L562.82 329.60 L562.95 329.60 L563.07 329.60 L563.20 329.60 L563.32 329.60 L563.45 329.60 L563.57 329.60 L563.69 329.60 L563.82 329.60 L563.94 329.60 L564.07 329.60 L564.19 329.60 L564.32 329.60 L564.44 329.60 L564.57 329.60 L564.69 329.60 L564.82 329.60 L564.94 329.60 L565.07 329.60 L565.19 329.60 L565.32 329.60 L565.44 329.60 L565.57 329.60 L565.69 329.60 L565.82 329.60 L565.94 329.60 L566.07 329.60 L566.19 329.60 L566.32 329.60 L566.44 329.60 L566.57 329.60 L566.69 329.60 L566.82 329.60 L566.94 329.60 L567.07 329.60 L567.19 329.60 L567.32 329.60 L567.44 329.60 L567.57 329.60 L567.69 329.60 L567.82 329.60 L567.94 329.60 L568.07 329.60 L568.19 329.60 L568.31 329.60 L568.44 329.60 L568.56 329.60 L568.69 329.60 L568.81 329.60 L568.94 329.60 L569.06 329.60 L569.19 329.60 L569.31 329.60 L569.44 329.60 L569.56 329.60 L569.69 329.60 L569.81 329.60 L569.94 329.60 L570.06 329.60 L570.19 329.60 L570.31 329.60 L570.44 329.60 L570.56 329.60 L570.69 329.60 L570.81 329.60 L570.94 329.60 L571.06 329.60 L571.19 329.60 L571.31 329.60 L571.44 329.60 L571.56 329.60 L571.69 329.60 L571.81 329.60 L571.94 329.60 L572.06 329.60 L572.19 329.60 L572.31 329.60 L572.44 329.60 L572.56 329.60 L572.69 329.60 L572.81 329.60 L572.94 329.60 L573.06 329.60 L573.18 329.60 L573.31 329.60 L573.43 329.60 L573.56 329.60 L573.68 329.60 L573.81 329.60 L573.93 329.60 L574.06 329.60 L574.18 329.60 L574.31 329.60 L574.43 329.60 L574.56 329.60 L574.68 329.60 L574.81 329.60 L574.93 329.60 L575.06 329.60 L575.18 329.60 L575.31 329.60 L575.43 329.60 L575.56 329.60 L575.68 329.60 L575.81 329.60 L575.93 329.60 L576.06 329.60 L576.18 329.60 L576.31 329.60 L576.43 329.60 L576.56 329.60 L576.68 329.60 L576.81 329.60 L576.93 329.60 L577.06 329.60 L577.18 329.60 L577.31 329.60 L577.43 329.60 L577.56 329.60 L577.68 329.60 L577.80 329.60 L577.93 329.60 L578.05 329.60 L578.18 329.60 L578.30 329.60 L578.43 329.60 L578.55 329.60 L578.68 329.60 L578.80 329.60 L578.93 329.60 L579.05 329.60 L579.18 329.60 L579.30 329.60 L579.43 329.60 L579.55 329.60 L579.68 329.60 L579.80 329.60 L579.93 329.60 L580.05 329.60 L580.18 329.60 L580.30 329.60 L580.43 329.60 L580.55 329.60 L580.68 329.60 L580.80 329.60 L580.93 329.60 L581.05 329.60 L581.18 329.60 L581.30 329.60 L581.43 329.60 L581.55 329.60 L581.68 329.60 L581.80 329.60 L581.93 329.60 L582.05 329.60 L582.18 329.60 L582.30 329.60 L582.42 329.60 L582.55 329.60 L582.67 329.60 L582.80 329.60 L582.92 329.60 L583.05 329.60 L583.17 329.60 L583.30 329.60 L583.42 329.60 L583.55 329.60 L583.67 329.60 L583.80 329.60 L583.92 329.60 L584.05 329.60 L584.17 329.60 L584.30 329.60 L584.42 329.60 L584.55 329.60 L584.67 329.60 L584.80 329.60 L584.92 329.60 L585.05 329.60 L585.17 329.60 L585.30 329.60 L585.42 329.60 L585.55 329.60 L585.67 329.60 L585.80 329.60 L585.92 329.60 L586.05 329.60 L586.17 329.60 L586.30 329.60 L586.42 329.60 L586.55 329.60 L586.67 329.60 L586.80 329.60 L586.92 329.60 L587.04 329.60 L587.17 329.60 L587.29 329.60 L587.42 329.60 L587.54 329.60 L587.67 329.60 L587.70 329.60 L587.79 329.58 L587.92 329.48 L588.04 329.31 L588.17 329.07 L588.29 328.76 L588.35 328.60 L588.42 328.28 L588.54 327.03 L588.67 324.76 L588.70 324.00 L588.79 317.73 L588.90 303.00 L588.92 298.47 L589.00 273.00 L589.04 283.05 L589.10 303.00 L589.17 313.07 L589.29 323.78 L589.30 324.00 L589.42 326.43 L589.54 327.98 L589.65 328.60 L589.67 328.65 L589.79 328.98 L589.92 329.24 L590.04 329.44 L590.17 329.56 L590.29 329.60 L590.30 329.60 L590.42 329.60 L590.54 329.60 L590.67 329.60 L590.79 329.60 L590.92 329.60 L591.04 329.60 L591.17 329.60 L591.29 329.60 L591.42 329.60 L591.54 329.60 L591.66 329.60 L591.79 329.60 L591.91 329.60 L592.04 329.60 L592.16 329.60 L592.29 329.60 L592.41 329.60 L592.54 329.60 L592.66 329.60 L592.79 329.60 L592.91 329.60 L593.04 329.60 L593.16 329.60 L593.29 329.60 L593.41 329.60 L593.54 329.60 L593.66 329.60 L593.79 329.60 L593.91 329.60 L594.04 329.60 L594.16 329.60 L594.29 329.60 L594.41 329.60 L594.54 329.60 L594.66 329.60 L594.79 329.60 L594.91 329.60 L595.04 329.60 L595.16 329.60 L595.29 329.60 L595.41 329.60 L595.54 329.60 L595.66 329.60 L595.79 329.60 L595.91 329.60 L596.04 329.60 L596.16 329.60 L596.29 329.60 L596.41 329.60 L596.53 329.60 L596.66 329.60 L596.78 329.60 L596.91 329.60 L597.03 329.60 L597.16 329.60 L597.28 329.60 L597.41 329.60 L597.53 329.60 L597.66 329.60 L597.78 329.60 L597.91 329.60 L598.03 329.60 L598.16 329.60 L598.28 329.60 L598.41 329.60 L598.53 329.60 L598.66 329.60 L598.78 329.60 L598.91 329.60 L599.03 329.60 L599.16 329.60 L599.28 329.60 L599.41 329.60 L599.53 329.60 L599.66 329.60 L599.78 329.60 L599.91 329.60 L600.00 329.60 L600.03 329.60 L600.16 329.58 L600.28 329.54 L600.41 329.48 L600.53 329.40 L600.66 329.30 L600.78 329.20 L600.91 329.09 L601.00 329.00 L601.03 328.97 L601.15 328.83 L601.28 328.65 L601.40 328.44 L601.53 328.19 L601.65 327.89 L601.78 327.54 L601.90 327.14 L602.00 326.80 L602.03 326.69 L602.15 326.05 L602.28 325.17 L602.40 323.98 L602.53 322.45 L602.65 320.53 L602.70 319.70 L602.78 316.73 L602.90 307.48 L603.03 296.48 L603.15 288.04 L603.20 286.40 L603.28 284.70 L603.40 282.17 L603.53 279.91 L603.65 277.93 L603.78 276.27 L603.90 274.92 L604.03 273.92 L604.15 273.28 L604.28 273.01 L604.30 273.00 L604.40 273.80 L604.53 276.61 L604.65 280.71 L604.78 285.38 L604.90 289.88 L604.95 291.44 L605.03 293.84 L605.15 298.21 L605.28 302.71 L605.40 306.95 L605.53 310.48 L605.60 312.09 L605.65 313.01 L605.77 315.16 L605.90 317.08 L606.02 318.69 L606.15 319.91 L606.25 320.56 L606.27 320.68 L606.40 321.25 L606.52 321.75 L606.65 322.14 L606.77 322.40 L606.90 322.50 L606.90 322.50 L607.02 322.47 L607.15 322.37 L607.27 322.21 L607.40 322.00 L607.52 321.75 L607.65 321.45 L607.77 321.13 L607.90 320.78 L607.98 320.56 L608.02 320.41 L608.15 319.88 L608.27 319.18 L608.40 318.34 L608.52 317.35 L608.65 316.25 L608.77 315.05 L608.90 313.77 L609.02 312.41 L609.05 312.09 L609.15 310.88 L609.27 308.93 L609.40 306.64 L609.52 304.12 L609.65 301.44 L609.77 298.70 L609.90 296.00 L610.02 293.43 L610.12 291.44 L610.15 291.07 L610.27 288.55 L610.39 285.79 L610.52 282.94 L610.64 280.16 L610.77 277.63 L610.89 275.50 L611.02 273.93 L611.14 273.09 L611.20 273.00 L611.27 273.01 L611.39 273.09 L611.52 273.23 L611.64 273.44 L611.77 273.70 L611.89 274.00 L612.02 274.35 L612.14 274.73 L612.27 275.13 L612.39 275.55 L612.40 275.57 L612.52 276.08 L612.64 276.81 L612.77 277.72 L612.89 278.77 L613.02 279.93 L613.14 281.17 L613.27 282.46 L613.39 283.78 L613.52 285.08 L613.60 285.92 L613.64 286.35 L613.77 287.74 L613.89 289.27 L614.02 290.89 L614.14 292.55 L614.27 294.21 L614.39 295.83 L614.52 297.35 L614.64 298.73 L614.77 299.93 L614.80 300.23 L614.89 300.99 L615.01 302.07 L615.14 303.15 L615.26 304.20 L615.39 305.17 L615.51 306.05 L615.64 306.78 L615.76 307.34 L615.89 307.69 L616.00 307.80 L616.01 307.80 L616.14 307.67 L616.26 307.33 L616.39 306.83 L616.51 306.18 L616.64 305.41 L616.76 304.55 L616.89 303.62 L617.01 302.65 L617.14 301.67 L617.26 300.70 L617.33 300.23 L617.39 299.74 L617.51 298.63 L617.64 297.37 L617.76 296.00 L617.89 294.54 L618.01 293.05 L618.14 291.54 L618.26 290.05 L618.39 288.62 L618.51 287.27 L618.64 286.05 L618.65 285.92 L618.76 284.90 L618.89 283.72 L619.01 282.53 L619.14 281.36 L619.26 280.22 L619.39 279.14 L619.51 278.15 L619.64 277.27 L619.76 276.51 L619.88 275.90 L619.97 275.57 L620.01 275.47 L620.13 275.09 L620.26 274.72 L620.38 274.38 L620.51 274.06 L620.63 273.78 L620.76 273.53 L620.88 273.32 L621.01 273.16 L621.13 273.05 L621.26 273.00 L621.30 273.00 L621.38 273.00 L621.51 273.02 L621.63 273.05 L621.76 273.10 L621.88 273.16 L622.01 273.23 L622.13 273.31 L622.26 273.40 L622.38 273.50 L622.51 273.61 L622.60 273.70 L622.63 273.74 L622.76 273.95 L622.88 274.29 L623.01 274.72 L623.13 275.24 L623.26 275.83 L623.38 276.48 L623.51 277.18 L623.63 277.90 L623.76 278.64 L623.88 279.37 L623.90 279.49 L624.01 280.16 L624.13 281.10 L624.26 282.15 L624.38 283.29 L624.50 284.48 L624.63 285.68 L624.75 286.88 L624.88 288.02 L625.00 289.09 L625.13 290.04 L625.20 290.52 L625.25 290.87 L625.38 291.72 L625.50 292.59 L625.63 293.45 L625.75 294.29 L625.88 295.07 L626.00 295.77 L626.13 296.36 L626.25 296.81 L626.38 297.10 L626.50 297.20 L626.50 297.20 L626.63 297.20 L626.75 297.18 L626.88 297.15 L627.00 297.10 L627.13 297.03 L627.25 296.93 L627.38 296.79 L627.50 296.62 L627.63 296.41 L627.75 296.15 L627.88 295.83 L628.00 295.47 L628.13 295.04 L628.25 294.55 L628.38 293.99 L628.50 293.36 L628.63 292.64 L628.75 291.85 L628.88 290.97 L629.00 290.00" fill="none" stroke="#0072BD" stroke-width="2.85" stroke-linejoin="round" stroke-linecap="butt"/>
<path d="M423.60 287.00 L423.72 290.59 L423.85 294.00 L423.97 297.24 L424.10 300.29 L424.22 303.17 L424.35 305.86 L424.47 308.36 L424.60 310.67 L424.72 312.78 L424.85 314.70 L424.97 316.41 L425.10 317.92 L425.22 319.22 L425.35 320.31 L425.47 321.18 L425.60 321.84 L425.72 322.27 L425.85 322.48 L425.90 322.50 L425.97 322.47 L426.10 322.30 L426.22 322.01 L426.35 321.60 L426.47 321.12 L426.60 320.57 L426.60 320.56 L426.72 319.80 L426.85 318.65 L426.97 317.16 L427.10 315.39 L427.22 313.42 L427.30 312.09 L427.35 311.23 L427.47 308.20 L427.60 304.46 L427.72 300.34 L427.85 296.17 L427.97 292.28 L428.00 291.44 L428.10 288.52 L428.22 284.23 L428.35 279.94 L428.47 276.25 L428.59 273.75 L428.70 273.00 L428.72 273.03 L428.84 274.26 L428.97 276.98 L429.09 280.69 L429.22 284.88 L429.34 289.05 L429.45 292.19 L429.47 292.70 L429.59 296.40 L429.72 300.39 L429.84 304.40 L429.97 308.14 L430.09 311.33 L430.20 313.40 L430.22 313.69 L430.34 315.60 L430.47 317.36 L430.59 318.90 L430.72 320.19 L430.84 321.17 L430.95 321.73 L430.97 321.80 L431.09 322.26 L431.22 322.68 L431.34 323.02 L431.47 323.29 L431.59 323.45 L431.70 323.50 L431.72 323.50 L431.84 323.41 L431.97 323.19 L432.09 322.86 L432.22 322.45 L432.34 321.97 L432.40 321.73 L432.47 321.40 L432.59 320.44 L432.72 319.12 L432.84 317.49 L432.97 315.62 L433.09 313.57 L433.10 313.40 L433.21 310.95 L433.34 307.42 L433.46 303.32 L433.59 298.99 L433.71 294.80 L433.80 292.19 L433.84 291.01 L433.96 286.75 L434.09 282.21 L434.21 278.01 L434.34 274.76 L434.46 273.10 L434.50 273.00 L434.59 273.51 L434.71 275.69 L434.84 279.12 L434.96 283.27 L435.09 287.64 L435.21 291.69 L435.25 292.76 L435.34 295.33 L435.46 299.34 L435.59 303.50 L435.71 307.51 L435.84 311.09 L435.96 313.93 L436.00 314.60 L436.09 316.00 L436.21 317.89 L436.34 319.58 L436.46 321.03 L436.59 322.19 L436.71 323.01 L436.75 323.18 L436.84 323.52 L436.96 323.97 L437.09 324.36 L437.21 324.67 L437.34 324.89 L437.46 324.99 L437.50 325.00 L437.59 324.96 L437.71 324.75 L437.84 324.39 L437.96 323.92 L438.08 323.37 L438.12 323.18 L438.21 322.64 L438.33 321.41 L438.46 319.73 L438.58 317.70 L438.71 315.40 L438.75 314.60 L438.83 312.60 L438.96 308.63 L439.08 303.89 L439.21 298.91 L439.33 294.18 L439.38 292.76 L439.46 289.72 L439.58 284.56 L439.71 279.49 L439.83 275.39 L439.96 273.17 L440.00 273.00 L440.08 273.86 L440.21 277.74 L440.33 283.51 L440.46 289.77 L440.55 293.90 L440.58 295.23 L440.71 300.92 L440.83 306.89 L440.96 312.36 L441.08 316.54 L441.10 317.00 L441.21 319.44 L441.33 321.98 L441.46 324.07 L441.58 325.56 L441.65 326.07 L441.71 326.39 L441.83 327.03 L441.96 327.55 L442.08 327.88 L442.20 328.00 L442.21 328.00 L442.33 327.85 L442.46 327.46 L442.58 326.89 L442.71 326.19 L442.73 326.07 L442.83 325.14 L442.95 323.35 L443.08 320.95 L443.20 318.11 L443.25 317.00 L443.33 314.58 L443.45 309.37 L443.58 303.23 L443.70 297.07 L443.77 293.90 L443.83 291.47 L443.95 285.03 L444.08 278.76 L444.20 274.25 L444.30 273.00 L444.33 273.01 L444.45 273.27 L444.58 273.88 L444.70 274.80 L444.83 276.01 L444.95 277.48 L445.08 279.19 L445.20 281.12 L445.33 283.23 L445.45 285.49 L445.50 286.40 L445.58 288.56 L445.70 294.38 L445.83 301.81 L445.95 309.46 L446.08 315.90 L446.20 319.70 L446.20 319.72 L446.33 321.66 L446.45 323.30 L446.58 324.64 L446.70 325.70 L446.83 326.47 L446.90 326.80 L446.95 326.99 L447.08 327.40 L447.20 327.77 L447.33 328.08 L447.45 328.35 L447.57 328.58 L447.70 328.77 L447.82 328.92 L447.90 329.00 L447.95 329.05 L448.07 329.16 L448.20 329.27 L448.32 329.36 L448.45 329.45 L448.57 329.52 L448.70 329.57 L448.82 329.60 L448.90 329.60 L448.95 329.60 L449.07 329.60 L449.20 329.60 L449.32 329.60 L449.45 329.60 L449.57 329.60 L449.70 329.60 L449.82 329.60 L449.95 329.60 L450.07 329.60 L450.20 329.60 L450.32 329.60 L450.45 329.60 L450.57 329.60 L450.70 329.60 L450.82 329.60 L450.95 329.60 L451.07 329.60 L451.20 329.60 L451.32 329.60 L451.45 329.60 L451.57 329.60 L451.70 329.60 L451.82 329.60 L451.95 329.60 L452.07 329.60 L452.20 329.60 L452.32 329.60 L452.44 329.60 L452.57 329.60 L452.69 329.60 L452.82 329.60 L452.94 329.60 L453.07 329.60 L453.19 329.60 L453.32 329.60 L453.44 329.60 L453.57 329.60 L453.69 329.60 L453.82 329.60 L453.94 329.60 L454.07 329.60 L454.19 329.60 L454.32 329.60 L454.44 329.60 L454.57 329.60 L454.69 329.60 L454.82 329.60 L454.94 329.60 L455.07 329.60 L455.19 329.60 L455.32 329.60 L455.44 329.60 L455.57 329.60 L455.69 329.60 L455.82 329.60 L455.94 329.60 L456.07 329.60 L456.19 329.60 L456.32 329.60 L456.44 329.60 L456.57 329.60 L456.69 329.60 L456.82 329.60 L456.94 329.60 L457.07 329.60 L457.19 329.60 L457.31 329.60 L457.44 329.60 L457.56 329.60 L457.69 329.60 L457.81 329.60 L457.94 329.60 L458.06 329.60 L458.19 329.60 L458.31 329.60 L458.44 329.60 L458.56 329.60 L458.69 329.60 L458.81 329.60 L458.94 329.60 L459.06 329.60 L459.19 329.60 L459.31 329.60 L459.44 329.60 L459.56 329.60 L459.69 329.60 L459.81 329.60 L459.94 329.60 L460.06 329.60 L460.19 329.60 L460.31 329.60 L460.44 329.60 L460.56 329.60 L460.69 329.60 L460.81 329.60 L460.94 329.60 L461.06 329.60 L461.19 329.60 L461.31 329.60 L461.44 329.60 L461.56 329.60 L461.69 329.60 L461.81 329.60 L461.93 329.60 L462.06 329.60 L462.18 329.60 L462.31 329.60 L462.43 329.60 L462.56 329.60 L462.68 329.60 L462.81 329.60 L462.93 329.60 L463.06 329.60 L463.18 329.60 L463.31 329.60 L463.43 329.60 L463.56 329.60 L463.68 329.60 L463.81 329.60 L463.93 329.60 L464.06 329.60 L464.18 329.60 L464.31 329.60 L464.43 329.60 L464.56 329.60 L464.68 329.60 L464.81 329.60 L464.93 329.60 L465.06 329.60 L465.18 329.60 L465.31 329.60 L465.43 329.60 L465.56 329.60 L465.68 329.60 L465.81 329.60 L465.93 329.60 L466.00 329.60 L466.06 329.59 L466.18 329.52 L466.31 329.37 L466.43 329.15 L466.56 328.86 L466.65 328.60 L466.68 328.49 L466.80 327.51 L466.93 325.58 L467.00 324.00 L467.05 321.20 L467.18 306.26 L467.20 303.00 L467.30 274.00 L467.30 274.13 L467.40 303.00 L467.43 307.59 L467.55 321.82 L467.60 324.00 L467.68 325.75 L467.80 327.61 L467.93 328.53 L467.95 328.60 L468.05 328.89 L468.18 329.17 L468.30 329.39 L468.43 329.53 L468.55 329.59 L468.60 329.60 L468.68 329.60 L468.80 329.60 L468.93 329.60 L469.05 329.60 L469.18 329.60 L469.30 329.60 L469.43 329.60 L469.55 329.60 L469.68 329.60 L469.80 329.60 L469.93 329.60 L470.05 329.60 L470.18 329.60 L470.30 329.60 L470.43 329.60 L470.55 329.60 L470.68 329.60 L470.80 329.60 L470.93 329.60 L471.05 329.60 L471.18 329.60 L471.30 329.60 L471.43 329.60 L471.55 329.60 L471.67 329.60 L471.80 329.60 L471.92 329.60 L472.05 329.60 L472.17 329.60 L472.30 329.60 L472.42 329.60 L472.55 329.60 L472.67 329.60 L472.80 329.60 L472.92 329.60 L473.05 329.60 L473.17 329.60 L473.30 329.60 L473.42 329.60 L473.55 329.60 L473.67 329.60 L473.80 329.60 L473.92 329.60 L474.05 329.60 L474.17 329.60 L474.30 329.60 L474.42 329.60 L474.55 329.60 L474.60 329.60 L474.67 329.60 L474.80 329.57 L474.92 329.52 L475.05 329.46 L475.17 329.37 L475.30 329.28 L475.42 329.17 L475.55 329.05 L475.60 329.00 L475.67 328.92 L475.80 328.75 L475.92 328.53 L476.05 328.26 L476.17 327.93 L476.29 327.55 L476.42 327.11 L476.50 326.80 L476.54 326.61 L476.67 325.93 L476.79 325.01 L476.92 323.79 L477.04 322.22 L477.17 320.25 L477.20 319.70 L477.29 315.83 L477.42 306.18 L477.54 295.29 L477.67 287.41 L477.70 286.40 L477.79 284.22 L477.92 281.55 L478.04 279.18 L478.17 277.15 L478.29 275.49 L478.42 274.22 L478.54 273.39 L478.67 273.02 L478.70 273.00 L478.79 274.23 L478.92 278.83 L479.04 285.09 L479.17 291.10 L479.18 291.44 L479.29 296.75 L479.42 302.90 L479.54 308.51 L479.65 312.09 L479.67 312.51 L479.79 315.46 L479.92 317.95 L480.04 319.79 L480.12 320.56 L480.17 320.83 L480.29 321.57 L480.42 322.14 L480.54 322.46 L480.60 322.50 L480.67 322.48 L480.79 322.37 L480.92 322.15 L481.04 321.85 L481.16 321.48 L481.29 321.06 L481.41 320.60 L481.43 320.56 L481.54 319.99 L481.66 319.09 L481.79 317.94 L481.91 316.57 L482.04 315.02 L482.16 313.33 L482.25 312.09 L482.29 311.49 L482.41 309.06 L482.54 306.06 L482.66 302.68 L482.79 299.13 L482.91 295.61 L483.04 292.33 L483.07 291.44 L483.16 289.20 L483.29 285.63 L483.41 281.92 L483.54 278.44 L483.66 275.56 L483.79 273.63 L483.90 273.00 L483.91 273.00 L484.04 273.08 L484.16 273.28 L484.29 273.58 L484.41 273.97 L484.54 274.44 L484.66 274.95 L484.79 275.51 L484.80 275.57 L484.91 276.24 L485.04 277.31 L485.16 278.67 L485.29 280.22 L485.41 281.91 L485.54 283.66 L485.66 285.39 L485.70 285.92 L485.79 287.13 L485.91 289.13 L486.03 291.29 L486.16 293.51 L486.28 295.68 L486.41 297.70 L486.53 299.45 L486.60 300.23 L486.66 300.89 L486.78 302.33 L486.91 303.76 L487.03 305.09 L487.16 306.24 L487.28 307.13 L487.41 307.67 L487.50 307.80 L487.53 307.78 L487.66 307.47 L487.78 306.80 L487.91 305.85 L488.03 304.70 L488.16 303.40 L488.28 302.04 L488.41 300.68 L488.45 300.23 L488.53 299.29 L488.66 297.61 L488.78 295.70 L488.91 293.65 L489.03 291.54 L489.16 289.48 L489.28 287.55 L489.40 285.92 L489.41 285.85 L489.53 284.22 L489.66 282.57 L489.78 280.94 L489.91 279.40 L490.03 278.01 L490.16 276.83 L490.28 275.93 L490.35 275.57 L490.41 275.34 L490.53 274.82 L490.65 274.34 L490.78 273.91 L490.90 273.55 L491.03 273.27 L491.15 273.08 L491.28 273.00 L491.30 273.00 L491.40 273.01 L491.53 273.07 L491.65 273.16 L491.78 273.29 L491.90 273.46 L492.03 273.68 L492.15 273.94 L492.28 274.24 L492.40 274.58 L492.53 274.97 L492.65 275.41 L492.78 275.89 L492.90 276.42 L493.03 276.99 L493.15 277.62 L493.28 278.29 L493.40 279.02 L493.53 279.79 L493.65 280.62 L493.78 281.50 L493.90 282.43 L494.03 283.42 L494.15 284.46 L494.28 285.55 L494.40 286.70 L494.53 287.91 L494.65 289.17 L494.78 290.49 L494.90 291.87 L495.03 293.31 L495.15 294.82 L495.28 296.38 L495.40 298.00" fill="none" stroke="#D95319" stroke-width="2.85" stroke-linejoin="round" stroke-linecap="butt"/>
<text x="403.90" y="322.20" font-size="16.00" font-weight="bold" fill="#000">(h)</text>
<text x="182.20" y="366.20" font-size="14.00" fill="#262626" text-anchor="middle">Frequency (Hz)</text>
<text transform="translate(13.40 158.70) rotate(-90)" font-size="14.00" fill="#262626" text-anchor="middle">Transmittance (%)</text>
<text transform="translate(17.00 301.80) rotate(-90)" font-size="14.00" fill="#262626" text-anchor="middle">Transmittance (%)</text>
<text x="535.60" y="366.80" font-size="14.00" fill="#262626" text-anchor="middle">Frequency (Hz)</text>
<text transform="translate(370.20 301.80) rotate(-90)" font-size="14.00" fill="#262626" text-anchor="middle">Transmittance (%)</text>
<rect x="165.8" y="24.9" width="69.1" height="40.3" fill="#fff" stroke="#262626" stroke-width="2.7"/>
<path d="M176 34 H193" stroke="#0072BD" stroke-width="2.4"/>
<path d="M176 52.6 H193" stroke="#D95319" stroke-width="2.4"/>
<text x="194.2" y="38.6" font-size="12.8" fill="#000">Air</text>
<text x="194.2" y="55.2" font-size="12.8" fill="#000">C<tspan dy="6" font-size="10">3</tspan><tspan dy="-6" font-size="12.8">H</tspan><tspan dy="6" font-size="10">8</tspan></text>
</svg></body></html>
